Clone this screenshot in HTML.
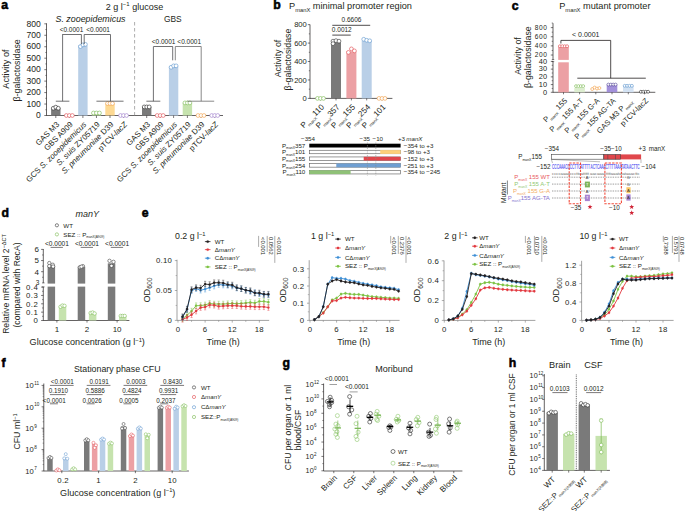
<!DOCTYPE html>
<html><head><meta charset="utf-8"><style>
html,body{margin:0;padding:0;background:#fff;overflow:hidden;}
svg{display:block;font-family:"Liberation Sans",sans-serif;}
</style></head><body>
<svg width="685" height="511" viewBox="0 0 685 511" fill="#231f20">
<text transform="translate(1.3 9.2) scale(1.02 1)" font-size="12" font-weight="bold" fill="#000" stroke="#000" stroke-width="0.55">a</text>
<text x="134.50" y="9.80" font-size="9" text-anchor="middle">2 g l<tspan dy="-3.5" font-size="6">−1</tspan><tspan dy="3.5"> glucose</tspan></text>
<text x="90.50" y="21.80" font-size="8.9" text-anchor="middle" font-style="italic">S. zooepidemicus</text>
<text x="172.80" y="21.80" font-size="8.4" text-anchor="middle">GBS</text>
<line x1="46.50" y1="23.30" x2="46.50" y2="115.80" stroke="#231f20" stroke-width="0.7"/>
<line x1="44.30" y1="115.50" x2="46.50" y2="115.50" stroke="#231f20" stroke-width="0.6"/>
<text x="40.90" y="118.20" font-size="8.6" text-anchor="end">0</text>
<line x1="44.30" y1="104.04" x2="46.50" y2="104.04" stroke="#231f20" stroke-width="0.6"/>
<text x="40.90" y="106.74" font-size="8.6" text-anchor="end">100</text>
<line x1="44.30" y1="92.58" x2="46.50" y2="92.58" stroke="#231f20" stroke-width="0.6"/>
<text x="40.90" y="95.28" font-size="8.6" text-anchor="end">200</text>
<line x1="44.30" y1="81.12" x2="46.50" y2="81.12" stroke="#231f20" stroke-width="0.6"/>
<text x="40.90" y="83.82" font-size="8.6" text-anchor="end">300</text>
<line x1="44.30" y1="69.66" x2="46.50" y2="69.66" stroke="#231f20" stroke-width="0.6"/>
<text x="40.90" y="72.36" font-size="8.6" text-anchor="end">400</text>
<line x1="44.30" y1="58.20" x2="46.50" y2="58.20" stroke="#231f20" stroke-width="0.6"/>
<text x="40.90" y="60.90" font-size="8.6" text-anchor="end">500</text>
<line x1="44.30" y1="46.74" x2="46.50" y2="46.74" stroke="#231f20" stroke-width="0.6"/>
<text x="40.90" y="49.44" font-size="8.6" text-anchor="end">600</text>
<line x1="44.30" y1="35.28" x2="46.50" y2="35.28" stroke="#231f20" stroke-width="0.6"/>
<text x="40.90" y="37.98" font-size="8.6" text-anchor="end">700</text>
<line x1="44.30" y1="23.82" x2="46.50" y2="23.82" stroke="#231f20" stroke-width="0.6"/>
<text x="40.90" y="26.52" font-size="8.6" text-anchor="end">800</text>
<line x1="45.30" y1="109.77" x2="46.50" y2="109.77" stroke="#231f20" stroke-width="0.5"/>
<line x1="45.30" y1="98.31" x2="46.50" y2="98.31" stroke="#231f20" stroke-width="0.5"/>
<line x1="45.30" y1="86.85" x2="46.50" y2="86.85" stroke="#231f20" stroke-width="0.5"/>
<line x1="45.30" y1="75.39" x2="46.50" y2="75.39" stroke="#231f20" stroke-width="0.5"/>
<line x1="45.30" y1="63.93" x2="46.50" y2="63.93" stroke="#231f20" stroke-width="0.5"/>
<line x1="45.30" y1="52.47" x2="46.50" y2="52.47" stroke="#231f20" stroke-width="0.5"/>
<line x1="45.30" y1="41.01" x2="46.50" y2="41.01" stroke="#231f20" stroke-width="0.5"/>
<line x1="45.30" y1="29.55" x2="46.50" y2="29.55" stroke="#231f20" stroke-width="0.5"/>
<text x="9.20" y="69.00" font-size="9.2" text-anchor="middle" transform="rotate(-90 9.20 69.00)">Activity of</text>
<text x="20.20" y="70.40" font-size="8.9" text-anchor="middle" transform="rotate(-90 20.20 70.40)">β-galactosidase</text>
<line x1="46.50" y1="115.50" x2="223.00" y2="115.50" stroke="#231f20" stroke-width="0.7"/>
<line x1="134.60" y1="22.00" x2="134.60" y2="116.00" stroke="#8a8a8a" stroke-width="0.7" stroke-dasharray="3.5,2.5"/>
<rect x="51.10" y="107.94" width="9.40" height="7.56" fill="#7a7a7a"/>
<line x1="55.80" y1="115.50" x2="55.80" y2="118.00" stroke="#231f20" stroke-width="0.6"/>
<circle cx="53.30" cy="108.24" r="1.9" fill="#fff" stroke="#222" stroke-width="0.6"/>
<circle cx="55.80" cy="107.14" r="1.9" fill="#fff" stroke="#222" stroke-width="0.6"/>
<circle cx="58.30" cy="108.24" r="1.9" fill="#fff" stroke="#222" stroke-width="0.6"/>
<line x1="69.35" y1="115.50" x2="69.35" y2="118.00" stroke="#231f20" stroke-width="0.6"/>
<circle cx="66.35" cy="115.50" r="1.9" fill="#fff" stroke="#e0474c" stroke-width="0.6"/>
<circle cx="69.35" cy="115.50" r="1.9" fill="#fff" stroke="#e0474c" stroke-width="0.6"/>
<circle cx="72.35" cy="115.50" r="1.9" fill="#fff" stroke="#e0474c" stroke-width="0.6"/>
<rect x="78.20" y="45.36" width="9.40" height="70.14" fill="#b9cfe7"/>
<line x1="82.90" y1="115.50" x2="82.90" y2="118.00" stroke="#231f20" stroke-width="0.6"/>
<circle cx="80.40" cy="46.56" r="1.9" fill="#fff" stroke="#5b93cc" stroke-width="0.6"/>
<circle cx="82.90" cy="44.86" r="1.9" fill="#fff" stroke="#5b93cc" stroke-width="0.6"/>
<circle cx="85.40" cy="44.36" r="1.9" fill="#fff" stroke="#5b93cc" stroke-width="0.6"/>
<rect x="91.75" y="112.98" width="9.40" height="2.52" fill="#c6e3ae"/>
<line x1="96.45" y1="115.50" x2="96.45" y2="118.00" stroke="#231f20" stroke-width="0.6"/>
<circle cx="93.45" cy="112.98" r="1.9" fill="#fff" stroke="#79b94f" stroke-width="0.6"/>
<circle cx="96.45" cy="112.98" r="1.9" fill="#fff" stroke="#79b94f" stroke-width="0.6"/>
<circle cx="99.45" cy="112.98" r="1.9" fill="#fff" stroke="#79b94f" stroke-width="0.6"/>
<rect x="105.30" y="103.47" width="9.40" height="12.03" fill="#fdd993"/>
<line x1="110.00" y1="115.50" x2="110.00" y2="118.00" stroke="#231f20" stroke-width="0.6"/>
<circle cx="107.50" cy="103.47" r="1.9" fill="#fff" stroke="#f19a3e" stroke-width="0.6"/>
<circle cx="110.00" cy="103.47" r="1.9" fill="#fff" stroke="#f19a3e" stroke-width="0.6"/>
<circle cx="112.50" cy="103.47" r="1.9" fill="#fff" stroke="#f19a3e" stroke-width="0.6"/>
<line x1="123.55" y1="115.50" x2="123.55" y2="118.00" stroke="#231f20" stroke-width="0.6"/>
<circle cx="120.55" cy="115.50" r="1.9" fill="#fff" stroke="#9b77c9" stroke-width="0.6"/>
<circle cx="123.55" cy="115.50" r="1.9" fill="#fff" stroke="#9b77c9" stroke-width="0.6"/>
<circle cx="126.55" cy="115.50" r="1.9" fill="#fff" stroke="#9b77c9" stroke-width="0.6"/>
<rect x="142.00" y="106.91" width="9.40" height="8.59" fill="#7a7a7a"/>
<line x1="146.70" y1="115.50" x2="146.70" y2="118.00" stroke="#231f20" stroke-width="0.6"/>
<circle cx="144.20" cy="106.91" r="1.9" fill="#fff" stroke="#222" stroke-width="0.6"/>
<circle cx="146.70" cy="106.91" r="1.9" fill="#fff" stroke="#222" stroke-width="0.6"/>
<circle cx="149.20" cy="106.91" r="1.9" fill="#fff" stroke="#222" stroke-width="0.6"/>
<line x1="160.20" y1="115.50" x2="160.20" y2="118.00" stroke="#231f20" stroke-width="0.6"/>
<circle cx="157.20" cy="115.50" r="1.9" fill="#fff" stroke="#e0474c" stroke-width="0.6"/>
<circle cx="160.20" cy="115.50" r="1.9" fill="#fff" stroke="#e0474c" stroke-width="0.6"/>
<circle cx="163.20" cy="115.50" r="1.9" fill="#fff" stroke="#e0474c" stroke-width="0.6"/>
<rect x="168.90" y="66.45" width="9.40" height="49.05" fill="#b9cfe7"/>
<line x1="173.60" y1="115.50" x2="173.60" y2="118.00" stroke="#231f20" stroke-width="0.6"/>
<circle cx="171.10" cy="67.25" r="1.9" fill="#fff" stroke="#5b93cc" stroke-width="0.6"/>
<circle cx="173.60" cy="65.85" r="1.9" fill="#fff" stroke="#5b93cc" stroke-width="0.6"/>
<circle cx="176.10" cy="65.85" r="1.9" fill="#fff" stroke="#5b93cc" stroke-width="0.6"/>
<rect x="182.70" y="102.89" width="9.40" height="12.61" fill="#c6e3ae"/>
<line x1="187.40" y1="115.50" x2="187.40" y2="118.00" stroke="#231f20" stroke-width="0.6"/>
<circle cx="184.90" cy="102.89" r="1.9" fill="#fff" stroke="#79b94f" stroke-width="0.6"/>
<circle cx="187.40" cy="102.89" r="1.9" fill="#fff" stroke="#79b94f" stroke-width="0.6"/>
<circle cx="189.90" cy="102.89" r="1.9" fill="#fff" stroke="#79b94f" stroke-width="0.6"/>
<line x1="201.00" y1="115.50" x2="201.00" y2="118.00" stroke="#231f20" stroke-width="0.6"/>
<circle cx="198.00" cy="115.50" r="1.9" fill="#fff" stroke="#f19a3e" stroke-width="0.6"/>
<circle cx="201.00" cy="115.50" r="1.9" fill="#fff" stroke="#f19a3e" stroke-width="0.6"/>
<circle cx="204.00" cy="115.50" r="1.9" fill="#fff" stroke="#f19a3e" stroke-width="0.6"/>
<line x1="214.70" y1="115.50" x2="214.70" y2="118.00" stroke="#231f20" stroke-width="0.6"/>
<circle cx="211.70" cy="115.50" r="1.9" fill="#fff" stroke="#9b77c9" stroke-width="0.6"/>
<circle cx="214.70" cy="115.50" r="1.9" fill="#fff" stroke="#9b77c9" stroke-width="0.6"/>
<circle cx="217.70" cy="115.50" r="1.9" fill="#fff" stroke="#9b77c9" stroke-width="0.6"/>
<text x="59.80" y="125.00" font-size="7.9" text-anchor="end" transform="rotate(-45 59.80 125.00)"><tspan>GAS M3</tspan></text>
<text x="73.35" y="125.00" font-size="7.9" text-anchor="end" transform="rotate(-45 73.35 125.00)"><tspan>GBS A909</tspan></text>
<text x="86.90" y="125.00" font-size="7.9" text-anchor="end" transform="rotate(-45 86.90 125.00)"><tspan>GCS </tspan><tspan font-style="italic">S. zooepidemicus</tspan></text>
<text x="100.45" y="125.00" font-size="7.9" text-anchor="end" transform="rotate(-45 100.45 125.00)"><tspan font-style="italic">S. suis</tspan><tspan> ZY05719</tspan></text>
<text x="114.00" y="125.00" font-size="7.9" text-anchor="end" transform="rotate(-45 114.00 125.00)"><tspan font-style="italic">S. pneumoniae</tspan><tspan> D39</tspan></text>
<text x="127.55" y="125.00" font-size="7.9" text-anchor="end" transform="rotate(-45 127.55 125.00)"><tspan>pTCV-</tspan><tspan font-style="italic">lacZ</tspan></text>
<text x="150.70" y="125.00" font-size="7.9" text-anchor="end" transform="rotate(-45 150.70 125.00)"><tspan>GAS M3</tspan></text>
<text x="164.20" y="125.00" font-size="7.9" text-anchor="end" transform="rotate(-45 164.20 125.00)"><tspan>GBS A909</tspan></text>
<text x="177.60" y="125.00" font-size="7.9" text-anchor="end" transform="rotate(-45 177.60 125.00)"><tspan>GCS </tspan><tspan font-style="italic">S. zooepidemicus</tspan></text>
<text x="191.40" y="125.00" font-size="7.9" text-anchor="end" transform="rotate(-45 191.40 125.00)"><tspan font-style="italic">S. suis</tspan><tspan> ZY05719</tspan></text>
<text x="205.00" y="125.00" font-size="7.9" text-anchor="end" transform="rotate(-45 205.00 125.00)"><tspan font-style="italic">S. pneumoniae</tspan><tspan> D39</tspan></text>
<text x="218.70" y="125.00" font-size="7.9" text-anchor="end" transform="rotate(-45 218.70 125.00)"><tspan>pTCV-</tspan><tspan font-style="italic">lacZ</tspan></text>
<polyline points="55.80,101.20 69.35,101.20" fill="none" stroke="#4d4d4f" stroke-width="0.8"/>
<line x1="62.60" y1="101.20" x2="62.60" y2="34.20" stroke="#4d4d4f" stroke-width="0.8"/>
<polyline points="62.60,34.50 81.40,34.50 81.40,44.20" fill="none" stroke="#4d4d4f" stroke-width="0.8"/>
<polyline points="84.20,44.20 84.20,34.50 110.50,34.50 110.50,101.20" fill="none" stroke="#4d4d4f" stroke-width="0.8"/>
<polyline points="96.45,101.20 123.55,101.20" fill="none" stroke="#4d4d4f" stroke-width="0.8"/>
<text x="71.50" y="31.80" font-size="6.5" text-anchor="middle">&lt;0.0001</text>
<text x="98.10" y="31.80" font-size="6.5" text-anchor="middle">&lt;0.0001</text>
<polyline points="146.40,101.20 160.30,101.20" fill="none" stroke="#4d4d4f" stroke-width="0.8"/>
<line x1="153.40" y1="101.20" x2="153.40" y2="46.70" stroke="#4d4d4f" stroke-width="0.8"/>
<polyline points="153.40,46.50 172.70,46.50 172.70,60.30" fill="none" stroke="#4d4d4f" stroke-width="0.8"/>
<polyline points="175.30,60.30 175.30,46.50 201.20,46.50 201.20,101.20" fill="none" stroke="#6a6a6a" stroke-width="0.8"/>
<polyline points="187.30,101.20 214.20,101.20" fill="none" stroke="#6a6a6a" stroke-width="0.8"/>
<text x="163.60" y="44.20" font-size="6.5" text-anchor="middle">&lt;0.0001</text>
<text x="189.20" y="44.20" font-size="6.5" text-anchor="middle">&lt;0.0001</text>
<text transform="translate(273.2 9.2) scale(1.02 1)" font-size="12" font-weight="bold" fill="#000" stroke="#000" stroke-width="0.55">b</text>
<text x="289.00" y="9.00" font-size="9.2">P<tspan dy="2.6" font-size="5.8">manX</tspan><tspan dy="-2.6"> minimal promoter region</tspan></text>
<line x1="310.00" y1="24.50" x2="310.00" y2="98.70" stroke="#231f20" stroke-width="0.7"/>
<line x1="307.80" y1="98.40" x2="310.00" y2="98.40" stroke="#231f20" stroke-width="0.6"/>
<text x="306.80" y="101.10" font-size="7.6" text-anchor="end">0</text>
<line x1="307.80" y1="79.96" x2="310.00" y2="79.96" stroke="#231f20" stroke-width="0.6"/>
<text x="306.80" y="82.66" font-size="7.6" text-anchor="end">200</text>
<line x1="307.80" y1="61.52" x2="310.00" y2="61.52" stroke="#231f20" stroke-width="0.6"/>
<text x="306.80" y="64.22" font-size="7.6" text-anchor="end">400</text>
<line x1="307.80" y1="43.08" x2="310.00" y2="43.08" stroke="#231f20" stroke-width="0.6"/>
<text x="306.80" y="45.78" font-size="7.6" text-anchor="end">600</text>
<line x1="307.80" y1="24.64" x2="310.00" y2="24.64" stroke="#231f20" stroke-width="0.6"/>
<text x="306.80" y="27.34" font-size="7.6" text-anchor="end">800</text>
<line x1="308.80" y1="89.18" x2="310.00" y2="89.18" stroke="#231f20" stroke-width="0.5"/>
<line x1="308.80" y1="70.74" x2="310.00" y2="70.74" stroke="#231f20" stroke-width="0.5"/>
<line x1="308.80" y1="52.30" x2="310.00" y2="52.30" stroke="#231f20" stroke-width="0.5"/>
<line x1="308.80" y1="33.86" x2="310.00" y2="33.86" stroke="#231f20" stroke-width="0.5"/>
<text x="280.80" y="58.50" font-size="8.8" text-anchor="middle" transform="rotate(-90 280.80 58.50)">Activity of</text>
<text x="291.20" y="59.50" font-size="8.8" text-anchor="middle" transform="rotate(-90 291.20 59.50)">β-galactosidase</text>
<line x1="310.00" y1="98.40" x2="392.40" y2="98.40" stroke="#231f20" stroke-width="0.7"/>
<line x1="320.50" y1="98.40" x2="320.50" y2="100.40" stroke="#231f20" stroke-width="0.6"/>
<circle cx="317.50" cy="98.40" r="1.9" fill="#fff" stroke="#79b94f" stroke-width="0.6"/>
<circle cx="320.50" cy="98.40" r="1.9" fill="#fff" stroke="#79b94f" stroke-width="0.6"/>
<circle cx="323.50" cy="98.40" r="1.9" fill="#fff" stroke="#79b94f" stroke-width="0.6"/>
<rect x="331.00" y="42.16" width="10.00" height="56.24" fill="#7a7a7a"/>
<line x1="336.00" y1="98.40" x2="336.00" y2="100.40" stroke="#231f20" stroke-width="0.6"/>
<circle cx="333.00" cy="41.16" r="1.9" fill="#fff" stroke="#333" stroke-width="0.6"/>
<circle cx="333.00" cy="43.66" r="1.9" fill="#fff" stroke="#333" stroke-width="0.6"/>
<circle cx="336.00" cy="40.66" r="1.9" fill="#fff" stroke="#333" stroke-width="0.6"/>
<circle cx="339.00" cy="41.16" r="1.9" fill="#fff" stroke="#333" stroke-width="0.6"/>
<rect x="346.40" y="51.38" width="10.00" height="47.02" fill="#eca0a4"/>
<line x1="351.40" y1="98.40" x2="351.40" y2="100.40" stroke="#231f20" stroke-width="0.6"/>
<circle cx="348.40" cy="52.38" r="1.9" fill="#fff" stroke="#e0474c" stroke-width="0.6"/>
<circle cx="351.40" cy="48.88" r="1.9" fill="#fff" stroke="#e0474c" stroke-width="0.6"/>
<circle cx="354.40" cy="50.88" r="1.9" fill="#fff" stroke="#e0474c" stroke-width="0.6"/>
<rect x="361.70" y="40.78" width="10.00" height="57.62" fill="#b9cfe7"/>
<line x1="366.70" y1="98.40" x2="366.70" y2="100.40" stroke="#231f20" stroke-width="0.6"/>
<circle cx="363.70" cy="39.28" r="1.9" fill="#fff" stroke="#5b93cc" stroke-width="0.6"/>
<circle cx="366.70" cy="40.28" r="1.9" fill="#fff" stroke="#5b93cc" stroke-width="0.6"/>
<circle cx="369.70" cy="40.78" r="1.9" fill="#fff" stroke="#5b93cc" stroke-width="0.6"/>
<line x1="382.00" y1="98.40" x2="382.00" y2="100.40" stroke="#231f20" stroke-width="0.6"/>
<circle cx="379.00" cy="98.40" r="1.9" fill="#fff" stroke="#f19a3e" stroke-width="0.6"/>
<circle cx="382.00" cy="98.40" r="1.9" fill="#fff" stroke="#f19a3e" stroke-width="0.6"/>
<circle cx="385.00" cy="98.40" r="1.9" fill="#fff" stroke="#f19a3e" stroke-width="0.6"/>
<text x="324.70" y="107.60" font-size="8" text-anchor="end" transform="rotate(-45 324.70 107.60)">P<tspan dy="2.8" font-size="4.3">manX</tspan><tspan dy="-2.8" font-size="8.1">110</tspan></text>
<text x="340.20" y="107.60" font-size="8" text-anchor="end" transform="rotate(-45 340.20 107.60)">P<tspan dy="2.8" font-size="4.3">manX</tspan><tspan dy="-2.8" font-size="8.1">357</tspan></text>
<text x="355.60" y="107.60" font-size="8" text-anchor="end" transform="rotate(-45 355.60 107.60)">P<tspan dy="2.8" font-size="4.3">manX</tspan><tspan dy="-2.8" font-size="8.1">155</tspan></text>
<text x="370.90" y="107.60" font-size="8" text-anchor="end" transform="rotate(-45 370.90 107.60)">P<tspan dy="2.8" font-size="4.3">manX</tspan><tspan dy="-2.8" font-size="8.1">254</tspan></text>
<text x="386.20" y="107.60" font-size="8" text-anchor="end" transform="rotate(-45 386.20 107.60)">P<tspan dy="2.8" font-size="4.3">manX</tspan><tspan dy="-2.8" font-size="8.1">101</tspan></text>
<line x1="332.30" y1="25.30" x2="370.20" y2="25.30" stroke="#231f20" stroke-width="0.8"/>
<text x="351.50" y="21.60" font-size="6.5" text-anchor="middle">0.6606</text>
<line x1="332.30" y1="35.10" x2="350.70" y2="35.10" stroke="#231f20" stroke-width="0.8"/>
<text x="341.80" y="32.40" font-size="6.5" text-anchor="middle">0.0012</text>
<text x="308.00" y="140.80" font-size="6.2" text-anchor="middle">−354</text>
<text x="364.80" y="140.80" font-size="6.2" text-anchor="middle">−35</text>
<text x="377.80" y="140.80" font-size="6.2" text-anchor="middle">−10</text>
<text x="398.00" y="140.80" font-size="6.2">+3 </text>
<text x="406.30" y="140.80" font-size="6.2" font-style="italic">manX</text>
<rect x="309.30" y="143.70" width="91.30" height="3.80" fill="#000"/>
<rect x="309.60" y="150.25" width="90.70" height="3.50" fill="#fff" stroke="#555" stroke-width="0.6"/>
<rect x="309.60" y="156.95" width="90.70" height="3.50" fill="#fff" stroke="#555" stroke-width="0.6"/>
<rect x="309.60" y="163.65" width="90.70" height="3.50" fill="#fff" stroke="#555" stroke-width="0.6"/>
<rect x="309.60" y="170.45" width="90.70" height="3.50" fill="#fff" stroke="#555" stroke-width="0.6"/>
<rect x="380.20" y="150.10" width="20.40" height="3.80" fill="#fdd07a"/>
<rect x="363.70" y="156.80" width="36.90" height="3.80" fill="#e0474c"/>
<rect x="336.30" y="163.50" width="64.30" height="3.80" fill="#6f9fd2"/>
<rect x="309.30" y="170.30" width="41.30" height="3.80" fill="#8fc177"/>
<line x1="367.40" y1="142.50" x2="367.40" y2="175.50" stroke="#8a8a8a" stroke-width="0.55" stroke-dasharray="1.5,1"/>
<line x1="375.80" y1="142.50" x2="375.80" y2="175.50" stroke="#8a8a8a" stroke-width="0.55" stroke-dasharray="1.5,1"/>
<text x="305.30" y="147.70" font-size="6.2" text-anchor="end">P<tspan dy="1.6" font-size="3.4">manX</tspan><tspan dy="-1.6">357</tspan></text>
<text x="403.80" y="147.70" font-size="6.2">−354 to +3</text>
<text x="305.30" y="154.10" font-size="6.2" text-anchor="end">P<tspan dy="1.6" font-size="3.4">manX</tspan><tspan dy="-1.6">101</tspan></text>
<text x="403.80" y="154.10" font-size="6.2">−98 to +3</text>
<text x="305.30" y="160.80" font-size="6.2" text-anchor="end">P<tspan dy="1.6" font-size="3.4">manX</tspan><tspan dy="-1.6">155</tspan></text>
<text x="403.80" y="160.80" font-size="6.2">−152 to +3</text>
<text x="305.30" y="167.50" font-size="6.2" text-anchor="end">P<tspan dy="1.6" font-size="3.4">manX</tspan><tspan dy="-1.6">254</tspan></text>
<text x="403.80" y="167.50" font-size="6.2">−251 to +3</text>
<text x="305.30" y="174.30" font-size="6.2" text-anchor="end">P<tspan dy="1.6" font-size="3.4">manX</tspan><tspan dy="-1.6">110</tspan></text>
<text x="403.80" y="174.30" font-size="6.2">−354 to −245</text>
<text transform="translate(511.8 9.5) scale(1.02 1)" font-size="12" font-weight="bold" fill="#000" stroke="#000" stroke-width="0.55">c</text>
<text x="559.20" y="9.00" font-size="9.2">P<tspan dy="2.6" font-size="5.8">manX</tspan><tspan dy="-2.6"> mutant promoter</tspan></text>
<line x1="553.00" y1="23.20" x2="553.00" y2="59.60" stroke="#231f20" stroke-width="0.7"/>
<line x1="553.00" y1="61.60" x2="553.00" y2="92.60" stroke="#231f20" stroke-width="0.7"/>
<line x1="551.80" y1="59.60" x2="554.20" y2="59.60" stroke="#231f20" stroke-width="0.6"/>
<line x1="551.80" y1="61.60" x2="554.20" y2="61.60" stroke="#231f20" stroke-width="0.6"/>
<line x1="550.80" y1="27.61" x2="553.00" y2="27.61" stroke="#231f20" stroke-width="0.6"/>
<text x="547.50" y="29.81" font-size="6.6" text-anchor="end" letter-spacing="0.55">800</text>
<line x1="550.80" y1="36.75" x2="553.00" y2="36.75" stroke="#231f20" stroke-width="0.6"/>
<text x="547.50" y="38.95" font-size="6.6" text-anchor="end" letter-spacing="0.55">600</text>
<line x1="550.80" y1="45.89" x2="553.00" y2="45.89" stroke="#231f20" stroke-width="0.6"/>
<text x="547.50" y="48.09" font-size="6.6" text-anchor="end" letter-spacing="0.55">400</text>
<line x1="550.80" y1="55.03" x2="553.00" y2="55.03" stroke="#231f20" stroke-width="0.6"/>
<text x="547.50" y="57.23" font-size="6.6" text-anchor="end" letter-spacing="0.55">200</text>
<line x1="551.70" y1="23.04" x2="553.00" y2="23.04" stroke="#231f20" stroke-width="0.5"/>
<line x1="551.70" y1="32.18" x2="553.00" y2="32.18" stroke="#231f20" stroke-width="0.5"/>
<line x1="551.70" y1="41.32" x2="553.00" y2="41.32" stroke="#231f20" stroke-width="0.5"/>
<line x1="551.70" y1="50.46" x2="553.00" y2="50.46" stroke="#231f20" stroke-width="0.5"/>
<line x1="550.80" y1="92.30" x2="553.00" y2="92.30" stroke="#231f20" stroke-width="0.6"/>
<text x="547.50" y="94.60" font-size="7.4" text-anchor="end" letter-spacing="0.3">0</text>
<line x1="550.80" y1="84.58" x2="553.00" y2="84.58" stroke="#231f20" stroke-width="0.6"/>
<text x="547.50" y="86.88" font-size="7.4" text-anchor="end" letter-spacing="0.3">10</text>
<line x1="550.80" y1="76.86" x2="553.00" y2="76.86" stroke="#231f20" stroke-width="0.6"/>
<text x="547.50" y="79.16" font-size="7.4" text-anchor="end" letter-spacing="0.3">20</text>
<line x1="550.80" y1="69.14" x2="553.00" y2="69.14" stroke="#231f20" stroke-width="0.6"/>
<text x="547.50" y="71.44" font-size="7.4" text-anchor="end" letter-spacing="0.3">30</text>
<line x1="550.80" y1="61.42" x2="553.00" y2="61.42" stroke="#231f20" stroke-width="0.6"/>
<text x="547.50" y="63.72" font-size="7.4" text-anchor="end" letter-spacing="0.3">40</text>
<line x1="551.70" y1="88.44" x2="553.00" y2="88.44" stroke="#231f20" stroke-width="0.5"/>
<line x1="551.70" y1="80.72" x2="553.00" y2="80.72" stroke="#231f20" stroke-width="0.5"/>
<line x1="551.70" y1="73.00" x2="553.00" y2="73.00" stroke="#231f20" stroke-width="0.5"/>
<line x1="551.70" y1="65.28" x2="553.00" y2="65.28" stroke="#231f20" stroke-width="0.5"/>
<text x="521.00" y="56.00" font-size="8.8" text-anchor="middle" transform="rotate(-90 521.00 56.00)">Activity of</text>
<text x="530.60" y="57.20" font-size="8.8" text-anchor="middle" transform="rotate(-90 530.60 57.20)">β-galactosidase</text>
<line x1="553.00" y1="92.30" x2="655.30" y2="92.30" stroke="#231f20" stroke-width="0.7"/>
<rect x="558.20" y="45.89" width="10.60" height="14.01" fill="#eca0a4"/>
<rect x="558.20" y="62.30" width="10.60" height="30.00" fill="#eca0a4"/>
<circle cx="559.90" cy="46.19" r="1.45" fill="#fff" stroke="#e0474c" stroke-width="0.6"/>
<circle cx="562.30" cy="46.19" r="1.45" fill="#fff" stroke="#e0474c" stroke-width="0.6"/>
<circle cx="564.70" cy="46.19" r="1.45" fill="#fff" stroke="#e0474c" stroke-width="0.6"/>
<circle cx="567.10" cy="46.19" r="1.45" fill="#fff" stroke="#e0474c" stroke-width="0.6"/>
<rect x="574.30" y="87.98" width="10.60" height="4.32" fill="#dcedcf"/>
<circle cx="576.00" cy="86.12" r="1.45" fill="#fff" stroke="#79b94f" stroke-width="0.6"/>
<circle cx="578.40" cy="86.12" r="1.45" fill="#fff" stroke="#79b94f" stroke-width="0.6"/>
<circle cx="580.80" cy="86.12" r="1.45" fill="#fff" stroke="#79b94f" stroke-width="0.6"/>
<circle cx="583.20" cy="86.12" r="1.45" fill="#fff" stroke="#79b94f" stroke-width="0.6"/>
<circle cx="592.20" cy="89.05" r="1.45" fill="#fff" stroke="#f19a3e" stroke-width="0.6"/>
<circle cx="594.60" cy="87.55" r="1.45" fill="#fff" stroke="#f19a3e" stroke-width="0.6"/>
<circle cx="597.00" cy="88.55" r="1.45" fill="#fff" stroke="#f19a3e" stroke-width="0.6"/>
<circle cx="599.40" cy="88.05" r="1.45" fill="#fff" stroke="#f19a3e" stroke-width="0.6"/>
<rect x="606.70" y="84.58" width="10.60" height="7.72" fill="#a290da"/>
<circle cx="608.40" cy="84.58" r="1.45" fill="#fff" stroke="#4e3f92" stroke-width="0.6"/>
<circle cx="610.80" cy="84.58" r="1.45" fill="#fff" stroke="#4e3f92" stroke-width="0.6"/>
<circle cx="613.20" cy="84.58" r="1.45" fill="#fff" stroke="#4e3f92" stroke-width="0.6"/>
<circle cx="615.60" cy="84.58" r="1.45" fill="#fff" stroke="#4e3f92" stroke-width="0.6"/>
<rect x="623.00" y="85.82" width="10.60" height="6.48" fill="#d3e2f3"/>
<circle cx="624.70" cy="85.82" r="1.45" fill="#fff" stroke="#5b93cc" stroke-width="0.6"/>
<circle cx="627.10" cy="85.82" r="1.45" fill="#fff" stroke="#5b93cc" stroke-width="0.6"/>
<circle cx="629.50" cy="85.82" r="1.45" fill="#fff" stroke="#5b93cc" stroke-width="0.6"/>
<circle cx="631.90" cy="85.82" r="1.45" fill="#fff" stroke="#5b93cc" stroke-width="0.6"/>
<circle cx="640.90" cy="91.76" r="1.45" fill="#fff" stroke="#222" stroke-width="0.6"/>
<circle cx="643.30" cy="91.76" r="1.45" fill="#fff" stroke="#222" stroke-width="0.6"/>
<circle cx="645.70" cy="91.76" r="1.45" fill="#fff" stroke="#222" stroke-width="0.6"/>
<circle cx="648.10" cy="91.76" r="1.45" fill="#fff" stroke="#222" stroke-width="0.6"/>
<line x1="563.50" y1="92.30" x2="563.50" y2="94.30" stroke="#231f20" stroke-width="0.6"/>
<line x1="579.60" y1="92.30" x2="579.60" y2="94.30" stroke="#231f20" stroke-width="0.6"/>
<line x1="595.80" y1="92.30" x2="595.80" y2="94.30" stroke="#231f20" stroke-width="0.6"/>
<line x1="612.00" y1="92.30" x2="612.00" y2="94.30" stroke="#231f20" stroke-width="0.6"/>
<line x1="628.30" y1="92.30" x2="628.30" y2="94.30" stroke="#231f20" stroke-width="0.6"/>
<line x1="644.50" y1="92.30" x2="644.50" y2="94.30" stroke="#231f20" stroke-width="0.6"/>
<polyline points="560.90,43.50 560.90,40.40 610.70,40.40 610.70,78.20" fill="none" stroke="#231f20" stroke-width="0.8"/>
<line x1="577.30" y1="78.20" x2="645.80" y2="78.20" stroke="#231f20" stroke-width="0.8"/>
<text x="585.80" y="37.00" font-size="7" text-anchor="middle">&lt; 0.0001</text>
<text x="567.70" y="101.20" font-size="7.6" text-anchor="end" transform="rotate(-45 567.70 101.20)">P<tspan dy="2.6" font-size="4">manX</tspan><tspan dy="-2.6"> 155</tspan></text>
<text x="583.80" y="101.20" font-size="7.6" text-anchor="end" transform="rotate(-45 583.80 101.20)">P<tspan dy="2.6" font-size="4">manX</tspan><tspan dy="-2.6"> 155 A-T</tspan></text>
<text x="600.00" y="101.20" font-size="7.6" text-anchor="end" transform="rotate(-45 600.00 101.20)">P<tspan dy="2.6" font-size="4">manX</tspan><tspan dy="-2.6"> 155 G-A</tspan></text>
<text x="616.20" y="101.20" font-size="7.6" text-anchor="end" transform="rotate(-45 616.20 101.20)">P<tspan dy="2.6" font-size="4">manX</tspan><tspan dy="-2.6"> 155 AG-TA</tspan></text>
<text x="632.50" y="101.20" font-size="7.6" text-anchor="end" transform="rotate(-45 632.50 101.20)">GAS M3 P<tspan dy="2.6" font-size="4">manX</tspan></text>
<text x="648.70" y="101.20" font-size="7.6" text-anchor="end" transform="rotate(-45 648.70 101.20)">pTCV-lacZ</text>
<text x="551.90" y="150.60" font-size="6.3" text-anchor="middle">−354</text>
<text x="611.00" y="150.60" font-size="6.3" text-anchor="middle">−35−10</text>
<text x="638.60" y="150.60" font-size="6.3">+3 </text>
<text x="648.80" y="150.60" font-size="6.3">manX</text>
<text x="541.90" y="159.40" font-size="6.3" text-anchor="end">P<tspan dy="1.6" font-size="3.4">manX</tspan><tspan dy="-1.6">155</tspan></text>
<rect x="551.40" y="154.60" width="52.40" height="4.60" fill="#fff" stroke="#444" stroke-width="0.6"/>
<rect x="603.80" y="154.40" width="37.30" height="5.00" fill="#e0474c"/>
<rect x="603.80" y="154.60" width="16.70" height="4.60" fill="none" stroke="#444" stroke-width="0.6"/>
<line x1="607.80" y1="154.40" x2="607.80" y2="159.40" stroke="#444" stroke-width="0.5"/>
<line x1="615.50" y1="154.40" x2="615.50" y2="159.40" stroke="#444" stroke-width="0.5"/>
<line x1="551.40" y1="159.40" x2="600.00" y2="161.80" stroke="#555" stroke-width="0.4"/>
<line x1="641.00" y1="159.40" x2="641.00" y2="163.00" stroke="#555" stroke-width="0.4"/>
<line x1="551.40" y1="159.40" x2="552.50" y2="163.00" stroke="#555" stroke-width="0.4"/>
<text x="550.60" y="169.00" font-size="6.3" text-anchor="end">−152</text>
<text x="641.50" y="168.60" font-size="6.3">−104</text>
<text x="552.10" y="169.10" font-size="6.6" fill="#4f4ff2" textLength="87.5" lengthAdjust="spacingAndGlyphs" stroke="#4f4ff2" stroke-width="0.15">CCCAAACCCCTTCATTTT ACTCAAACTTTTAAATATA ACTTC</text>
<text x="552.10" y="174.60" font-size="3" fill="#666" textLength="87.5" lengthAdjust="spacingAndGlyphs">ccccaaaacccttcattttt aacaaacttttaaatatataaacttc</text>
<text x="549.90" y="179.30" font-size="6" text-anchor="end" fill="#e85a5e">P<tspan dy="1.6" font-size="3.4">manX</tspan><tspan dy="-1.6"> 155 WT</tspan></text>
<line x1="552.00" y1="177.20" x2="640.00" y2="177.20" stroke="#333" stroke-width="0.6" stroke-dasharray="0.8,0.9"/>
<text x="549.90" y="186.20" font-size="6" text-anchor="end" fill="#92c873">P<tspan dy="1.6" font-size="3.4">manX</tspan><tspan dy="-1.6"> 155 A-T</tspan></text>
<line x1="552.00" y1="184.10" x2="640.00" y2="184.10" stroke="#333" stroke-width="0.6" stroke-dasharray="0.8,0.9"/>
<text x="549.90" y="193.10" font-size="6" text-anchor="end" fill="#f2ac62">P<tspan dy="1.6" font-size="3.4">manX</tspan><tspan dy="-1.6"> 155 G-A</tspan></text>
<line x1="552.00" y1="191.00" x2="640.00" y2="191.00" stroke="#333" stroke-width="0.6" stroke-dasharray="0.8,0.9"/>
<text x="549.90" y="200.10" font-size="6" text-anchor="end" fill="#8573cf">P<tspan dy="1.6" font-size="3.4">manX</tspan><tspan dy="-1.6">155 AG-TA</tspan></text>
<line x1="552.00" y1="198.00" x2="640.00" y2="198.00" stroke="#333" stroke-width="0.6" stroke-dasharray="0.8,0.9"/>
<rect x="584.90" y="181.60" width="5.00" height="5.80" fill="#7cb35a"/>
<text x="587.40" y="186.00" font-size="4.2" text-anchor="middle" fill="#fff">T</text>
<rect x="584.90" y="194.70" width="5.00" height="6.40" fill="#a983d1"/>
<text x="587.40" y="199.40" font-size="4.2" text-anchor="middle" fill="#fff">T</text>
<rect x="626.40" y="187.20" width="4.20" height="6.00" fill="#fcc966"/>
<text x="628.50" y="191.80" font-size="4.2" text-anchor="middle" fill="#333">A</text>
<rect x="626.40" y="194.40" width="4.20" height="6.20" fill="#a983d1"/>
<text x="628.50" y="199.20" font-size="4.2" text-anchor="middle" fill="#333">A</text>
<text x="587.20" y="178.80" font-size="4" text-anchor="middle" fill="#444">A</text>
<text x="587.20" y="192.60" font-size="4" text-anchor="middle" fill="#444">A</text>
<text x="628.40" y="178.80" font-size="4" text-anchor="middle" fill="#444">G</text>
<text x="628.40" y="185.70" font-size="4" text-anchor="middle" fill="#444">G</text>
<rect x="569.20" y="163.00" width="11.30" height="40.80" fill="none" stroke="#f24b3a" stroke-width="1.1" stroke-dasharray="2.4,1.2"/>
<rect x="604.90" y="163.00" width="16.50" height="40.80" fill="none" stroke="#f24b3a" stroke-width="1.1" stroke-dasharray="2.4,1.2"/>
<text x="576.00" y="210.00" font-size="6.3" text-anchor="middle">−35</text>
<text x="614.40" y="210.00" font-size="6.3" text-anchor="middle">−10</text>
<polygon points="590.00,204.40 590.64,206.12 592.47,206.20 591.04,207.34 591.53,209.10 590.00,208.09 588.47,209.10 588.96,207.34 587.53,206.20 589.36,206.12" fill="#d02436"/>
<polygon points="631.70,204.40 632.34,206.12 634.17,206.20 632.74,207.34 633.23,209.10 631.70,208.09 630.17,209.10 630.66,207.34 629.23,206.20 631.06,206.12" fill="#d02436"/>
<polygon points="631.70,210.30 632.34,212.02 634.17,212.10 632.74,213.24 633.23,215.00 631.70,213.99 630.17,215.00 630.66,213.24 629.23,212.10 631.06,212.02" fill="#d02436"/>
<text x="505.60" y="192.80" font-size="6.6" text-anchor="middle" transform="rotate(-90 505.60 192.80)">Mutant</text>
<line x1="507.40" y1="180.50" x2="507.40" y2="194.50" stroke="#333" stroke-width="0.6"/>
<text transform="translate(1.5 217.3) scale(1.02 1)" font-size="12" font-weight="bold" fill="#000" stroke="#000" stroke-width="0.55">d</text>
<text x="87.20" y="216.60" font-size="9" text-anchor="middle" font-style="italic">manY</text>
<line x1="43.30" y1="249.00" x2="43.30" y2="282.90" stroke="#231f20" stroke-width="0.7"/>
<line x1="43.30" y1="286.90" x2="43.30" y2="320.80" stroke="#231f20" stroke-width="0.7"/>
<line x1="42.10" y1="282.90" x2="44.50" y2="282.90" stroke="#231f20" stroke-width="0.6"/>
<line x1="42.10" y1="286.90" x2="44.50" y2="286.90" stroke="#231f20" stroke-width="0.6"/>
<line x1="41.10" y1="249.40" x2="43.30" y2="249.40" stroke="#231f20" stroke-width="0.6"/>
<text x="39.30" y="252.20" font-size="8" text-anchor="end" letter-spacing="0.3">6</text>
<line x1="41.10" y1="260.55" x2="43.30" y2="260.55" stroke="#231f20" stroke-width="0.6"/>
<text x="39.30" y="263.35" font-size="8" text-anchor="end" letter-spacing="0.3">5</text>
<line x1="41.10" y1="271.70" x2="43.30" y2="271.70" stroke="#231f20" stroke-width="0.6"/>
<text x="39.30" y="274.50" font-size="8" text-anchor="end" letter-spacing="0.3">4</text>
<text x="39.30" y="284.90" font-size="6.5" text-anchor="end">3</text>
<line x1="42.00" y1="254.97" x2="43.30" y2="254.97" stroke="#231f20" stroke-width="0.5"/>
<line x1="42.00" y1="266.12" x2="43.30" y2="266.12" stroke="#231f20" stroke-width="0.5"/>
<line x1="42.00" y1="277.27" x2="43.30" y2="277.27" stroke="#231f20" stroke-width="0.5"/>
<line x1="41.10" y1="287.10" x2="43.30" y2="287.10" stroke="#231f20" stroke-width="0.6"/>
<text x="38.30" y="289.90" font-size="7.8" text-anchor="end" letter-spacing="0.5">0.4</text>
<line x1="41.10" y1="295.45" x2="43.30" y2="295.45" stroke="#231f20" stroke-width="0.6"/>
<text x="38.30" y="298.25" font-size="7.8" text-anchor="end" letter-spacing="0.5">0.3</text>
<line x1="41.10" y1="303.80" x2="43.30" y2="303.80" stroke="#231f20" stroke-width="0.6"/>
<text x="38.30" y="306.60" font-size="7.8" text-anchor="end" letter-spacing="0.5">0.2</text>
<line x1="41.10" y1="312.15" x2="43.30" y2="312.15" stroke="#231f20" stroke-width="0.6"/>
<text x="38.30" y="314.95" font-size="7.8" text-anchor="end" letter-spacing="0.5">0.1</text>
<line x1="41.10" y1="320.50" x2="43.30" y2="320.50" stroke="#231f20" stroke-width="0.6"/>
<text x="38.30" y="323.30" font-size="7.8" text-anchor="end" letter-spacing="0.5">0</text>
<line x1="42.00" y1="291.27" x2="43.30" y2="291.27" stroke="#231f20" stroke-width="0.5"/>
<line x1="42.00" y1="299.62" x2="43.30" y2="299.62" stroke="#231f20" stroke-width="0.5"/>
<line x1="42.00" y1="307.98" x2="43.30" y2="307.98" stroke="#231f20" stroke-width="0.5"/>
<line x1="42.00" y1="316.32" x2="43.30" y2="316.32" stroke="#231f20" stroke-width="0.5"/>
<text x="9.20" y="284.00" font-size="8.6" text-anchor="middle" transform="rotate(-90 9.20 284.00)">Relative mRNA level 2<tspan dy="-3" font-size="5.5">−ΔCT</tspan></text>
<text x="19.60" y="285.00" font-size="8.6" text-anchor="middle" transform="rotate(-90 19.60 285.00)">(compared with RecA)</text>
<line x1="43.30" y1="320.50" x2="129.40" y2="320.50" stroke="#231f20" stroke-width="0.7"/>
<rect x="47.60" y="265.57" width="7.50" height="18.03" fill="#7a7a7a"/>
<rect x="47.60" y="286.60" width="7.50" height="33.90" fill="#7a7a7a"/>
<rect x="58.80" y="306.31" width="7.50" height="14.19" fill="#c6e3ae"/>
<line x1="56.90" y1="320.50" x2="56.90" y2="322.60" stroke="#231f20" stroke-width="0.6"/>
<text x="56.90" y="245.90" font-size="6.6" text-anchor="middle">&lt;0.0001</text>
<line x1="50.60" y1="247.40" x2="62.90" y2="247.40" stroke="#231f20" stroke-width="0.6"/>
<text x="56.90" y="331.80" font-size="8" text-anchor="middle">1</text>
<rect x="77.70" y="266.68" width="7.50" height="16.92" fill="#7a7a7a"/>
<rect x="77.70" y="286.60" width="7.50" height="33.90" fill="#7a7a7a"/>
<rect x="88.90" y="312.99" width="7.50" height="7.51" fill="#c6e3ae"/>
<line x1="87.00" y1="320.50" x2="87.00" y2="322.60" stroke="#231f20" stroke-width="0.6"/>
<text x="87.00" y="245.90" font-size="6.6" text-anchor="middle">&lt;0.0001</text>
<line x1="80.70" y1="247.40" x2="93.00" y2="247.40" stroke="#231f20" stroke-width="0.6"/>
<text x="87.00" y="331.80" font-size="8" text-anchor="middle">2</text>
<rect x="107.80" y="263.34" width="7.50" height="20.26" fill="#7a7a7a"/>
<rect x="107.80" y="286.60" width="7.50" height="33.90" fill="#7a7a7a"/>
<rect x="119.00" y="315.91" width="7.50" height="4.59" fill="#c6e3ae"/>
<line x1="117.10" y1="320.50" x2="117.10" y2="322.60" stroke="#231f20" stroke-width="0.6"/>
<text x="117.10" y="245.90" font-size="6.6" text-anchor="middle">&lt;0.0001</text>
<line x1="110.80" y1="247.40" x2="123.10" y2="247.40" stroke="#231f20" stroke-width="0.6"/>
<text x="117.10" y="331.80" font-size="8" text-anchor="middle">10</text>
<circle cx="49.30" cy="263.07" r="1.7" fill="#fff" stroke="#333" stroke-width="0.55"/>
<circle cx="49.30" cy="266.07" r="1.7" fill="#fff" stroke="#333" stroke-width="0.55"/>
<circle cx="52.80" cy="264.77" r="1.7" fill="#fff" stroke="#333" stroke-width="0.55"/>
<circle cx="53.10" cy="266.57" r="1.7" fill="#fff" stroke="#333" stroke-width="0.55"/>
<circle cx="60.50" cy="306.81" r="1.7" fill="#fff" stroke="#79b94f" stroke-width="0.55"/>
<circle cx="62.50" cy="305.50" r="1.7" fill="#fff" stroke="#79b94f" stroke-width="0.55"/>
<circle cx="64.50" cy="305.81" r="1.7" fill="#fff" stroke="#79b94f" stroke-width="0.55"/>
<circle cx="79.90" cy="267.18" r="1.7" fill="#fff" stroke="#333" stroke-width="0.55"/>
<circle cx="82.90" cy="266.18" r="1.7" fill="#fff" stroke="#333" stroke-width="0.55"/>
<circle cx="81.40" cy="266.68" r="1.7" fill="#fff" stroke="#333" stroke-width="0.55"/>
<circle cx="90.60" cy="312.99" r="1.7" fill="#fff" stroke="#79b94f" stroke-width="0.55"/>
<circle cx="92.60" cy="312.49" r="1.7" fill="#fff" stroke="#79b94f" stroke-width="0.55"/>
<circle cx="94.60" cy="313.49" r="1.7" fill="#fff" stroke="#79b94f" stroke-width="0.55"/>
<circle cx="109.50" cy="260.84" r="1.7" fill="#fff" stroke="#333" stroke-width="0.55"/>
<circle cx="111.50" cy="265.84" r="1.7" fill="#fff" stroke="#333" stroke-width="0.55"/>
<circle cx="113.50" cy="261.84" r="1.7" fill="#fff" stroke="#333" stroke-width="0.55"/>
<circle cx="120.70" cy="315.91" r="1.7" fill="#fff" stroke="#79b94f" stroke-width="0.55"/>
<circle cx="122.70" cy="315.91" r="1.7" fill="#fff" stroke="#79b94f" stroke-width="0.55"/>
<circle cx="124.70" cy="315.91" r="1.7" fill="#fff" stroke="#79b94f" stroke-width="0.55"/>
<text x="29.60" y="345.30" font-size="9.1">Glucose concentration (g l<tspan dy="-3.4" font-size="5.8">−1</tspan><tspan dy="3.4">)</tspan></text>
<circle cx="56.90" cy="225.30" r="1.6" fill="#fff" stroke="#333" stroke-width="0.6"/>
<text x="63.30" y="227.60" font-size="6.2">WT</text>
<circle cx="56.90" cy="234.40" r="1.6" fill="#fff" stroke="#79b94f" stroke-width="0.6"/>
<text x="63.30" y="236.70" font-size="6.2">SEZ :: P<tspan dy="1.6" font-size="3.2">manX(A909)</tspan></text>
<text transform="translate(141.8 217.0) scale(1.02 1)" font-size="12" font-weight="bold" fill="#000" stroke="#000" stroke-width="0.55">e</text>
<line x1="177.00" y1="259.70" x2="177.00" y2="320.40" stroke="#7a7a7a" stroke-width="0.7"/>
<line x1="174.80" y1="320.40" x2="177.00" y2="320.40" stroke="#7a7a7a" stroke-width="0.6"/>
<text x="172.10" y="323.20" font-size="7.8" text-anchor="end" letter-spacing="0.25">0</text>
<line x1="174.80" y1="290.50" x2="177.00" y2="290.50" stroke="#7a7a7a" stroke-width="0.6"/>
<text x="172.10" y="293.30" font-size="7.8" text-anchor="end" letter-spacing="0.25">0.05</text>
<line x1="174.80" y1="260.60" x2="177.00" y2="260.60" stroke="#7a7a7a" stroke-width="0.6"/>
<text x="172.10" y="263.40" font-size="7.8" text-anchor="end" letter-spacing="0.25">0.10</text>
<line x1="175.60" y1="305.45" x2="177.00" y2="305.45" stroke="#7a7a7a" stroke-width="0.5"/>
<line x1="175.60" y1="275.55" x2="177.00" y2="275.55" stroke="#7a7a7a" stroke-width="0.5"/>
<line x1="177.00" y1="320.40" x2="269.20" y2="320.40" stroke="#7a7a7a" stroke-width="0.7"/>
<line x1="178.00" y1="320.40" x2="178.00" y2="322.60" stroke="#7a7a7a" stroke-width="0.6"/>
<text x="178.00" y="332.30" font-size="7.8" text-anchor="middle" letter-spacing="0.2">0</text>
<line x1="191.56" y1="320.40" x2="191.56" y2="321.80" stroke="#7a7a7a" stroke-width="0.6"/>
<line x1="205.12" y1="320.40" x2="205.12" y2="322.60" stroke="#7a7a7a" stroke-width="0.6"/>
<text x="205.12" y="332.30" font-size="7.8" text-anchor="middle" letter-spacing="0.2">6</text>
<line x1="218.68" y1="320.40" x2="218.68" y2="321.80" stroke="#7a7a7a" stroke-width="0.6"/>
<line x1="232.24" y1="320.40" x2="232.24" y2="322.60" stroke="#7a7a7a" stroke-width="0.6"/>
<text x="232.24" y="332.30" font-size="7.8" text-anchor="middle" letter-spacing="0.2">12</text>
<line x1="245.80" y1="320.40" x2="245.80" y2="321.80" stroke="#7a7a7a" stroke-width="0.6"/>
<line x1="259.36" y1="320.40" x2="259.36" y2="322.60" stroke="#7a7a7a" stroke-width="0.6"/>
<text x="259.36" y="332.30" font-size="7.8" text-anchor="middle" letter-spacing="0.2">18</text>
<text x="223.20" y="344.60" font-size="9" text-anchor="middle">Time (h)</text>
<text x="149.70" y="290.00" font-size="9.2" text-anchor="middle" transform="rotate(-90 149.70 290.00)">OD<tspan dy="2.3" font-size="6.8">600</tspan></text>
<text x="175.00" y="239.00" font-size="8.8">0.2 g l<tspan dy="-3.4" font-size="5.8">−1</tspan></text>
<line x1="204.90" y1="241.60" x2="210.50" y2="241.60" stroke="#231f20" stroke-width="0.8"/>
<circle cx="207.70" cy="241.60" r="1.2" fill="#231f20" stroke="#231f20" stroke-width="0.2"/>
<text x="214.70" y="243.70" font-size="6.2">WT</text>
<line x1="204.90" y1="249.60" x2="210.50" y2="249.60" stroke="#e2383f" stroke-width="0.8"/>
<circle cx="207.70" cy="249.60" r="1.2" fill="#e2383f" stroke="#e2383f" stroke-width="0.2"/>
<text x="214.70" y="251.70" font-size="6.2">Δ<tspan font-style="italic">manY</tspan></text>
<line x1="204.90" y1="258.20" x2="210.50" y2="258.20" stroke="#3d8fd6" stroke-width="0.8"/>
<circle cx="207.70" cy="258.20" r="1.2" fill="#3d8fd6" stroke="#3d8fd6" stroke-width="0.2"/>
<text x="214.70" y="260.30" font-size="6.2">CΔ<tspan font-style="italic">manY</tspan></text>
<line x1="204.90" y1="266.90" x2="210.50" y2="266.90" stroke="#7cc242" stroke-width="0.8"/>
<circle cx="207.70" cy="266.90" r="1.2" fill="#7cc242" stroke="#7cc242" stroke-width="0.2"/>
<text x="214.70" y="269.00" font-size="6.2">SEZ :: P<tspan dy="1.6" font-size="3.2">manX(A909)</tspan></text>
<polyline points="182.52,318.74 187.04,315.22 191.56,311.08 196.08,305.71 200.60,305.56 205.12,304.95 209.64,303.42 214.16,304.03 218.68,304.03 223.20,304.03 227.72,303.72 232.24,303.42 236.76,303.72 241.28,303.42 245.80,302.96 250.32,302.50 254.84,302.96 259.36,301.42 263.88,301.42 268.40,302.19" fill="none" stroke="#7cc242" stroke-width="0.9"/>
<line x1="182.52" y1="315.94" x2="182.52" y2="321.54" stroke="#7cc242" stroke-width="0.45"/>
<line x1="181.42" y1="315.94" x2="183.62" y2="315.94" stroke="#7cc242" stroke-width="0.4"/>
<line x1="181.42" y1="321.54" x2="183.62" y2="321.54" stroke="#7cc242" stroke-width="0.4"/>
<circle cx="182.52" cy="318.74" r="1.15" fill="#7cc242" stroke="#7cc242" stroke-width="0.2"/>
<line x1="187.04" y1="312.42" x2="187.04" y2="318.02" stroke="#7cc242" stroke-width="0.45"/>
<line x1="185.94" y1="312.42" x2="188.14" y2="312.42" stroke="#7cc242" stroke-width="0.4"/>
<line x1="185.94" y1="318.02" x2="188.14" y2="318.02" stroke="#7cc242" stroke-width="0.4"/>
<circle cx="187.04" cy="315.22" r="1.15" fill="#7cc242" stroke="#7cc242" stroke-width="0.2"/>
<line x1="191.56" y1="308.28" x2="191.56" y2="313.88" stroke="#7cc242" stroke-width="0.45"/>
<line x1="190.46" y1="308.28" x2="192.66" y2="308.28" stroke="#7cc242" stroke-width="0.4"/>
<line x1="190.46" y1="313.88" x2="192.66" y2="313.88" stroke="#7cc242" stroke-width="0.4"/>
<circle cx="191.56" cy="311.08" r="1.15" fill="#7cc242" stroke="#7cc242" stroke-width="0.2"/>
<line x1="196.08" y1="302.91" x2="196.08" y2="308.51" stroke="#7cc242" stroke-width="0.45"/>
<line x1="194.98" y1="302.91" x2="197.18" y2="302.91" stroke="#7cc242" stroke-width="0.4"/>
<line x1="194.98" y1="308.51" x2="197.18" y2="308.51" stroke="#7cc242" stroke-width="0.4"/>
<circle cx="196.08" cy="305.71" r="1.15" fill="#7cc242" stroke="#7cc242" stroke-width="0.2"/>
<line x1="200.60" y1="302.76" x2="200.60" y2="308.36" stroke="#7cc242" stroke-width="0.45"/>
<line x1="199.50" y1="302.76" x2="201.70" y2="302.76" stroke="#7cc242" stroke-width="0.4"/>
<line x1="199.50" y1="308.36" x2="201.70" y2="308.36" stroke="#7cc242" stroke-width="0.4"/>
<circle cx="200.60" cy="305.56" r="1.15" fill="#7cc242" stroke="#7cc242" stroke-width="0.2"/>
<line x1="205.12" y1="302.15" x2="205.12" y2="307.75" stroke="#7cc242" stroke-width="0.45"/>
<line x1="204.02" y1="302.15" x2="206.22" y2="302.15" stroke="#7cc242" stroke-width="0.4"/>
<line x1="204.02" y1="307.75" x2="206.22" y2="307.75" stroke="#7cc242" stroke-width="0.4"/>
<circle cx="205.12" cy="304.95" r="1.15" fill="#7cc242" stroke="#7cc242" stroke-width="0.2"/>
<line x1="209.64" y1="300.62" x2="209.64" y2="306.22" stroke="#7cc242" stroke-width="0.45"/>
<line x1="208.54" y1="300.62" x2="210.74" y2="300.62" stroke="#7cc242" stroke-width="0.4"/>
<line x1="208.54" y1="306.22" x2="210.74" y2="306.22" stroke="#7cc242" stroke-width="0.4"/>
<circle cx="209.64" cy="303.42" r="1.15" fill="#7cc242" stroke="#7cc242" stroke-width="0.2"/>
<line x1="214.16" y1="301.23" x2="214.16" y2="306.83" stroke="#7cc242" stroke-width="0.45"/>
<line x1="213.06" y1="301.23" x2="215.26" y2="301.23" stroke="#7cc242" stroke-width="0.4"/>
<line x1="213.06" y1="306.83" x2="215.26" y2="306.83" stroke="#7cc242" stroke-width="0.4"/>
<circle cx="214.16" cy="304.03" r="1.15" fill="#7cc242" stroke="#7cc242" stroke-width="0.2"/>
<line x1="218.68" y1="301.23" x2="218.68" y2="306.83" stroke="#7cc242" stroke-width="0.45"/>
<line x1="217.58" y1="301.23" x2="219.78" y2="301.23" stroke="#7cc242" stroke-width="0.4"/>
<line x1="217.58" y1="306.83" x2="219.78" y2="306.83" stroke="#7cc242" stroke-width="0.4"/>
<circle cx="218.68" cy="304.03" r="1.15" fill="#7cc242" stroke="#7cc242" stroke-width="0.2"/>
<line x1="223.20" y1="301.23" x2="223.20" y2="306.83" stroke="#7cc242" stroke-width="0.45"/>
<line x1="222.10" y1="301.23" x2="224.30" y2="301.23" stroke="#7cc242" stroke-width="0.4"/>
<line x1="222.10" y1="306.83" x2="224.30" y2="306.83" stroke="#7cc242" stroke-width="0.4"/>
<circle cx="223.20" cy="304.03" r="1.15" fill="#7cc242" stroke="#7cc242" stroke-width="0.2"/>
<line x1="227.72" y1="300.92" x2="227.72" y2="306.52" stroke="#7cc242" stroke-width="0.45"/>
<line x1="226.62" y1="300.92" x2="228.82" y2="300.92" stroke="#7cc242" stroke-width="0.4"/>
<line x1="226.62" y1="306.52" x2="228.82" y2="306.52" stroke="#7cc242" stroke-width="0.4"/>
<circle cx="227.72" cy="303.72" r="1.15" fill="#7cc242" stroke="#7cc242" stroke-width="0.2"/>
<line x1="232.24" y1="300.62" x2="232.24" y2="306.22" stroke="#7cc242" stroke-width="0.45"/>
<line x1="231.14" y1="300.62" x2="233.34" y2="300.62" stroke="#7cc242" stroke-width="0.4"/>
<line x1="231.14" y1="306.22" x2="233.34" y2="306.22" stroke="#7cc242" stroke-width="0.4"/>
<circle cx="232.24" cy="303.42" r="1.15" fill="#7cc242" stroke="#7cc242" stroke-width="0.2"/>
<line x1="236.76" y1="300.92" x2="236.76" y2="306.52" stroke="#7cc242" stroke-width="0.45"/>
<line x1="235.66" y1="300.92" x2="237.86" y2="300.92" stroke="#7cc242" stroke-width="0.4"/>
<line x1="235.66" y1="306.52" x2="237.86" y2="306.52" stroke="#7cc242" stroke-width="0.4"/>
<circle cx="236.76" cy="303.72" r="1.15" fill="#7cc242" stroke="#7cc242" stroke-width="0.2"/>
<line x1="241.28" y1="300.62" x2="241.28" y2="306.22" stroke="#7cc242" stroke-width="0.45"/>
<line x1="240.18" y1="300.62" x2="242.38" y2="300.62" stroke="#7cc242" stroke-width="0.4"/>
<line x1="240.18" y1="306.22" x2="242.38" y2="306.22" stroke="#7cc242" stroke-width="0.4"/>
<circle cx="241.28" cy="303.42" r="1.15" fill="#7cc242" stroke="#7cc242" stroke-width="0.2"/>
<line x1="245.80" y1="300.16" x2="245.80" y2="305.76" stroke="#7cc242" stroke-width="0.45"/>
<line x1="244.70" y1="300.16" x2="246.90" y2="300.16" stroke="#7cc242" stroke-width="0.4"/>
<line x1="244.70" y1="305.76" x2="246.90" y2="305.76" stroke="#7cc242" stroke-width="0.4"/>
<circle cx="245.80" cy="302.96" r="1.15" fill="#7cc242" stroke="#7cc242" stroke-width="0.2"/>
<line x1="250.32" y1="299.70" x2="250.32" y2="305.30" stroke="#7cc242" stroke-width="0.45"/>
<line x1="249.22" y1="299.70" x2="251.42" y2="299.70" stroke="#7cc242" stroke-width="0.4"/>
<line x1="249.22" y1="305.30" x2="251.42" y2="305.30" stroke="#7cc242" stroke-width="0.4"/>
<circle cx="250.32" cy="302.50" r="1.15" fill="#7cc242" stroke="#7cc242" stroke-width="0.2"/>
<line x1="254.84" y1="300.16" x2="254.84" y2="305.76" stroke="#7cc242" stroke-width="0.45"/>
<line x1="253.74" y1="300.16" x2="255.94" y2="300.16" stroke="#7cc242" stroke-width="0.4"/>
<line x1="253.74" y1="305.76" x2="255.94" y2="305.76" stroke="#7cc242" stroke-width="0.4"/>
<circle cx="254.84" cy="302.96" r="1.15" fill="#7cc242" stroke="#7cc242" stroke-width="0.2"/>
<line x1="259.36" y1="298.62" x2="259.36" y2="304.22" stroke="#7cc242" stroke-width="0.45"/>
<line x1="258.26" y1="298.62" x2="260.46" y2="298.62" stroke="#7cc242" stroke-width="0.4"/>
<line x1="258.26" y1="304.22" x2="260.46" y2="304.22" stroke="#7cc242" stroke-width="0.4"/>
<circle cx="259.36" cy="301.42" r="1.15" fill="#7cc242" stroke="#7cc242" stroke-width="0.2"/>
<line x1="263.88" y1="298.62" x2="263.88" y2="304.22" stroke="#7cc242" stroke-width="0.45"/>
<line x1="262.78" y1="298.62" x2="264.98" y2="298.62" stroke="#7cc242" stroke-width="0.4"/>
<line x1="262.78" y1="304.22" x2="264.98" y2="304.22" stroke="#7cc242" stroke-width="0.4"/>
<circle cx="263.88" cy="301.42" r="1.15" fill="#7cc242" stroke="#7cc242" stroke-width="0.2"/>
<line x1="268.40" y1="299.39" x2="268.40" y2="304.99" stroke="#7cc242" stroke-width="0.45"/>
<line x1="267.30" y1="299.39" x2="269.50" y2="299.39" stroke="#7cc242" stroke-width="0.4"/>
<line x1="267.30" y1="304.99" x2="269.50" y2="304.99" stroke="#7cc242" stroke-width="0.4"/>
<circle cx="268.40" cy="302.19" r="1.15" fill="#7cc242" stroke="#7cc242" stroke-width="0.2"/>
<polyline points="182.52,319.36 187.04,317.52 191.56,314.76 196.08,311.08 200.60,307.55 205.12,307.09 209.64,304.95 214.16,305.25 218.68,306.33 223.20,306.02 227.72,305.71 232.24,305.71 236.76,305.71 241.28,306.33 245.80,306.48 250.32,306.48 254.84,306.79 259.36,306.79 263.88,306.79 268.40,307.55" fill="none" stroke="#e2383f" stroke-width="0.9"/>
<line x1="182.52" y1="316.56" x2="182.52" y2="322.16" stroke="#e2383f" stroke-width="0.45"/>
<line x1="181.42" y1="316.56" x2="183.62" y2="316.56" stroke="#e2383f" stroke-width="0.4"/>
<line x1="181.42" y1="322.16" x2="183.62" y2="322.16" stroke="#e2383f" stroke-width="0.4"/>
<circle cx="182.52" cy="319.36" r="1.15" fill="#e2383f" stroke="#e2383f" stroke-width="0.2"/>
<line x1="187.04" y1="314.72" x2="187.04" y2="320.32" stroke="#e2383f" stroke-width="0.45"/>
<line x1="185.94" y1="314.72" x2="188.14" y2="314.72" stroke="#e2383f" stroke-width="0.4"/>
<line x1="185.94" y1="320.32" x2="188.14" y2="320.32" stroke="#e2383f" stroke-width="0.4"/>
<circle cx="187.04" cy="317.52" r="1.15" fill="#e2383f" stroke="#e2383f" stroke-width="0.2"/>
<line x1="191.56" y1="311.96" x2="191.56" y2="317.56" stroke="#e2383f" stroke-width="0.45"/>
<line x1="190.46" y1="311.96" x2="192.66" y2="311.96" stroke="#e2383f" stroke-width="0.4"/>
<line x1="190.46" y1="317.56" x2="192.66" y2="317.56" stroke="#e2383f" stroke-width="0.4"/>
<circle cx="191.56" cy="314.76" r="1.15" fill="#e2383f" stroke="#e2383f" stroke-width="0.2"/>
<line x1="196.08" y1="308.28" x2="196.08" y2="313.88" stroke="#e2383f" stroke-width="0.45"/>
<line x1="194.98" y1="308.28" x2="197.18" y2="308.28" stroke="#e2383f" stroke-width="0.4"/>
<line x1="194.98" y1="313.88" x2="197.18" y2="313.88" stroke="#e2383f" stroke-width="0.4"/>
<circle cx="196.08" cy="311.08" r="1.15" fill="#e2383f" stroke="#e2383f" stroke-width="0.2"/>
<line x1="200.60" y1="304.75" x2="200.60" y2="310.35" stroke="#e2383f" stroke-width="0.45"/>
<line x1="199.50" y1="304.75" x2="201.70" y2="304.75" stroke="#e2383f" stroke-width="0.4"/>
<line x1="199.50" y1="310.35" x2="201.70" y2="310.35" stroke="#e2383f" stroke-width="0.4"/>
<circle cx="200.60" cy="307.55" r="1.15" fill="#e2383f" stroke="#e2383f" stroke-width="0.2"/>
<line x1="205.12" y1="304.29" x2="205.12" y2="309.89" stroke="#e2383f" stroke-width="0.45"/>
<line x1="204.02" y1="304.29" x2="206.22" y2="304.29" stroke="#e2383f" stroke-width="0.4"/>
<line x1="204.02" y1="309.89" x2="206.22" y2="309.89" stroke="#e2383f" stroke-width="0.4"/>
<circle cx="205.12" cy="307.09" r="1.15" fill="#e2383f" stroke="#e2383f" stroke-width="0.2"/>
<line x1="209.64" y1="302.15" x2="209.64" y2="307.75" stroke="#e2383f" stroke-width="0.45"/>
<line x1="208.54" y1="302.15" x2="210.74" y2="302.15" stroke="#e2383f" stroke-width="0.4"/>
<line x1="208.54" y1="307.75" x2="210.74" y2="307.75" stroke="#e2383f" stroke-width="0.4"/>
<circle cx="209.64" cy="304.95" r="1.15" fill="#e2383f" stroke="#e2383f" stroke-width="0.2"/>
<line x1="214.16" y1="302.45" x2="214.16" y2="308.05" stroke="#e2383f" stroke-width="0.45"/>
<line x1="213.06" y1="302.45" x2="215.26" y2="302.45" stroke="#e2383f" stroke-width="0.4"/>
<line x1="213.06" y1="308.05" x2="215.26" y2="308.05" stroke="#e2383f" stroke-width="0.4"/>
<circle cx="214.16" cy="305.25" r="1.15" fill="#e2383f" stroke="#e2383f" stroke-width="0.2"/>
<line x1="218.68" y1="303.53" x2="218.68" y2="309.13" stroke="#e2383f" stroke-width="0.45"/>
<line x1="217.58" y1="303.53" x2="219.78" y2="303.53" stroke="#e2383f" stroke-width="0.4"/>
<line x1="217.58" y1="309.13" x2="219.78" y2="309.13" stroke="#e2383f" stroke-width="0.4"/>
<circle cx="218.68" cy="306.33" r="1.15" fill="#e2383f" stroke="#e2383f" stroke-width="0.2"/>
<line x1="223.20" y1="303.22" x2="223.20" y2="308.82" stroke="#e2383f" stroke-width="0.45"/>
<line x1="222.10" y1="303.22" x2="224.30" y2="303.22" stroke="#e2383f" stroke-width="0.4"/>
<line x1="222.10" y1="308.82" x2="224.30" y2="308.82" stroke="#e2383f" stroke-width="0.4"/>
<circle cx="223.20" cy="306.02" r="1.15" fill="#e2383f" stroke="#e2383f" stroke-width="0.2"/>
<line x1="227.72" y1="302.91" x2="227.72" y2="308.51" stroke="#e2383f" stroke-width="0.45"/>
<line x1="226.62" y1="302.91" x2="228.82" y2="302.91" stroke="#e2383f" stroke-width="0.4"/>
<line x1="226.62" y1="308.51" x2="228.82" y2="308.51" stroke="#e2383f" stroke-width="0.4"/>
<circle cx="227.72" cy="305.71" r="1.15" fill="#e2383f" stroke="#e2383f" stroke-width="0.2"/>
<line x1="232.24" y1="302.91" x2="232.24" y2="308.51" stroke="#e2383f" stroke-width="0.45"/>
<line x1="231.14" y1="302.91" x2="233.34" y2="302.91" stroke="#e2383f" stroke-width="0.4"/>
<line x1="231.14" y1="308.51" x2="233.34" y2="308.51" stroke="#e2383f" stroke-width="0.4"/>
<circle cx="232.24" cy="305.71" r="1.15" fill="#e2383f" stroke="#e2383f" stroke-width="0.2"/>
<line x1="236.76" y1="302.91" x2="236.76" y2="308.51" stroke="#e2383f" stroke-width="0.45"/>
<line x1="235.66" y1="302.91" x2="237.86" y2="302.91" stroke="#e2383f" stroke-width="0.4"/>
<line x1="235.66" y1="308.51" x2="237.86" y2="308.51" stroke="#e2383f" stroke-width="0.4"/>
<circle cx="236.76" cy="305.71" r="1.15" fill="#e2383f" stroke="#e2383f" stroke-width="0.2"/>
<line x1="241.28" y1="303.53" x2="241.28" y2="309.13" stroke="#e2383f" stroke-width="0.45"/>
<line x1="240.18" y1="303.53" x2="242.38" y2="303.53" stroke="#e2383f" stroke-width="0.4"/>
<line x1="240.18" y1="309.13" x2="242.38" y2="309.13" stroke="#e2383f" stroke-width="0.4"/>
<circle cx="241.28" cy="306.33" r="1.15" fill="#e2383f" stroke="#e2383f" stroke-width="0.2"/>
<line x1="245.80" y1="303.68" x2="245.80" y2="309.28" stroke="#e2383f" stroke-width="0.45"/>
<line x1="244.70" y1="303.68" x2="246.90" y2="303.68" stroke="#e2383f" stroke-width="0.4"/>
<line x1="244.70" y1="309.28" x2="246.90" y2="309.28" stroke="#e2383f" stroke-width="0.4"/>
<circle cx="245.80" cy="306.48" r="1.15" fill="#e2383f" stroke="#e2383f" stroke-width="0.2"/>
<line x1="250.32" y1="303.68" x2="250.32" y2="309.28" stroke="#e2383f" stroke-width="0.45"/>
<line x1="249.22" y1="303.68" x2="251.42" y2="303.68" stroke="#e2383f" stroke-width="0.4"/>
<line x1="249.22" y1="309.28" x2="251.42" y2="309.28" stroke="#e2383f" stroke-width="0.4"/>
<circle cx="250.32" cy="306.48" r="1.15" fill="#e2383f" stroke="#e2383f" stroke-width="0.2"/>
<line x1="254.84" y1="303.99" x2="254.84" y2="309.59" stroke="#e2383f" stroke-width="0.45"/>
<line x1="253.74" y1="303.99" x2="255.94" y2="303.99" stroke="#e2383f" stroke-width="0.4"/>
<line x1="253.74" y1="309.59" x2="255.94" y2="309.59" stroke="#e2383f" stroke-width="0.4"/>
<circle cx="254.84" cy="306.79" r="1.15" fill="#e2383f" stroke="#e2383f" stroke-width="0.2"/>
<line x1="259.36" y1="303.99" x2="259.36" y2="309.59" stroke="#e2383f" stroke-width="0.45"/>
<line x1="258.26" y1="303.99" x2="260.46" y2="303.99" stroke="#e2383f" stroke-width="0.4"/>
<line x1="258.26" y1="309.59" x2="260.46" y2="309.59" stroke="#e2383f" stroke-width="0.4"/>
<circle cx="259.36" cy="306.79" r="1.15" fill="#e2383f" stroke="#e2383f" stroke-width="0.2"/>
<line x1="263.88" y1="303.99" x2="263.88" y2="309.59" stroke="#e2383f" stroke-width="0.45"/>
<line x1="262.78" y1="303.99" x2="264.98" y2="303.99" stroke="#e2383f" stroke-width="0.4"/>
<line x1="262.78" y1="309.59" x2="264.98" y2="309.59" stroke="#e2383f" stroke-width="0.4"/>
<circle cx="263.88" cy="306.79" r="1.15" fill="#e2383f" stroke="#e2383f" stroke-width="0.2"/>
<line x1="268.40" y1="304.75" x2="268.40" y2="310.35" stroke="#e2383f" stroke-width="0.45"/>
<line x1="267.30" y1="304.75" x2="269.50" y2="304.75" stroke="#e2383f" stroke-width="0.4"/>
<line x1="267.30" y1="310.35" x2="269.50" y2="310.35" stroke="#e2383f" stroke-width="0.4"/>
<circle cx="268.40" cy="307.55" r="1.15" fill="#e2383f" stroke="#e2383f" stroke-width="0.2"/>
<polyline points="182.52,317.21 187.04,309.55 191.56,290.69 196.08,288.70 200.60,290.23 205.12,289.16 209.64,287.63 214.16,286.09 218.68,284.56 223.20,285.02 227.72,285.33 232.24,286.09 236.76,288.09 241.28,288.70 245.80,290.23 250.32,291.46 254.84,292.69 259.36,293.76 263.88,294.52 268.40,294.83" fill="none" stroke="#3d8fd6" stroke-width="0.9"/>
<line x1="182.52" y1="314.41" x2="182.52" y2="320.01" stroke="#3d8fd6" stroke-width="0.45"/>
<line x1="181.42" y1="314.41" x2="183.62" y2="314.41" stroke="#3d8fd6" stroke-width="0.4"/>
<line x1="181.42" y1="320.01" x2="183.62" y2="320.01" stroke="#3d8fd6" stroke-width="0.4"/>
<circle cx="182.52" cy="317.21" r="1.15" fill="#3d8fd6" stroke="#3d8fd6" stroke-width="0.2"/>
<line x1="187.04" y1="306.75" x2="187.04" y2="312.35" stroke="#3d8fd6" stroke-width="0.45"/>
<line x1="185.94" y1="306.75" x2="188.14" y2="306.75" stroke="#3d8fd6" stroke-width="0.4"/>
<line x1="185.94" y1="312.35" x2="188.14" y2="312.35" stroke="#3d8fd6" stroke-width="0.4"/>
<circle cx="187.04" cy="309.55" r="1.15" fill="#3d8fd6" stroke="#3d8fd6" stroke-width="0.2"/>
<line x1="191.56" y1="287.89" x2="191.56" y2="293.49" stroke="#3d8fd6" stroke-width="0.45"/>
<line x1="190.46" y1="287.89" x2="192.66" y2="287.89" stroke="#3d8fd6" stroke-width="0.4"/>
<line x1="190.46" y1="293.49" x2="192.66" y2="293.49" stroke="#3d8fd6" stroke-width="0.4"/>
<circle cx="191.56" cy="290.69" r="1.15" fill="#3d8fd6" stroke="#3d8fd6" stroke-width="0.2"/>
<line x1="196.08" y1="285.90" x2="196.08" y2="291.50" stroke="#3d8fd6" stroke-width="0.45"/>
<line x1="194.98" y1="285.90" x2="197.18" y2="285.90" stroke="#3d8fd6" stroke-width="0.4"/>
<line x1="194.98" y1="291.50" x2="197.18" y2="291.50" stroke="#3d8fd6" stroke-width="0.4"/>
<circle cx="196.08" cy="288.70" r="1.15" fill="#3d8fd6" stroke="#3d8fd6" stroke-width="0.2"/>
<line x1="200.60" y1="287.43" x2="200.60" y2="293.03" stroke="#3d8fd6" stroke-width="0.45"/>
<line x1="199.50" y1="287.43" x2="201.70" y2="287.43" stroke="#3d8fd6" stroke-width="0.4"/>
<line x1="199.50" y1="293.03" x2="201.70" y2="293.03" stroke="#3d8fd6" stroke-width="0.4"/>
<circle cx="200.60" cy="290.23" r="1.15" fill="#3d8fd6" stroke="#3d8fd6" stroke-width="0.2"/>
<line x1="205.12" y1="286.36" x2="205.12" y2="291.96" stroke="#3d8fd6" stroke-width="0.45"/>
<line x1="204.02" y1="286.36" x2="206.22" y2="286.36" stroke="#3d8fd6" stroke-width="0.4"/>
<line x1="204.02" y1="291.96" x2="206.22" y2="291.96" stroke="#3d8fd6" stroke-width="0.4"/>
<circle cx="205.12" cy="289.16" r="1.15" fill="#3d8fd6" stroke="#3d8fd6" stroke-width="0.2"/>
<line x1="209.64" y1="284.83" x2="209.64" y2="290.43" stroke="#3d8fd6" stroke-width="0.45"/>
<line x1="208.54" y1="284.83" x2="210.74" y2="284.83" stroke="#3d8fd6" stroke-width="0.4"/>
<line x1="208.54" y1="290.43" x2="210.74" y2="290.43" stroke="#3d8fd6" stroke-width="0.4"/>
<circle cx="209.64" cy="287.63" r="1.15" fill="#3d8fd6" stroke="#3d8fd6" stroke-width="0.2"/>
<line x1="214.16" y1="283.29" x2="214.16" y2="288.89" stroke="#3d8fd6" stroke-width="0.45"/>
<line x1="213.06" y1="283.29" x2="215.26" y2="283.29" stroke="#3d8fd6" stroke-width="0.4"/>
<line x1="213.06" y1="288.89" x2="215.26" y2="288.89" stroke="#3d8fd6" stroke-width="0.4"/>
<circle cx="214.16" cy="286.09" r="1.15" fill="#3d8fd6" stroke="#3d8fd6" stroke-width="0.2"/>
<line x1="218.68" y1="281.76" x2="218.68" y2="287.36" stroke="#3d8fd6" stroke-width="0.45"/>
<line x1="217.58" y1="281.76" x2="219.78" y2="281.76" stroke="#3d8fd6" stroke-width="0.4"/>
<line x1="217.58" y1="287.36" x2="219.78" y2="287.36" stroke="#3d8fd6" stroke-width="0.4"/>
<circle cx="218.68" cy="284.56" r="1.15" fill="#3d8fd6" stroke="#3d8fd6" stroke-width="0.2"/>
<line x1="223.20" y1="282.22" x2="223.20" y2="287.82" stroke="#3d8fd6" stroke-width="0.45"/>
<line x1="222.10" y1="282.22" x2="224.30" y2="282.22" stroke="#3d8fd6" stroke-width="0.4"/>
<line x1="222.10" y1="287.82" x2="224.30" y2="287.82" stroke="#3d8fd6" stroke-width="0.4"/>
<circle cx="223.20" cy="285.02" r="1.15" fill="#3d8fd6" stroke="#3d8fd6" stroke-width="0.2"/>
<line x1="227.72" y1="282.53" x2="227.72" y2="288.13" stroke="#3d8fd6" stroke-width="0.45"/>
<line x1="226.62" y1="282.53" x2="228.82" y2="282.53" stroke="#3d8fd6" stroke-width="0.4"/>
<line x1="226.62" y1="288.13" x2="228.82" y2="288.13" stroke="#3d8fd6" stroke-width="0.4"/>
<circle cx="227.72" cy="285.33" r="1.15" fill="#3d8fd6" stroke="#3d8fd6" stroke-width="0.2"/>
<line x1="232.24" y1="283.29" x2="232.24" y2="288.89" stroke="#3d8fd6" stroke-width="0.45"/>
<line x1="231.14" y1="283.29" x2="233.34" y2="283.29" stroke="#3d8fd6" stroke-width="0.4"/>
<line x1="231.14" y1="288.89" x2="233.34" y2="288.89" stroke="#3d8fd6" stroke-width="0.4"/>
<circle cx="232.24" cy="286.09" r="1.15" fill="#3d8fd6" stroke="#3d8fd6" stroke-width="0.2"/>
<line x1="236.76" y1="285.29" x2="236.76" y2="290.89" stroke="#3d8fd6" stroke-width="0.45"/>
<line x1="235.66" y1="285.29" x2="237.86" y2="285.29" stroke="#3d8fd6" stroke-width="0.4"/>
<line x1="235.66" y1="290.89" x2="237.86" y2="290.89" stroke="#3d8fd6" stroke-width="0.4"/>
<circle cx="236.76" cy="288.09" r="1.15" fill="#3d8fd6" stroke="#3d8fd6" stroke-width="0.2"/>
<line x1="241.28" y1="285.90" x2="241.28" y2="291.50" stroke="#3d8fd6" stroke-width="0.45"/>
<line x1="240.18" y1="285.90" x2="242.38" y2="285.90" stroke="#3d8fd6" stroke-width="0.4"/>
<line x1="240.18" y1="291.50" x2="242.38" y2="291.50" stroke="#3d8fd6" stroke-width="0.4"/>
<circle cx="241.28" cy="288.70" r="1.15" fill="#3d8fd6" stroke="#3d8fd6" stroke-width="0.2"/>
<line x1="245.80" y1="287.43" x2="245.80" y2="293.03" stroke="#3d8fd6" stroke-width="0.45"/>
<line x1="244.70" y1="287.43" x2="246.90" y2="287.43" stroke="#3d8fd6" stroke-width="0.4"/>
<line x1="244.70" y1="293.03" x2="246.90" y2="293.03" stroke="#3d8fd6" stroke-width="0.4"/>
<circle cx="245.80" cy="290.23" r="1.15" fill="#3d8fd6" stroke="#3d8fd6" stroke-width="0.2"/>
<line x1="250.32" y1="288.66" x2="250.32" y2="294.26" stroke="#3d8fd6" stroke-width="0.45"/>
<line x1="249.22" y1="288.66" x2="251.42" y2="288.66" stroke="#3d8fd6" stroke-width="0.4"/>
<line x1="249.22" y1="294.26" x2="251.42" y2="294.26" stroke="#3d8fd6" stroke-width="0.4"/>
<circle cx="250.32" cy="291.46" r="1.15" fill="#3d8fd6" stroke="#3d8fd6" stroke-width="0.2"/>
<line x1="254.84" y1="289.89" x2="254.84" y2="295.49" stroke="#3d8fd6" stroke-width="0.45"/>
<line x1="253.74" y1="289.89" x2="255.94" y2="289.89" stroke="#3d8fd6" stroke-width="0.4"/>
<line x1="253.74" y1="295.49" x2="255.94" y2="295.49" stroke="#3d8fd6" stroke-width="0.4"/>
<circle cx="254.84" cy="292.69" r="1.15" fill="#3d8fd6" stroke="#3d8fd6" stroke-width="0.2"/>
<line x1="259.36" y1="290.96" x2="259.36" y2="296.56" stroke="#3d8fd6" stroke-width="0.45"/>
<line x1="258.26" y1="290.96" x2="260.46" y2="290.96" stroke="#3d8fd6" stroke-width="0.4"/>
<line x1="258.26" y1="296.56" x2="260.46" y2="296.56" stroke="#3d8fd6" stroke-width="0.4"/>
<circle cx="259.36" cy="293.76" r="1.15" fill="#3d8fd6" stroke="#3d8fd6" stroke-width="0.2"/>
<line x1="263.88" y1="291.72" x2="263.88" y2="297.32" stroke="#3d8fd6" stroke-width="0.45"/>
<line x1="262.78" y1="291.72" x2="264.98" y2="291.72" stroke="#3d8fd6" stroke-width="0.4"/>
<line x1="262.78" y1="297.32" x2="264.98" y2="297.32" stroke="#3d8fd6" stroke-width="0.4"/>
<circle cx="263.88" cy="294.52" r="1.15" fill="#3d8fd6" stroke="#3d8fd6" stroke-width="0.2"/>
<line x1="268.40" y1="292.03" x2="268.40" y2="297.63" stroke="#3d8fd6" stroke-width="0.45"/>
<line x1="267.30" y1="292.03" x2="269.50" y2="292.03" stroke="#3d8fd6" stroke-width="0.4"/>
<line x1="267.30" y1="297.63" x2="269.50" y2="297.63" stroke="#3d8fd6" stroke-width="0.4"/>
<circle cx="268.40" cy="294.83" r="1.15" fill="#3d8fd6" stroke="#3d8fd6" stroke-width="0.2"/>
<polyline points="182.52,316.75 187.04,309.09 191.56,289.62 196.08,287.63 200.60,288.09 205.12,284.10 209.64,284.56 214.16,282.72 218.68,282.72 223.20,283.03 227.72,284.56 232.24,285.02 236.76,287.63 241.28,288.70 245.80,290.23 250.32,290.69 254.84,292.99 259.36,292.99 263.88,294.22 268.40,294.22" fill="none" stroke="#231f20" stroke-width="0.9"/>
<line x1="182.52" y1="313.95" x2="182.52" y2="319.55" stroke="#231f20" stroke-width="0.45"/>
<line x1="181.42" y1="313.95" x2="183.62" y2="313.95" stroke="#231f20" stroke-width="0.4"/>
<line x1="181.42" y1="319.55" x2="183.62" y2="319.55" stroke="#231f20" stroke-width="0.4"/>
<circle cx="182.52" cy="316.75" r="1.15" fill="#231f20" stroke="#231f20" stroke-width="0.2"/>
<line x1="187.04" y1="306.29" x2="187.04" y2="311.89" stroke="#231f20" stroke-width="0.45"/>
<line x1="185.94" y1="306.29" x2="188.14" y2="306.29" stroke="#231f20" stroke-width="0.4"/>
<line x1="185.94" y1="311.89" x2="188.14" y2="311.89" stroke="#231f20" stroke-width="0.4"/>
<circle cx="187.04" cy="309.09" r="1.15" fill="#231f20" stroke="#231f20" stroke-width="0.2"/>
<line x1="191.56" y1="286.82" x2="191.56" y2="292.42" stroke="#231f20" stroke-width="0.45"/>
<line x1="190.46" y1="286.82" x2="192.66" y2="286.82" stroke="#231f20" stroke-width="0.4"/>
<line x1="190.46" y1="292.42" x2="192.66" y2="292.42" stroke="#231f20" stroke-width="0.4"/>
<circle cx="191.56" cy="289.62" r="1.15" fill="#231f20" stroke="#231f20" stroke-width="0.2"/>
<line x1="196.08" y1="284.83" x2="196.08" y2="290.43" stroke="#231f20" stroke-width="0.45"/>
<line x1="194.98" y1="284.83" x2="197.18" y2="284.83" stroke="#231f20" stroke-width="0.4"/>
<line x1="194.98" y1="290.43" x2="197.18" y2="290.43" stroke="#231f20" stroke-width="0.4"/>
<circle cx="196.08" cy="287.63" r="1.15" fill="#231f20" stroke="#231f20" stroke-width="0.2"/>
<line x1="200.60" y1="285.29" x2="200.60" y2="290.89" stroke="#231f20" stroke-width="0.45"/>
<line x1="199.50" y1="285.29" x2="201.70" y2="285.29" stroke="#231f20" stroke-width="0.4"/>
<line x1="199.50" y1="290.89" x2="201.70" y2="290.89" stroke="#231f20" stroke-width="0.4"/>
<circle cx="200.60" cy="288.09" r="1.15" fill="#231f20" stroke="#231f20" stroke-width="0.2"/>
<line x1="205.12" y1="281.30" x2="205.12" y2="286.90" stroke="#231f20" stroke-width="0.45"/>
<line x1="204.02" y1="281.30" x2="206.22" y2="281.30" stroke="#231f20" stroke-width="0.4"/>
<line x1="204.02" y1="286.90" x2="206.22" y2="286.90" stroke="#231f20" stroke-width="0.4"/>
<circle cx="205.12" cy="284.10" r="1.15" fill="#231f20" stroke="#231f20" stroke-width="0.2"/>
<line x1="209.64" y1="281.76" x2="209.64" y2="287.36" stroke="#231f20" stroke-width="0.45"/>
<line x1="208.54" y1="281.76" x2="210.74" y2="281.76" stroke="#231f20" stroke-width="0.4"/>
<line x1="208.54" y1="287.36" x2="210.74" y2="287.36" stroke="#231f20" stroke-width="0.4"/>
<circle cx="209.64" cy="284.56" r="1.15" fill="#231f20" stroke="#231f20" stroke-width="0.2"/>
<line x1="214.16" y1="279.92" x2="214.16" y2="285.52" stroke="#231f20" stroke-width="0.45"/>
<line x1="213.06" y1="279.92" x2="215.26" y2="279.92" stroke="#231f20" stroke-width="0.4"/>
<line x1="213.06" y1="285.52" x2="215.26" y2="285.52" stroke="#231f20" stroke-width="0.4"/>
<circle cx="214.16" cy="282.72" r="1.15" fill="#231f20" stroke="#231f20" stroke-width="0.2"/>
<line x1="218.68" y1="279.92" x2="218.68" y2="285.52" stroke="#231f20" stroke-width="0.45"/>
<line x1="217.58" y1="279.92" x2="219.78" y2="279.92" stroke="#231f20" stroke-width="0.4"/>
<line x1="217.58" y1="285.52" x2="219.78" y2="285.52" stroke="#231f20" stroke-width="0.4"/>
<circle cx="218.68" cy="282.72" r="1.15" fill="#231f20" stroke="#231f20" stroke-width="0.2"/>
<line x1="223.20" y1="280.23" x2="223.20" y2="285.83" stroke="#231f20" stroke-width="0.45"/>
<line x1="222.10" y1="280.23" x2="224.30" y2="280.23" stroke="#231f20" stroke-width="0.4"/>
<line x1="222.10" y1="285.83" x2="224.30" y2="285.83" stroke="#231f20" stroke-width="0.4"/>
<circle cx="223.20" cy="283.03" r="1.15" fill="#231f20" stroke="#231f20" stroke-width="0.2"/>
<line x1="227.72" y1="281.76" x2="227.72" y2="287.36" stroke="#231f20" stroke-width="0.45"/>
<line x1="226.62" y1="281.76" x2="228.82" y2="281.76" stroke="#231f20" stroke-width="0.4"/>
<line x1="226.62" y1="287.36" x2="228.82" y2="287.36" stroke="#231f20" stroke-width="0.4"/>
<circle cx="227.72" cy="284.56" r="1.15" fill="#231f20" stroke="#231f20" stroke-width="0.2"/>
<line x1="232.24" y1="282.22" x2="232.24" y2="287.82" stroke="#231f20" stroke-width="0.45"/>
<line x1="231.14" y1="282.22" x2="233.34" y2="282.22" stroke="#231f20" stroke-width="0.4"/>
<line x1="231.14" y1="287.82" x2="233.34" y2="287.82" stroke="#231f20" stroke-width="0.4"/>
<circle cx="232.24" cy="285.02" r="1.15" fill="#231f20" stroke="#231f20" stroke-width="0.2"/>
<line x1="236.76" y1="284.83" x2="236.76" y2="290.43" stroke="#231f20" stroke-width="0.45"/>
<line x1="235.66" y1="284.83" x2="237.86" y2="284.83" stroke="#231f20" stroke-width="0.4"/>
<line x1="235.66" y1="290.43" x2="237.86" y2="290.43" stroke="#231f20" stroke-width="0.4"/>
<circle cx="236.76" cy="287.63" r="1.15" fill="#231f20" stroke="#231f20" stroke-width="0.2"/>
<line x1="241.28" y1="285.90" x2="241.28" y2="291.50" stroke="#231f20" stroke-width="0.45"/>
<line x1="240.18" y1="285.90" x2="242.38" y2="285.90" stroke="#231f20" stroke-width="0.4"/>
<line x1="240.18" y1="291.50" x2="242.38" y2="291.50" stroke="#231f20" stroke-width="0.4"/>
<circle cx="241.28" cy="288.70" r="1.15" fill="#231f20" stroke="#231f20" stroke-width="0.2"/>
<line x1="245.80" y1="287.43" x2="245.80" y2="293.03" stroke="#231f20" stroke-width="0.45"/>
<line x1="244.70" y1="287.43" x2="246.90" y2="287.43" stroke="#231f20" stroke-width="0.4"/>
<line x1="244.70" y1="293.03" x2="246.90" y2="293.03" stroke="#231f20" stroke-width="0.4"/>
<circle cx="245.80" cy="290.23" r="1.15" fill="#231f20" stroke="#231f20" stroke-width="0.2"/>
<line x1="250.32" y1="287.89" x2="250.32" y2="293.49" stroke="#231f20" stroke-width="0.45"/>
<line x1="249.22" y1="287.89" x2="251.42" y2="287.89" stroke="#231f20" stroke-width="0.4"/>
<line x1="249.22" y1="293.49" x2="251.42" y2="293.49" stroke="#231f20" stroke-width="0.4"/>
<circle cx="250.32" cy="290.69" r="1.15" fill="#231f20" stroke="#231f20" stroke-width="0.2"/>
<line x1="254.84" y1="290.19" x2="254.84" y2="295.79" stroke="#231f20" stroke-width="0.45"/>
<line x1="253.74" y1="290.19" x2="255.94" y2="290.19" stroke="#231f20" stroke-width="0.4"/>
<line x1="253.74" y1="295.79" x2="255.94" y2="295.79" stroke="#231f20" stroke-width="0.4"/>
<circle cx="254.84" cy="292.99" r="1.15" fill="#231f20" stroke="#231f20" stroke-width="0.2"/>
<line x1="259.36" y1="290.19" x2="259.36" y2="295.79" stroke="#231f20" stroke-width="0.45"/>
<line x1="258.26" y1="290.19" x2="260.46" y2="290.19" stroke="#231f20" stroke-width="0.4"/>
<line x1="258.26" y1="295.79" x2="260.46" y2="295.79" stroke="#231f20" stroke-width="0.4"/>
<circle cx="259.36" cy="292.99" r="1.15" fill="#231f20" stroke="#231f20" stroke-width="0.2"/>
<line x1="263.88" y1="291.42" x2="263.88" y2="297.02" stroke="#231f20" stroke-width="0.45"/>
<line x1="262.78" y1="291.42" x2="264.98" y2="291.42" stroke="#231f20" stroke-width="0.4"/>
<line x1="262.78" y1="297.02" x2="264.98" y2="297.02" stroke="#231f20" stroke-width="0.4"/>
<circle cx="263.88" cy="294.22" r="1.15" fill="#231f20" stroke="#231f20" stroke-width="0.2"/>
<line x1="268.40" y1="291.42" x2="268.40" y2="297.02" stroke="#231f20" stroke-width="0.45"/>
<line x1="267.30" y1="291.42" x2="269.50" y2="291.42" stroke="#231f20" stroke-width="0.4"/>
<line x1="267.30" y1="297.02" x2="269.50" y2="297.02" stroke="#231f20" stroke-width="0.4"/>
<circle cx="268.40" cy="294.22" r="1.15" fill="#231f20" stroke="#231f20" stroke-width="0.2"/>
<text x="260.80" y="237.00" font-size="5.8" transform="rotate(90 260.80 237.00)">&lt;0.001</text>
<line x1="258.60" y1="235.90" x2="258.60" y2="246.90" stroke="#8a8a8a" stroke-width="0.7"/>
<text x="269.20" y="237.00" font-size="5.8" transform="rotate(90 269.20 237.00)">0.0562</text>
<line x1="267.20" y1="235.90" x2="267.20" y2="251.90" stroke="#8a8a8a" stroke-width="0.7"/>
<text x="276.50" y="237.00" font-size="5.8" transform="rotate(90 276.50 237.00)">&lt;0.001</text>
<line x1="274.80" y1="235.90" x2="274.80" y2="262.90" stroke="#8a8a8a" stroke-width="0.7"/>
<line x1="309.20" y1="260.20" x2="309.20" y2="320.40" stroke="#7a7a7a" stroke-width="0.7"/>
<line x1="307.00" y1="320.40" x2="309.20" y2="320.40" stroke="#7a7a7a" stroke-width="0.6"/>
<text x="304.30" y="323.20" font-size="7.8" text-anchor="end" letter-spacing="0.25">0</text>
<line x1="307.00" y1="303.20" x2="309.20" y2="303.20" stroke="#7a7a7a" stroke-width="0.6"/>
<text x="304.30" y="306.00" font-size="7.8" text-anchor="end" letter-spacing="0.25">0.1</text>
<line x1="307.00" y1="286.00" x2="309.20" y2="286.00" stroke="#7a7a7a" stroke-width="0.6"/>
<text x="304.30" y="288.80" font-size="7.8" text-anchor="end" letter-spacing="0.25">0.2</text>
<line x1="307.00" y1="268.80" x2="309.20" y2="268.80" stroke="#7a7a7a" stroke-width="0.6"/>
<text x="304.30" y="271.60" font-size="7.8" text-anchor="end" letter-spacing="0.25">0.3</text>
<line x1="307.80" y1="311.80" x2="309.20" y2="311.80" stroke="#7a7a7a" stroke-width="0.5"/>
<line x1="307.80" y1="294.60" x2="309.20" y2="294.60" stroke="#7a7a7a" stroke-width="0.5"/>
<line x1="307.80" y1="277.40" x2="309.20" y2="277.40" stroke="#7a7a7a" stroke-width="0.5"/>
<line x1="309.20" y1="320.40" x2="399.60" y2="320.40" stroke="#7a7a7a" stroke-width="0.7"/>
<line x1="310.00" y1="320.40" x2="310.00" y2="322.60" stroke="#7a7a7a" stroke-width="0.6"/>
<text x="310.00" y="332.30" font-size="7.8" text-anchor="middle" letter-spacing="0.2">0</text>
<line x1="323.29" y1="320.40" x2="323.29" y2="321.80" stroke="#7a7a7a" stroke-width="0.6"/>
<line x1="336.58" y1="320.40" x2="336.58" y2="322.60" stroke="#7a7a7a" stroke-width="0.6"/>
<text x="336.58" y="332.30" font-size="7.8" text-anchor="middle" letter-spacing="0.2">6</text>
<line x1="349.87" y1="320.40" x2="349.87" y2="321.80" stroke="#7a7a7a" stroke-width="0.6"/>
<line x1="363.16" y1="320.40" x2="363.16" y2="322.60" stroke="#7a7a7a" stroke-width="0.6"/>
<text x="363.16" y="332.30" font-size="7.8" text-anchor="middle" letter-spacing="0.2">12</text>
<line x1="376.45" y1="320.40" x2="376.45" y2="321.80" stroke="#7a7a7a" stroke-width="0.6"/>
<line x1="389.74" y1="320.40" x2="389.74" y2="322.60" stroke="#7a7a7a" stroke-width="0.6"/>
<text x="389.74" y="332.30" font-size="7.8" text-anchor="middle" letter-spacing="0.2">18</text>
<text x="353.80" y="344.60" font-size="9" text-anchor="middle">Time (h)</text>
<text x="286.00" y="290.00" font-size="9.2" text-anchor="middle" transform="rotate(-90 286.00 290.00)">OD<tspan dy="2.3" font-size="6.8">600</tspan></text>
<text x="311.00" y="239.00" font-size="8.8">1 g l<tspan dy="-3.4" font-size="5.8">−1</tspan></text>
<line x1="335.20" y1="239.10" x2="340.80" y2="239.10" stroke="#231f20" stroke-width="0.8"/>
<circle cx="338.00" cy="239.10" r="1.2" fill="#231f20" stroke="#231f20" stroke-width="0.2"/>
<text x="344.90" y="241.20" font-size="6.2">WT</text>
<line x1="335.20" y1="248.00" x2="340.80" y2="248.00" stroke="#e2383f" stroke-width="0.8"/>
<circle cx="338.00" cy="248.00" r="1.2" fill="#e2383f" stroke="#e2383f" stroke-width="0.2"/>
<text x="344.90" y="250.10" font-size="6.2">Δ<tspan font-style="italic">manY</tspan></text>
<line x1="335.20" y1="257.40" x2="340.80" y2="257.40" stroke="#3d8fd6" stroke-width="0.8"/>
<circle cx="338.00" cy="257.40" r="1.2" fill="#3d8fd6" stroke="#3d8fd6" stroke-width="0.2"/>
<text x="344.90" y="259.50" font-size="6.2">CΔ<tspan font-style="italic">manY</tspan></text>
<line x1="335.20" y1="266.30" x2="340.80" y2="266.30" stroke="#7cc242" stroke-width="0.8"/>
<circle cx="338.00" cy="266.30" r="1.2" fill="#7cc242" stroke="#7cc242" stroke-width="0.2"/>
<text x="344.90" y="268.40" font-size="6.2">SEZ :: P<tspan dy="1.6" font-size="3.2">manX(A909)</tspan></text>
<polyline points="314.43,319.67 318.86,316.61 323.29,312.66 327.72,306.82 332.15,299.96 336.58,298.07 341.01,294.12 345.44,293.39 349.87,294.12 354.30,294.42 358.73,294.42 363.16,295.15 367.59,295.88 372.02,296.61 376.45,296.90 380.88,297.34 385.31,297.63 389.74,298.07 394.17,298.07 398.60,298.36" fill="none" stroke="#7cc242" stroke-width="0.9"/>
<line x1="314.43" y1="318.07" x2="314.43" y2="321.27" stroke="#7cc242" stroke-width="0.45"/>
<circle cx="314.43" cy="319.67" r="1.15" fill="#7cc242" stroke="#7cc242" stroke-width="0.2"/>
<line x1="318.86" y1="315.01" x2="318.86" y2="318.21" stroke="#7cc242" stroke-width="0.45"/>
<circle cx="318.86" cy="316.61" r="1.15" fill="#7cc242" stroke="#7cc242" stroke-width="0.2"/>
<line x1="323.29" y1="311.06" x2="323.29" y2="314.26" stroke="#7cc242" stroke-width="0.45"/>
<circle cx="323.29" cy="312.66" r="1.15" fill="#7cc242" stroke="#7cc242" stroke-width="0.2"/>
<line x1="327.72" y1="305.22" x2="327.72" y2="308.42" stroke="#7cc242" stroke-width="0.45"/>
<circle cx="327.72" cy="306.82" r="1.15" fill="#7cc242" stroke="#7cc242" stroke-width="0.2"/>
<line x1="332.15" y1="298.36" x2="332.15" y2="301.56" stroke="#7cc242" stroke-width="0.45"/>
<circle cx="332.15" cy="299.96" r="1.15" fill="#7cc242" stroke="#7cc242" stroke-width="0.2"/>
<line x1="336.58" y1="296.47" x2="336.58" y2="299.67" stroke="#7cc242" stroke-width="0.45"/>
<circle cx="336.58" cy="298.07" r="1.15" fill="#7cc242" stroke="#7cc242" stroke-width="0.2"/>
<line x1="341.01" y1="292.52" x2="341.01" y2="295.72" stroke="#7cc242" stroke-width="0.45"/>
<circle cx="341.01" cy="294.12" r="1.15" fill="#7cc242" stroke="#7cc242" stroke-width="0.2"/>
<line x1="345.44" y1="291.79" x2="345.44" y2="294.99" stroke="#7cc242" stroke-width="0.45"/>
<circle cx="345.44" cy="293.39" r="1.15" fill="#7cc242" stroke="#7cc242" stroke-width="0.2"/>
<line x1="349.87" y1="292.52" x2="349.87" y2="295.72" stroke="#7cc242" stroke-width="0.45"/>
<circle cx="349.87" cy="294.12" r="1.15" fill="#7cc242" stroke="#7cc242" stroke-width="0.2"/>
<line x1="354.30" y1="292.82" x2="354.30" y2="296.02" stroke="#7cc242" stroke-width="0.45"/>
<circle cx="354.30" cy="294.42" r="1.15" fill="#7cc242" stroke="#7cc242" stroke-width="0.2"/>
<line x1="358.73" y1="292.82" x2="358.73" y2="296.02" stroke="#7cc242" stroke-width="0.45"/>
<circle cx="358.73" cy="294.42" r="1.15" fill="#7cc242" stroke="#7cc242" stroke-width="0.2"/>
<line x1="363.16" y1="293.55" x2="363.16" y2="296.75" stroke="#7cc242" stroke-width="0.45"/>
<circle cx="363.16" cy="295.15" r="1.15" fill="#7cc242" stroke="#7cc242" stroke-width="0.2"/>
<line x1="367.59" y1="294.28" x2="367.59" y2="297.48" stroke="#7cc242" stroke-width="0.45"/>
<circle cx="367.59" cy="295.88" r="1.15" fill="#7cc242" stroke="#7cc242" stroke-width="0.2"/>
<line x1="372.02" y1="295.01" x2="372.02" y2="298.21" stroke="#7cc242" stroke-width="0.45"/>
<circle cx="372.02" cy="296.61" r="1.15" fill="#7cc242" stroke="#7cc242" stroke-width="0.2"/>
<line x1="376.45" y1="295.30" x2="376.45" y2="298.50" stroke="#7cc242" stroke-width="0.45"/>
<circle cx="376.45" cy="296.90" r="1.15" fill="#7cc242" stroke="#7cc242" stroke-width="0.2"/>
<line x1="380.88" y1="295.74" x2="380.88" y2="298.94" stroke="#7cc242" stroke-width="0.45"/>
<circle cx="380.88" cy="297.34" r="1.15" fill="#7cc242" stroke="#7cc242" stroke-width="0.2"/>
<line x1="385.31" y1="296.03" x2="385.31" y2="299.23" stroke="#7cc242" stroke-width="0.45"/>
<circle cx="385.31" cy="297.63" r="1.15" fill="#7cc242" stroke="#7cc242" stroke-width="0.2"/>
<line x1="389.74" y1="296.47" x2="389.74" y2="299.67" stroke="#7cc242" stroke-width="0.45"/>
<circle cx="389.74" cy="298.07" r="1.15" fill="#7cc242" stroke="#7cc242" stroke-width="0.2"/>
<line x1="394.17" y1="296.47" x2="394.17" y2="299.67" stroke="#7cc242" stroke-width="0.45"/>
<circle cx="394.17" cy="298.07" r="1.15" fill="#7cc242" stroke="#7cc242" stroke-width="0.2"/>
<line x1="398.60" y1="296.76" x2="398.60" y2="299.96" stroke="#7cc242" stroke-width="0.45"/>
<circle cx="398.60" cy="298.36" r="1.15" fill="#7cc242" stroke="#7cc242" stroke-width="0.2"/>
<polyline points="314.43,319.67 318.86,316.61 323.29,313.10 327.72,306.82 332.15,300.99 336.58,300.55 341.01,298.07 345.44,297.34 349.87,297.77 354.30,298.07 358.73,298.07 363.16,298.36 367.59,298.50 372.02,298.50 376.45,298.50 380.88,298.80 385.31,299.09 389.74,299.23 394.17,299.53 398.60,299.53" fill="none" stroke="#e2383f" stroke-width="0.9"/>
<line x1="314.43" y1="318.07" x2="314.43" y2="321.27" stroke="#e2383f" stroke-width="0.45"/>
<circle cx="314.43" cy="319.67" r="1.15" fill="#e2383f" stroke="#e2383f" stroke-width="0.2"/>
<line x1="318.86" y1="315.01" x2="318.86" y2="318.21" stroke="#e2383f" stroke-width="0.45"/>
<circle cx="318.86" cy="316.61" r="1.15" fill="#e2383f" stroke="#e2383f" stroke-width="0.2"/>
<line x1="323.29" y1="311.50" x2="323.29" y2="314.70" stroke="#e2383f" stroke-width="0.45"/>
<circle cx="323.29" cy="313.10" r="1.15" fill="#e2383f" stroke="#e2383f" stroke-width="0.2"/>
<line x1="327.72" y1="305.22" x2="327.72" y2="308.42" stroke="#e2383f" stroke-width="0.45"/>
<circle cx="327.72" cy="306.82" r="1.15" fill="#e2383f" stroke="#e2383f" stroke-width="0.2"/>
<line x1="332.15" y1="299.39" x2="332.15" y2="302.59" stroke="#e2383f" stroke-width="0.45"/>
<circle cx="332.15" cy="300.99" r="1.15" fill="#e2383f" stroke="#e2383f" stroke-width="0.2"/>
<line x1="336.58" y1="298.95" x2="336.58" y2="302.15" stroke="#e2383f" stroke-width="0.45"/>
<circle cx="336.58" cy="300.55" r="1.15" fill="#e2383f" stroke="#e2383f" stroke-width="0.2"/>
<line x1="341.01" y1="296.47" x2="341.01" y2="299.67" stroke="#e2383f" stroke-width="0.45"/>
<circle cx="341.01" cy="298.07" r="1.15" fill="#e2383f" stroke="#e2383f" stroke-width="0.2"/>
<line x1="345.44" y1="295.74" x2="345.44" y2="298.94" stroke="#e2383f" stroke-width="0.45"/>
<circle cx="345.44" cy="297.34" r="1.15" fill="#e2383f" stroke="#e2383f" stroke-width="0.2"/>
<line x1="349.87" y1="296.17" x2="349.87" y2="299.37" stroke="#e2383f" stroke-width="0.45"/>
<circle cx="349.87" cy="297.77" r="1.15" fill="#e2383f" stroke="#e2383f" stroke-width="0.2"/>
<line x1="354.30" y1="296.47" x2="354.30" y2="299.67" stroke="#e2383f" stroke-width="0.45"/>
<circle cx="354.30" cy="298.07" r="1.15" fill="#e2383f" stroke="#e2383f" stroke-width="0.2"/>
<line x1="358.73" y1="296.47" x2="358.73" y2="299.67" stroke="#e2383f" stroke-width="0.45"/>
<circle cx="358.73" cy="298.07" r="1.15" fill="#e2383f" stroke="#e2383f" stroke-width="0.2"/>
<line x1="363.16" y1="296.76" x2="363.16" y2="299.96" stroke="#e2383f" stroke-width="0.45"/>
<circle cx="363.16" cy="298.36" r="1.15" fill="#e2383f" stroke="#e2383f" stroke-width="0.2"/>
<line x1="367.59" y1="296.90" x2="367.59" y2="300.10" stroke="#e2383f" stroke-width="0.45"/>
<circle cx="367.59" cy="298.50" r="1.15" fill="#e2383f" stroke="#e2383f" stroke-width="0.2"/>
<line x1="372.02" y1="296.90" x2="372.02" y2="300.10" stroke="#e2383f" stroke-width="0.45"/>
<circle cx="372.02" cy="298.50" r="1.15" fill="#e2383f" stroke="#e2383f" stroke-width="0.2"/>
<line x1="376.45" y1="296.90" x2="376.45" y2="300.10" stroke="#e2383f" stroke-width="0.45"/>
<circle cx="376.45" cy="298.50" r="1.15" fill="#e2383f" stroke="#e2383f" stroke-width="0.2"/>
<line x1="380.88" y1="297.20" x2="380.88" y2="300.40" stroke="#e2383f" stroke-width="0.45"/>
<circle cx="380.88" cy="298.80" r="1.15" fill="#e2383f" stroke="#e2383f" stroke-width="0.2"/>
<line x1="385.31" y1="297.49" x2="385.31" y2="300.69" stroke="#e2383f" stroke-width="0.45"/>
<circle cx="385.31" cy="299.09" r="1.15" fill="#e2383f" stroke="#e2383f" stroke-width="0.2"/>
<line x1="389.74" y1="297.63" x2="389.74" y2="300.83" stroke="#e2383f" stroke-width="0.45"/>
<circle cx="389.74" cy="299.23" r="1.15" fill="#e2383f" stroke="#e2383f" stroke-width="0.2"/>
<line x1="394.17" y1="297.93" x2="394.17" y2="301.13" stroke="#e2383f" stroke-width="0.45"/>
<circle cx="394.17" cy="299.53" r="1.15" fill="#e2383f" stroke="#e2383f" stroke-width="0.2"/>
<line x1="398.60" y1="297.93" x2="398.60" y2="301.13" stroke="#e2383f" stroke-width="0.45"/>
<circle cx="398.60" cy="299.53" r="1.15" fill="#e2383f" stroke="#e2383f" stroke-width="0.2"/>
<polyline points="314.43,319.67 318.86,316.61 323.29,306.39 327.72,284.20 332.15,277.63 336.58,278.36 341.01,278.36 345.44,279.09 349.87,280.55 354.30,281.28 358.73,282.45 363.16,283.47 367.59,284.20 372.02,284.93 376.45,285.66 380.88,286.82 385.31,287.41 389.74,287.85 394.17,288.28 398.60,289.74" fill="none" stroke="#3d8fd6" stroke-width="0.9"/>
<line x1="314.43" y1="318.07" x2="314.43" y2="321.27" stroke="#3d8fd6" stroke-width="0.45"/>
<circle cx="314.43" cy="319.67" r="1.15" fill="#3d8fd6" stroke="#3d8fd6" stroke-width="0.2"/>
<line x1="318.86" y1="315.01" x2="318.86" y2="318.21" stroke="#3d8fd6" stroke-width="0.45"/>
<circle cx="318.86" cy="316.61" r="1.15" fill="#3d8fd6" stroke="#3d8fd6" stroke-width="0.2"/>
<line x1="323.29" y1="304.79" x2="323.29" y2="307.99" stroke="#3d8fd6" stroke-width="0.45"/>
<circle cx="323.29" cy="306.39" r="1.15" fill="#3d8fd6" stroke="#3d8fd6" stroke-width="0.2"/>
<line x1="327.72" y1="282.60" x2="327.72" y2="285.80" stroke="#3d8fd6" stroke-width="0.45"/>
<circle cx="327.72" cy="284.20" r="1.15" fill="#3d8fd6" stroke="#3d8fd6" stroke-width="0.2"/>
<line x1="332.15" y1="276.03" x2="332.15" y2="279.23" stroke="#3d8fd6" stroke-width="0.45"/>
<circle cx="332.15" cy="277.63" r="1.15" fill="#3d8fd6" stroke="#3d8fd6" stroke-width="0.2"/>
<line x1="336.58" y1="276.76" x2="336.58" y2="279.96" stroke="#3d8fd6" stroke-width="0.45"/>
<circle cx="336.58" cy="278.36" r="1.15" fill="#3d8fd6" stroke="#3d8fd6" stroke-width="0.2"/>
<line x1="341.01" y1="276.76" x2="341.01" y2="279.96" stroke="#3d8fd6" stroke-width="0.45"/>
<circle cx="341.01" cy="278.36" r="1.15" fill="#3d8fd6" stroke="#3d8fd6" stroke-width="0.2"/>
<line x1="345.44" y1="277.49" x2="345.44" y2="280.69" stroke="#3d8fd6" stroke-width="0.45"/>
<circle cx="345.44" cy="279.09" r="1.15" fill="#3d8fd6" stroke="#3d8fd6" stroke-width="0.2"/>
<line x1="349.87" y1="278.95" x2="349.87" y2="282.15" stroke="#3d8fd6" stroke-width="0.45"/>
<circle cx="349.87" cy="280.55" r="1.15" fill="#3d8fd6" stroke="#3d8fd6" stroke-width="0.2"/>
<line x1="354.30" y1="279.68" x2="354.30" y2="282.88" stroke="#3d8fd6" stroke-width="0.45"/>
<circle cx="354.30" cy="281.28" r="1.15" fill="#3d8fd6" stroke="#3d8fd6" stroke-width="0.2"/>
<line x1="358.73" y1="280.85" x2="358.73" y2="284.05" stroke="#3d8fd6" stroke-width="0.45"/>
<circle cx="358.73" cy="282.45" r="1.15" fill="#3d8fd6" stroke="#3d8fd6" stroke-width="0.2"/>
<line x1="363.16" y1="281.87" x2="363.16" y2="285.07" stroke="#3d8fd6" stroke-width="0.45"/>
<circle cx="363.16" cy="283.47" r="1.15" fill="#3d8fd6" stroke="#3d8fd6" stroke-width="0.2"/>
<line x1="367.59" y1="282.60" x2="367.59" y2="285.80" stroke="#3d8fd6" stroke-width="0.45"/>
<circle cx="367.59" cy="284.20" r="1.15" fill="#3d8fd6" stroke="#3d8fd6" stroke-width="0.2"/>
<line x1="372.02" y1="283.33" x2="372.02" y2="286.53" stroke="#3d8fd6" stroke-width="0.45"/>
<circle cx="372.02" cy="284.93" r="1.15" fill="#3d8fd6" stroke="#3d8fd6" stroke-width="0.2"/>
<line x1="376.45" y1="284.06" x2="376.45" y2="287.26" stroke="#3d8fd6" stroke-width="0.45"/>
<circle cx="376.45" cy="285.66" r="1.15" fill="#3d8fd6" stroke="#3d8fd6" stroke-width="0.2"/>
<line x1="380.88" y1="285.22" x2="380.88" y2="288.42" stroke="#3d8fd6" stroke-width="0.45"/>
<circle cx="380.88" cy="286.82" r="1.15" fill="#3d8fd6" stroke="#3d8fd6" stroke-width="0.2"/>
<line x1="385.31" y1="285.81" x2="385.31" y2="289.01" stroke="#3d8fd6" stroke-width="0.45"/>
<circle cx="385.31" cy="287.41" r="1.15" fill="#3d8fd6" stroke="#3d8fd6" stroke-width="0.2"/>
<line x1="389.74" y1="286.25" x2="389.74" y2="289.45" stroke="#3d8fd6" stroke-width="0.45"/>
<circle cx="389.74" cy="287.85" r="1.15" fill="#3d8fd6" stroke="#3d8fd6" stroke-width="0.2"/>
<line x1="394.17" y1="286.68" x2="394.17" y2="289.88" stroke="#3d8fd6" stroke-width="0.45"/>
<circle cx="394.17" cy="288.28" r="1.15" fill="#3d8fd6" stroke="#3d8fd6" stroke-width="0.2"/>
<line x1="398.60" y1="288.14" x2="398.60" y2="291.34" stroke="#3d8fd6" stroke-width="0.45"/>
<circle cx="398.60" cy="289.74" r="1.15" fill="#3d8fd6" stroke="#3d8fd6" stroke-width="0.2"/>
<polyline points="314.43,319.67 318.86,316.61 323.29,306.82 327.72,284.20 332.15,280.99 336.58,279.53 341.01,280.99 345.44,282.01 349.87,282.45 354.30,282.74 358.73,283.91 363.16,284.93 367.59,285.36 372.02,286.39 376.45,287.12 380.88,287.85 385.31,288.28 389.74,289.01 394.17,289.31 398.60,291.20" fill="none" stroke="#231f20" stroke-width="0.9"/>
<line x1="314.43" y1="318.07" x2="314.43" y2="321.27" stroke="#231f20" stroke-width="0.45"/>
<circle cx="314.43" cy="319.67" r="1.15" fill="#231f20" stroke="#231f20" stroke-width="0.2"/>
<line x1="318.86" y1="315.01" x2="318.86" y2="318.21" stroke="#231f20" stroke-width="0.45"/>
<circle cx="318.86" cy="316.61" r="1.15" fill="#231f20" stroke="#231f20" stroke-width="0.2"/>
<line x1="323.29" y1="305.22" x2="323.29" y2="308.42" stroke="#231f20" stroke-width="0.45"/>
<circle cx="323.29" cy="306.82" r="1.15" fill="#231f20" stroke="#231f20" stroke-width="0.2"/>
<line x1="327.72" y1="282.60" x2="327.72" y2="285.80" stroke="#231f20" stroke-width="0.45"/>
<circle cx="327.72" cy="284.20" r="1.15" fill="#231f20" stroke="#231f20" stroke-width="0.2"/>
<line x1="332.15" y1="279.39" x2="332.15" y2="282.59" stroke="#231f20" stroke-width="0.45"/>
<circle cx="332.15" cy="280.99" r="1.15" fill="#231f20" stroke="#231f20" stroke-width="0.2"/>
<line x1="336.58" y1="277.93" x2="336.58" y2="281.13" stroke="#231f20" stroke-width="0.45"/>
<circle cx="336.58" cy="279.53" r="1.15" fill="#231f20" stroke="#231f20" stroke-width="0.2"/>
<line x1="341.01" y1="279.39" x2="341.01" y2="282.59" stroke="#231f20" stroke-width="0.45"/>
<circle cx="341.01" cy="280.99" r="1.15" fill="#231f20" stroke="#231f20" stroke-width="0.2"/>
<line x1="345.44" y1="280.41" x2="345.44" y2="283.61" stroke="#231f20" stroke-width="0.45"/>
<circle cx="345.44" cy="282.01" r="1.15" fill="#231f20" stroke="#231f20" stroke-width="0.2"/>
<line x1="349.87" y1="280.85" x2="349.87" y2="284.05" stroke="#231f20" stroke-width="0.45"/>
<circle cx="349.87" cy="282.45" r="1.15" fill="#231f20" stroke="#231f20" stroke-width="0.2"/>
<line x1="354.30" y1="281.14" x2="354.30" y2="284.34" stroke="#231f20" stroke-width="0.45"/>
<circle cx="354.30" cy="282.74" r="1.15" fill="#231f20" stroke="#231f20" stroke-width="0.2"/>
<line x1="358.73" y1="282.31" x2="358.73" y2="285.51" stroke="#231f20" stroke-width="0.45"/>
<circle cx="358.73" cy="283.91" r="1.15" fill="#231f20" stroke="#231f20" stroke-width="0.2"/>
<line x1="363.16" y1="283.33" x2="363.16" y2="286.53" stroke="#231f20" stroke-width="0.45"/>
<circle cx="363.16" cy="284.93" r="1.15" fill="#231f20" stroke="#231f20" stroke-width="0.2"/>
<line x1="367.59" y1="283.76" x2="367.59" y2="286.96" stroke="#231f20" stroke-width="0.45"/>
<circle cx="367.59" cy="285.36" r="1.15" fill="#231f20" stroke="#231f20" stroke-width="0.2"/>
<line x1="372.02" y1="284.79" x2="372.02" y2="287.99" stroke="#231f20" stroke-width="0.45"/>
<circle cx="372.02" cy="286.39" r="1.15" fill="#231f20" stroke="#231f20" stroke-width="0.2"/>
<line x1="376.45" y1="285.52" x2="376.45" y2="288.72" stroke="#231f20" stroke-width="0.45"/>
<circle cx="376.45" cy="287.12" r="1.15" fill="#231f20" stroke="#231f20" stroke-width="0.2"/>
<line x1="380.88" y1="286.25" x2="380.88" y2="289.45" stroke="#231f20" stroke-width="0.45"/>
<circle cx="380.88" cy="287.85" r="1.15" fill="#231f20" stroke="#231f20" stroke-width="0.2"/>
<line x1="385.31" y1="286.68" x2="385.31" y2="289.88" stroke="#231f20" stroke-width="0.45"/>
<circle cx="385.31" cy="288.28" r="1.15" fill="#231f20" stroke="#231f20" stroke-width="0.2"/>
<line x1="389.74" y1="287.41" x2="389.74" y2="290.61" stroke="#231f20" stroke-width="0.45"/>
<circle cx="389.74" cy="289.01" r="1.15" fill="#231f20" stroke="#231f20" stroke-width="0.2"/>
<line x1="394.17" y1="287.71" x2="394.17" y2="290.91" stroke="#231f20" stroke-width="0.45"/>
<circle cx="394.17" cy="289.31" r="1.15" fill="#231f20" stroke="#231f20" stroke-width="0.2"/>
<line x1="398.60" y1="289.60" x2="398.60" y2="292.80" stroke="#231f20" stroke-width="0.45"/>
<circle cx="398.60" cy="291.20" r="1.15" fill="#231f20" stroke="#231f20" stroke-width="0.2"/>
<text x="391.90" y="237.00" font-size="5.8" transform="rotate(90 391.90 237.00)">&lt;0.001</text>
<line x1="390.70" y1="235.90" x2="390.70" y2="243.40" stroke="#8a8a8a" stroke-width="0.7"/>
<text x="399.50" y="237.00" font-size="5.8" transform="rotate(90 399.50 237.00)">0.2376</text>
<line x1="398.30" y1="235.90" x2="398.30" y2="253.90" stroke="#8a8a8a" stroke-width="0.7"/>
<text x="407.40" y="237.00" font-size="5.8" transform="rotate(90 407.40 237.00)">&lt;0.001</text>
<line x1="406.00" y1="235.90" x2="406.00" y2="262.90" stroke="#8a8a8a" stroke-width="0.7"/>
<line x1="444.00" y1="260.50" x2="444.00" y2="320.40" stroke="#7a7a7a" stroke-width="0.7"/>
<line x1="441.80" y1="320.40" x2="444.00" y2="320.40" stroke="#7a7a7a" stroke-width="0.6"/>
<text x="439.10" y="323.20" font-size="7.8" text-anchor="end" letter-spacing="0.25">0</text>
<line x1="441.80" y1="300.54" x2="444.00" y2="300.54" stroke="#7a7a7a" stroke-width="0.6"/>
<text x="439.10" y="303.34" font-size="7.8" text-anchor="end" letter-spacing="0.25">0.2</text>
<line x1="441.80" y1="280.68" x2="444.00" y2="280.68" stroke="#7a7a7a" stroke-width="0.6"/>
<text x="439.10" y="283.48" font-size="7.8" text-anchor="end" letter-spacing="0.25">0.4</text>
<line x1="441.80" y1="260.82" x2="444.00" y2="260.82" stroke="#7a7a7a" stroke-width="0.6"/>
<text x="439.10" y="263.62" font-size="7.8" text-anchor="end" letter-spacing="0.25">0.6</text>
<line x1="442.60" y1="310.47" x2="444.00" y2="310.47" stroke="#7a7a7a" stroke-width="0.5"/>
<line x1="442.60" y1="290.61" x2="444.00" y2="290.61" stroke="#7a7a7a" stroke-width="0.5"/>
<line x1="442.60" y1="270.75" x2="444.00" y2="270.75" stroke="#7a7a7a" stroke-width="0.5"/>
<line x1="444.00" y1="320.40" x2="535.40" y2="320.40" stroke="#7a7a7a" stroke-width="0.7"/>
<line x1="444.30" y1="320.40" x2="444.30" y2="322.60" stroke="#7a7a7a" stroke-width="0.6"/>
<text x="444.30" y="332.30" font-size="7.8" text-anchor="middle" letter-spacing="0.2">0</text>
<line x1="457.80" y1="320.40" x2="457.80" y2="321.80" stroke="#7a7a7a" stroke-width="0.6"/>
<line x1="471.30" y1="320.40" x2="471.30" y2="322.60" stroke="#7a7a7a" stroke-width="0.6"/>
<text x="471.30" y="332.30" font-size="7.8" text-anchor="middle" letter-spacing="0.2">6</text>
<line x1="484.80" y1="320.40" x2="484.80" y2="321.80" stroke="#7a7a7a" stroke-width="0.6"/>
<line x1="498.30" y1="320.40" x2="498.30" y2="322.60" stroke="#7a7a7a" stroke-width="0.6"/>
<text x="498.30" y="332.30" font-size="7.8" text-anchor="middle" letter-spacing="0.2">12</text>
<line x1="511.80" y1="320.40" x2="511.80" y2="321.80" stroke="#7a7a7a" stroke-width="0.6"/>
<line x1="525.30" y1="320.40" x2="525.30" y2="322.60" stroke="#7a7a7a" stroke-width="0.6"/>
<text x="525.30" y="332.30" font-size="7.8" text-anchor="middle" letter-spacing="0.2">18</text>
<text x="488.80" y="344.60" font-size="9" text-anchor="middle">Time (h)</text>
<text x="420.40" y="290.00" font-size="9.2" text-anchor="middle" transform="rotate(-90 420.40 290.00)">OD<tspan dy="2.3" font-size="6.8">600</tspan></text>
<text x="444.30" y="239.00" font-size="8.8">2 g l<tspan dy="-3.4" font-size="5.8">−1</tspan></text>
<line x1="472.00" y1="237.80" x2="477.60" y2="237.80" stroke="#231f20" stroke-width="0.8"/>
<circle cx="474.80" cy="237.80" r="1.2" fill="#231f20" stroke="#231f20" stroke-width="0.2"/>
<text x="479.20" y="239.90" font-size="6.2">WT</text>
<line x1="472.00" y1="246.20" x2="477.60" y2="246.20" stroke="#e2383f" stroke-width="0.8"/>
<circle cx="474.80" cy="246.20" r="1.2" fill="#e2383f" stroke="#e2383f" stroke-width="0.2"/>
<text x="479.20" y="248.30" font-size="6.2">Δ<tspan font-style="italic">manY</tspan></text>
<line x1="472.00" y1="255.40" x2="477.60" y2="255.40" stroke="#3d8fd6" stroke-width="0.8"/>
<circle cx="474.80" cy="255.40" r="1.2" fill="#3d8fd6" stroke="#3d8fd6" stroke-width="0.2"/>
<text x="479.20" y="257.50" font-size="6.2">CΔ<tspan font-style="italic">manY</tspan></text>
<line x1="472.00" y1="264.30" x2="477.60" y2="264.30" stroke="#7cc242" stroke-width="0.8"/>
<circle cx="474.80" cy="264.30" r="1.2" fill="#7cc242" stroke="#7cc242" stroke-width="0.2"/>
<text x="479.20" y="266.40" font-size="6.2">SEZ :: P<tspan dy="1.6" font-size="3.2">manX(A909)</tspan></text>
<polyline points="448.80,319.96 453.30,319.23 457.80,317.48 462.30,314.12 466.80,309.74 471.30,302.45 475.80,294.12 480.30,284.20 484.80,282.74 489.30,282.30 493.80,283.03 498.30,284.20 502.80,284.93 507.30,285.36 511.80,285.95 516.30,286.39 520.80,286.82 525.30,287.12 529.80,287.41 534.30,287.41" fill="none" stroke="#7cc242" stroke-width="0.9"/>
<line x1="448.80" y1="318.36" x2="448.80" y2="321.56" stroke="#7cc242" stroke-width="0.45"/>
<circle cx="448.80" cy="319.96" r="1.15" fill="#7cc242" stroke="#7cc242" stroke-width="0.2"/>
<line x1="453.30" y1="317.63" x2="453.30" y2="320.83" stroke="#7cc242" stroke-width="0.45"/>
<circle cx="453.30" cy="319.23" r="1.15" fill="#7cc242" stroke="#7cc242" stroke-width="0.2"/>
<line x1="457.80" y1="315.88" x2="457.80" y2="319.08" stroke="#7cc242" stroke-width="0.45"/>
<circle cx="457.80" cy="317.48" r="1.15" fill="#7cc242" stroke="#7cc242" stroke-width="0.2"/>
<line x1="462.30" y1="312.52" x2="462.30" y2="315.72" stroke="#7cc242" stroke-width="0.45"/>
<circle cx="462.30" cy="314.12" r="1.15" fill="#7cc242" stroke="#7cc242" stroke-width="0.2"/>
<line x1="466.80" y1="308.14" x2="466.80" y2="311.34" stroke="#7cc242" stroke-width="0.45"/>
<circle cx="466.80" cy="309.74" r="1.15" fill="#7cc242" stroke="#7cc242" stroke-width="0.2"/>
<line x1="471.30" y1="300.85" x2="471.30" y2="304.05" stroke="#7cc242" stroke-width="0.45"/>
<circle cx="471.30" cy="302.45" r="1.15" fill="#7cc242" stroke="#7cc242" stroke-width="0.2"/>
<line x1="475.80" y1="292.52" x2="475.80" y2="295.72" stroke="#7cc242" stroke-width="0.45"/>
<circle cx="475.80" cy="294.12" r="1.15" fill="#7cc242" stroke="#7cc242" stroke-width="0.2"/>
<line x1="480.30" y1="282.60" x2="480.30" y2="285.80" stroke="#7cc242" stroke-width="0.45"/>
<circle cx="480.30" cy="284.20" r="1.15" fill="#7cc242" stroke="#7cc242" stroke-width="0.2"/>
<line x1="484.80" y1="281.14" x2="484.80" y2="284.34" stroke="#7cc242" stroke-width="0.45"/>
<circle cx="484.80" cy="282.74" r="1.15" fill="#7cc242" stroke="#7cc242" stroke-width="0.2"/>
<line x1="489.30" y1="280.70" x2="489.30" y2="283.90" stroke="#7cc242" stroke-width="0.45"/>
<circle cx="489.30" cy="282.30" r="1.15" fill="#7cc242" stroke="#7cc242" stroke-width="0.2"/>
<line x1="493.80" y1="281.43" x2="493.80" y2="284.63" stroke="#7cc242" stroke-width="0.45"/>
<circle cx="493.80" cy="283.03" r="1.15" fill="#7cc242" stroke="#7cc242" stroke-width="0.2"/>
<line x1="498.30" y1="282.60" x2="498.30" y2="285.80" stroke="#7cc242" stroke-width="0.45"/>
<circle cx="498.30" cy="284.20" r="1.15" fill="#7cc242" stroke="#7cc242" stroke-width="0.2"/>
<line x1="502.80" y1="283.33" x2="502.80" y2="286.53" stroke="#7cc242" stroke-width="0.45"/>
<circle cx="502.80" cy="284.93" r="1.15" fill="#7cc242" stroke="#7cc242" stroke-width="0.2"/>
<line x1="507.30" y1="283.76" x2="507.30" y2="286.96" stroke="#7cc242" stroke-width="0.45"/>
<circle cx="507.30" cy="285.36" r="1.15" fill="#7cc242" stroke="#7cc242" stroke-width="0.2"/>
<line x1="511.80" y1="284.35" x2="511.80" y2="287.55" stroke="#7cc242" stroke-width="0.45"/>
<circle cx="511.80" cy="285.95" r="1.15" fill="#7cc242" stroke="#7cc242" stroke-width="0.2"/>
<line x1="516.30" y1="284.79" x2="516.30" y2="287.99" stroke="#7cc242" stroke-width="0.45"/>
<circle cx="516.30" cy="286.39" r="1.15" fill="#7cc242" stroke="#7cc242" stroke-width="0.2"/>
<line x1="520.80" y1="285.22" x2="520.80" y2="288.42" stroke="#7cc242" stroke-width="0.45"/>
<circle cx="520.80" cy="286.82" r="1.15" fill="#7cc242" stroke="#7cc242" stroke-width="0.2"/>
<line x1="525.30" y1="285.52" x2="525.30" y2="288.72" stroke="#7cc242" stroke-width="0.45"/>
<circle cx="525.30" cy="287.12" r="1.15" fill="#7cc242" stroke="#7cc242" stroke-width="0.2"/>
<line x1="529.80" y1="285.81" x2="529.80" y2="289.01" stroke="#7cc242" stroke-width="0.45"/>
<circle cx="529.80" cy="287.41" r="1.15" fill="#7cc242" stroke="#7cc242" stroke-width="0.2"/>
<line x1="534.30" y1="285.81" x2="534.30" y2="289.01" stroke="#7cc242" stroke-width="0.45"/>
<circle cx="534.30" cy="287.41" r="1.15" fill="#7cc242" stroke="#7cc242" stroke-width="0.2"/>
<polyline points="448.80,319.96 453.30,319.23 457.80,317.77 462.30,314.85 466.80,311.20 471.30,305.36 475.80,298.80 480.30,290.04 484.80,287.85 489.30,287.41 493.80,288.28 498.30,288.87 502.80,289.31 507.30,289.74 511.80,290.04 516.30,290.33 520.80,290.47 525.30,290.77 529.80,291.06 534.30,291.20" fill="none" stroke="#e2383f" stroke-width="0.9"/>
<line x1="448.80" y1="318.36" x2="448.80" y2="321.56" stroke="#e2383f" stroke-width="0.45"/>
<circle cx="448.80" cy="319.96" r="1.15" fill="#e2383f" stroke="#e2383f" stroke-width="0.2"/>
<line x1="453.30" y1="317.63" x2="453.30" y2="320.83" stroke="#e2383f" stroke-width="0.45"/>
<circle cx="453.30" cy="319.23" r="1.15" fill="#e2383f" stroke="#e2383f" stroke-width="0.2"/>
<line x1="457.80" y1="316.17" x2="457.80" y2="319.37" stroke="#e2383f" stroke-width="0.45"/>
<circle cx="457.80" cy="317.77" r="1.15" fill="#e2383f" stroke="#e2383f" stroke-width="0.2"/>
<line x1="462.30" y1="313.25" x2="462.30" y2="316.45" stroke="#e2383f" stroke-width="0.45"/>
<circle cx="462.30" cy="314.85" r="1.15" fill="#e2383f" stroke="#e2383f" stroke-width="0.2"/>
<line x1="466.80" y1="309.60" x2="466.80" y2="312.80" stroke="#e2383f" stroke-width="0.45"/>
<circle cx="466.80" cy="311.20" r="1.15" fill="#e2383f" stroke="#e2383f" stroke-width="0.2"/>
<line x1="471.30" y1="303.76" x2="471.30" y2="306.96" stroke="#e2383f" stroke-width="0.45"/>
<circle cx="471.30" cy="305.36" r="1.15" fill="#e2383f" stroke="#e2383f" stroke-width="0.2"/>
<line x1="475.80" y1="297.20" x2="475.80" y2="300.40" stroke="#e2383f" stroke-width="0.45"/>
<circle cx="475.80" cy="298.80" r="1.15" fill="#e2383f" stroke="#e2383f" stroke-width="0.2"/>
<line x1="480.30" y1="288.44" x2="480.30" y2="291.64" stroke="#e2383f" stroke-width="0.45"/>
<circle cx="480.30" cy="290.04" r="1.15" fill="#e2383f" stroke="#e2383f" stroke-width="0.2"/>
<line x1="484.80" y1="286.25" x2="484.80" y2="289.45" stroke="#e2383f" stroke-width="0.45"/>
<circle cx="484.80" cy="287.85" r="1.15" fill="#e2383f" stroke="#e2383f" stroke-width="0.2"/>
<line x1="489.30" y1="285.81" x2="489.30" y2="289.01" stroke="#e2383f" stroke-width="0.45"/>
<circle cx="489.30" cy="287.41" r="1.15" fill="#e2383f" stroke="#e2383f" stroke-width="0.2"/>
<line x1="493.80" y1="286.68" x2="493.80" y2="289.88" stroke="#e2383f" stroke-width="0.45"/>
<circle cx="493.80" cy="288.28" r="1.15" fill="#e2383f" stroke="#e2383f" stroke-width="0.2"/>
<line x1="498.30" y1="287.27" x2="498.30" y2="290.47" stroke="#e2383f" stroke-width="0.45"/>
<circle cx="498.30" cy="288.87" r="1.15" fill="#e2383f" stroke="#e2383f" stroke-width="0.2"/>
<line x1="502.80" y1="287.71" x2="502.80" y2="290.91" stroke="#e2383f" stroke-width="0.45"/>
<circle cx="502.80" cy="289.31" r="1.15" fill="#e2383f" stroke="#e2383f" stroke-width="0.2"/>
<line x1="507.30" y1="288.14" x2="507.30" y2="291.34" stroke="#e2383f" stroke-width="0.45"/>
<circle cx="507.30" cy="289.74" r="1.15" fill="#e2383f" stroke="#e2383f" stroke-width="0.2"/>
<line x1="511.80" y1="288.44" x2="511.80" y2="291.64" stroke="#e2383f" stroke-width="0.45"/>
<circle cx="511.80" cy="290.04" r="1.15" fill="#e2383f" stroke="#e2383f" stroke-width="0.2"/>
<line x1="516.30" y1="288.73" x2="516.30" y2="291.93" stroke="#e2383f" stroke-width="0.45"/>
<circle cx="516.30" cy="290.33" r="1.15" fill="#e2383f" stroke="#e2383f" stroke-width="0.2"/>
<line x1="520.80" y1="288.87" x2="520.80" y2="292.07" stroke="#e2383f" stroke-width="0.45"/>
<circle cx="520.80" cy="290.47" r="1.15" fill="#e2383f" stroke="#e2383f" stroke-width="0.2"/>
<line x1="525.30" y1="289.17" x2="525.30" y2="292.37" stroke="#e2383f" stroke-width="0.45"/>
<circle cx="525.30" cy="290.77" r="1.15" fill="#e2383f" stroke="#e2383f" stroke-width="0.2"/>
<line x1="529.80" y1="289.46" x2="529.80" y2="292.66" stroke="#e2383f" stroke-width="0.45"/>
<circle cx="529.80" cy="291.06" r="1.15" fill="#e2383f" stroke="#e2383f" stroke-width="0.2"/>
<line x1="534.30" y1="289.60" x2="534.30" y2="292.80" stroke="#e2383f" stroke-width="0.45"/>
<circle cx="534.30" cy="291.20" r="1.15" fill="#e2383f" stroke="#e2383f" stroke-width="0.2"/>
<polyline points="448.80,319.96 453.30,318.80 457.80,316.02 462.30,308.28 466.80,291.50 471.30,273.25 475.80,274.71 480.30,275.44 484.80,276.17 489.30,276.90 493.80,277.92 498.30,279.09 502.80,279.82 507.30,280.55 511.80,281.57 516.30,282.30 520.80,283.03 525.30,283.76 529.80,284.20 534.30,285.36" fill="none" stroke="#3d8fd6" stroke-width="0.9"/>
<line x1="448.80" y1="318.36" x2="448.80" y2="321.56" stroke="#3d8fd6" stroke-width="0.45"/>
<circle cx="448.80" cy="319.96" r="1.15" fill="#3d8fd6" stroke="#3d8fd6" stroke-width="0.2"/>
<line x1="453.30" y1="317.20" x2="453.30" y2="320.40" stroke="#3d8fd6" stroke-width="0.45"/>
<circle cx="453.30" cy="318.80" r="1.15" fill="#3d8fd6" stroke="#3d8fd6" stroke-width="0.2"/>
<line x1="457.80" y1="314.42" x2="457.80" y2="317.62" stroke="#3d8fd6" stroke-width="0.45"/>
<circle cx="457.80" cy="316.02" r="1.15" fill="#3d8fd6" stroke="#3d8fd6" stroke-width="0.2"/>
<line x1="462.30" y1="306.68" x2="462.30" y2="309.88" stroke="#3d8fd6" stroke-width="0.45"/>
<circle cx="462.30" cy="308.28" r="1.15" fill="#3d8fd6" stroke="#3d8fd6" stroke-width="0.2"/>
<line x1="466.80" y1="289.90" x2="466.80" y2="293.10" stroke="#3d8fd6" stroke-width="0.45"/>
<circle cx="466.80" cy="291.50" r="1.15" fill="#3d8fd6" stroke="#3d8fd6" stroke-width="0.2"/>
<line x1="471.30" y1="271.65" x2="471.30" y2="274.85" stroke="#3d8fd6" stroke-width="0.45"/>
<circle cx="471.30" cy="273.25" r="1.15" fill="#3d8fd6" stroke="#3d8fd6" stroke-width="0.2"/>
<line x1="475.80" y1="273.11" x2="475.80" y2="276.31" stroke="#3d8fd6" stroke-width="0.45"/>
<circle cx="475.80" cy="274.71" r="1.15" fill="#3d8fd6" stroke="#3d8fd6" stroke-width="0.2"/>
<line x1="480.30" y1="273.84" x2="480.30" y2="277.04" stroke="#3d8fd6" stroke-width="0.45"/>
<circle cx="480.30" cy="275.44" r="1.15" fill="#3d8fd6" stroke="#3d8fd6" stroke-width="0.2"/>
<line x1="484.80" y1="274.57" x2="484.80" y2="277.77" stroke="#3d8fd6" stroke-width="0.45"/>
<circle cx="484.80" cy="276.17" r="1.15" fill="#3d8fd6" stroke="#3d8fd6" stroke-width="0.2"/>
<line x1="489.30" y1="275.30" x2="489.30" y2="278.50" stroke="#3d8fd6" stroke-width="0.45"/>
<circle cx="489.30" cy="276.90" r="1.15" fill="#3d8fd6" stroke="#3d8fd6" stroke-width="0.2"/>
<line x1="493.80" y1="276.32" x2="493.80" y2="279.52" stroke="#3d8fd6" stroke-width="0.45"/>
<circle cx="493.80" cy="277.92" r="1.15" fill="#3d8fd6" stroke="#3d8fd6" stroke-width="0.2"/>
<line x1="498.30" y1="277.49" x2="498.30" y2="280.69" stroke="#3d8fd6" stroke-width="0.45"/>
<circle cx="498.30" cy="279.09" r="1.15" fill="#3d8fd6" stroke="#3d8fd6" stroke-width="0.2"/>
<line x1="502.80" y1="278.22" x2="502.80" y2="281.42" stroke="#3d8fd6" stroke-width="0.45"/>
<circle cx="502.80" cy="279.82" r="1.15" fill="#3d8fd6" stroke="#3d8fd6" stroke-width="0.2"/>
<line x1="507.30" y1="278.95" x2="507.30" y2="282.15" stroke="#3d8fd6" stroke-width="0.45"/>
<circle cx="507.30" cy="280.55" r="1.15" fill="#3d8fd6" stroke="#3d8fd6" stroke-width="0.2"/>
<line x1="511.80" y1="279.97" x2="511.80" y2="283.17" stroke="#3d8fd6" stroke-width="0.45"/>
<circle cx="511.80" cy="281.57" r="1.15" fill="#3d8fd6" stroke="#3d8fd6" stroke-width="0.2"/>
<line x1="516.30" y1="280.70" x2="516.30" y2="283.90" stroke="#3d8fd6" stroke-width="0.45"/>
<circle cx="516.30" cy="282.30" r="1.15" fill="#3d8fd6" stroke="#3d8fd6" stroke-width="0.2"/>
<line x1="520.80" y1="281.43" x2="520.80" y2="284.63" stroke="#3d8fd6" stroke-width="0.45"/>
<circle cx="520.80" cy="283.03" r="1.15" fill="#3d8fd6" stroke="#3d8fd6" stroke-width="0.2"/>
<line x1="525.30" y1="282.16" x2="525.30" y2="285.36" stroke="#3d8fd6" stroke-width="0.45"/>
<circle cx="525.30" cy="283.76" r="1.15" fill="#3d8fd6" stroke="#3d8fd6" stroke-width="0.2"/>
<line x1="529.80" y1="282.60" x2="529.80" y2="285.80" stroke="#3d8fd6" stroke-width="0.45"/>
<circle cx="529.80" cy="284.20" r="1.15" fill="#3d8fd6" stroke="#3d8fd6" stroke-width="0.2"/>
<line x1="534.30" y1="283.76" x2="534.30" y2="286.96" stroke="#3d8fd6" stroke-width="0.45"/>
<circle cx="534.30" cy="285.36" r="1.15" fill="#3d8fd6" stroke="#3d8fd6" stroke-width="0.2"/>
<polyline points="448.80,319.96 453.30,318.80 457.80,316.02 462.30,309.31 466.80,296.61 471.30,273.69 475.80,274.27 480.30,275.00 484.80,275.73 489.30,276.61 493.80,277.63 498.30,278.36 502.80,279.09 507.30,279.82 511.80,280.84 516.30,281.57 520.80,282.01 525.30,282.74 529.80,283.47 534.30,284.20" fill="none" stroke="#231f20" stroke-width="0.9"/>
<line x1="448.80" y1="318.36" x2="448.80" y2="321.56" stroke="#231f20" stroke-width="0.45"/>
<circle cx="448.80" cy="319.96" r="1.15" fill="#231f20" stroke="#231f20" stroke-width="0.2"/>
<line x1="453.30" y1="317.20" x2="453.30" y2="320.40" stroke="#231f20" stroke-width="0.45"/>
<circle cx="453.30" cy="318.80" r="1.15" fill="#231f20" stroke="#231f20" stroke-width="0.2"/>
<line x1="457.80" y1="314.42" x2="457.80" y2="317.62" stroke="#231f20" stroke-width="0.45"/>
<circle cx="457.80" cy="316.02" r="1.15" fill="#231f20" stroke="#231f20" stroke-width="0.2"/>
<line x1="462.30" y1="307.71" x2="462.30" y2="310.91" stroke="#231f20" stroke-width="0.45"/>
<circle cx="462.30" cy="309.31" r="1.15" fill="#231f20" stroke="#231f20" stroke-width="0.2"/>
<line x1="466.80" y1="295.01" x2="466.80" y2="298.21" stroke="#231f20" stroke-width="0.45"/>
<circle cx="466.80" cy="296.61" r="1.15" fill="#231f20" stroke="#231f20" stroke-width="0.2"/>
<line x1="471.30" y1="272.09" x2="471.30" y2="275.29" stroke="#231f20" stroke-width="0.45"/>
<circle cx="471.30" cy="273.69" r="1.15" fill="#231f20" stroke="#231f20" stroke-width="0.2"/>
<line x1="475.80" y1="272.67" x2="475.80" y2="275.87" stroke="#231f20" stroke-width="0.45"/>
<circle cx="475.80" cy="274.27" r="1.15" fill="#231f20" stroke="#231f20" stroke-width="0.2"/>
<line x1="480.30" y1="273.40" x2="480.30" y2="276.60" stroke="#231f20" stroke-width="0.45"/>
<circle cx="480.30" cy="275.00" r="1.15" fill="#231f20" stroke="#231f20" stroke-width="0.2"/>
<line x1="484.80" y1="274.13" x2="484.80" y2="277.33" stroke="#231f20" stroke-width="0.45"/>
<circle cx="484.80" cy="275.73" r="1.15" fill="#231f20" stroke="#231f20" stroke-width="0.2"/>
<line x1="489.30" y1="275.01" x2="489.30" y2="278.21" stroke="#231f20" stroke-width="0.45"/>
<circle cx="489.30" cy="276.61" r="1.15" fill="#231f20" stroke="#231f20" stroke-width="0.2"/>
<line x1="493.80" y1="276.03" x2="493.80" y2="279.23" stroke="#231f20" stroke-width="0.45"/>
<circle cx="493.80" cy="277.63" r="1.15" fill="#231f20" stroke="#231f20" stroke-width="0.2"/>
<line x1="498.30" y1="276.76" x2="498.30" y2="279.96" stroke="#231f20" stroke-width="0.45"/>
<circle cx="498.30" cy="278.36" r="1.15" fill="#231f20" stroke="#231f20" stroke-width="0.2"/>
<line x1="502.80" y1="277.49" x2="502.80" y2="280.69" stroke="#231f20" stroke-width="0.45"/>
<circle cx="502.80" cy="279.09" r="1.15" fill="#231f20" stroke="#231f20" stroke-width="0.2"/>
<line x1="507.30" y1="278.22" x2="507.30" y2="281.42" stroke="#231f20" stroke-width="0.45"/>
<circle cx="507.30" cy="279.82" r="1.15" fill="#231f20" stroke="#231f20" stroke-width="0.2"/>
<line x1="511.80" y1="279.24" x2="511.80" y2="282.44" stroke="#231f20" stroke-width="0.45"/>
<circle cx="511.80" cy="280.84" r="1.15" fill="#231f20" stroke="#231f20" stroke-width="0.2"/>
<line x1="516.30" y1="279.97" x2="516.30" y2="283.17" stroke="#231f20" stroke-width="0.45"/>
<circle cx="516.30" cy="281.57" r="1.15" fill="#231f20" stroke="#231f20" stroke-width="0.2"/>
<line x1="520.80" y1="280.41" x2="520.80" y2="283.61" stroke="#231f20" stroke-width="0.45"/>
<circle cx="520.80" cy="282.01" r="1.15" fill="#231f20" stroke="#231f20" stroke-width="0.2"/>
<line x1="525.30" y1="281.14" x2="525.30" y2="284.34" stroke="#231f20" stroke-width="0.45"/>
<circle cx="525.30" cy="282.74" r="1.15" fill="#231f20" stroke="#231f20" stroke-width="0.2"/>
<line x1="529.80" y1="281.87" x2="529.80" y2="285.07" stroke="#231f20" stroke-width="0.45"/>
<circle cx="529.80" cy="283.47" r="1.15" fill="#231f20" stroke="#231f20" stroke-width="0.2"/>
<line x1="534.30" y1="282.60" x2="534.30" y2="285.80" stroke="#231f20" stroke-width="0.45"/>
<circle cx="534.30" cy="284.20" r="1.15" fill="#231f20" stroke="#231f20" stroke-width="0.2"/>
<text x="526.50" y="237.00" font-size="5.8" transform="rotate(90 526.50 237.00)">&lt;0.001</text>
<line x1="525.40" y1="235.90" x2="525.40" y2="242.90" stroke="#8a8a8a" stroke-width="0.7"/>
<text x="535.20" y="237.00" font-size="5.8" transform="rotate(90 535.20 237.00)">0.0710</text>
<line x1="534.40" y1="235.90" x2="534.40" y2="252.90" stroke="#8a8a8a" stroke-width="0.7"/>
<text x="543.20" y="237.00" font-size="5.8" transform="rotate(90 543.20 237.00)">&lt;0.001</text>
<line x1="541.80" y1="235.90" x2="541.80" y2="261.90" stroke="#8a8a8a" stroke-width="0.7"/>
<line x1="581.60" y1="260.80" x2="581.60" y2="320.40" stroke="#7a7a7a" stroke-width="0.7"/>
<line x1="579.40" y1="320.40" x2="581.60" y2="320.40" stroke="#7a7a7a" stroke-width="0.6"/>
<text x="576.70" y="323.20" font-size="7.8" text-anchor="end" letter-spacing="0.25">0</text>
<line x1="579.40" y1="302.00" x2="581.60" y2="302.00" stroke="#7a7a7a" stroke-width="0.6"/>
<text x="576.70" y="304.80" font-size="7.8" text-anchor="end" letter-spacing="0.25">0.4</text>
<line x1="579.40" y1="283.60" x2="581.60" y2="283.60" stroke="#7a7a7a" stroke-width="0.6"/>
<text x="576.70" y="286.40" font-size="7.8" text-anchor="end" letter-spacing="0.25">0.8</text>
<line x1="579.40" y1="265.20" x2="581.60" y2="265.20" stroke="#7a7a7a" stroke-width="0.6"/>
<text x="576.70" y="268.00" font-size="7.8" text-anchor="end" letter-spacing="0.25">1.2</text>
<line x1="580.20" y1="311.20" x2="581.60" y2="311.20" stroke="#7a7a7a" stroke-width="0.5"/>
<line x1="580.20" y1="292.80" x2="581.60" y2="292.80" stroke="#7a7a7a" stroke-width="0.5"/>
<line x1="580.20" y1="274.40" x2="581.60" y2="274.40" stroke="#7a7a7a" stroke-width="0.5"/>
<line x1="581.60" y1="320.40" x2="673.60" y2="320.40" stroke="#7a7a7a" stroke-width="0.7"/>
<line x1="582.00" y1="320.40" x2="582.00" y2="322.60" stroke="#7a7a7a" stroke-width="0.6"/>
<text x="582.00" y="332.30" font-size="7.8" text-anchor="middle" letter-spacing="0.2">0</text>
<line x1="595.50" y1="320.40" x2="595.50" y2="321.80" stroke="#7a7a7a" stroke-width="0.6"/>
<line x1="609.00" y1="320.40" x2="609.00" y2="322.60" stroke="#7a7a7a" stroke-width="0.6"/>
<text x="609.00" y="332.30" font-size="7.8" text-anchor="middle" letter-spacing="0.2">6</text>
<line x1="622.50" y1="320.40" x2="622.50" y2="321.80" stroke="#7a7a7a" stroke-width="0.6"/>
<line x1="636.00" y1="320.40" x2="636.00" y2="322.60" stroke="#7a7a7a" stroke-width="0.6"/>
<text x="636.00" y="332.30" font-size="7.8" text-anchor="middle" letter-spacing="0.2">12</text>
<line x1="649.50" y1="320.40" x2="649.50" y2="321.80" stroke="#7a7a7a" stroke-width="0.6"/>
<line x1="663.00" y1="320.40" x2="663.00" y2="322.60" stroke="#7a7a7a" stroke-width="0.6"/>
<text x="663.00" y="332.30" font-size="7.8" text-anchor="middle" letter-spacing="0.2">18</text>
<text x="626.50" y="344.60" font-size="9" text-anchor="middle">Time (h)</text>
<text x="559.40" y="290.00" font-size="9.2" text-anchor="middle" transform="rotate(-90 559.40 290.00)">OD<tspan dy="2.3" font-size="6.8">600</tspan></text>
<text x="579.40" y="239.00" font-size="8.8">10 g l<tspan dy="-3.4" font-size="5.8">−1</tspan></text>
<line x1="609.70" y1="239.10" x2="615.30" y2="239.10" stroke="#231f20" stroke-width="0.8"/>
<circle cx="612.50" cy="239.10" r="1.2" fill="#231f20" stroke="#231f20" stroke-width="0.2"/>
<text x="618.90" y="241.20" font-size="6.2">WT</text>
<line x1="609.70" y1="248.00" x2="615.30" y2="248.00" stroke="#e2383f" stroke-width="0.8"/>
<circle cx="612.50" cy="248.00" r="1.2" fill="#e2383f" stroke="#e2383f" stroke-width="0.2"/>
<text x="618.90" y="250.10" font-size="6.2">Δ<tspan font-style="italic">manY</tspan></text>
<line x1="609.70" y1="257.40" x2="615.30" y2="257.40" stroke="#3d8fd6" stroke-width="0.8"/>
<circle cx="612.50" cy="257.40" r="1.2" fill="#3d8fd6" stroke="#3d8fd6" stroke-width="0.2"/>
<text x="618.90" y="259.50" font-size="6.2">CΔ<tspan font-style="italic">manY</tspan></text>
<line x1="609.70" y1="266.30" x2="615.30" y2="266.30" stroke="#7cc242" stroke-width="0.8"/>
<circle cx="612.50" cy="266.30" r="1.2" fill="#7cc242" stroke="#7cc242" stroke-width="0.2"/>
<text x="618.90" y="268.40" font-size="6.2">SEZ :: P<tspan dy="1.6" font-size="3.2">manX(A909)</tspan></text>
<polyline points="586.50,320.26 591.00,319.96 595.50,319.23 600.00,317.77 604.50,314.85 609.00,309.31 613.50,300.99 618.00,289.31 622.50,281.28 627.00,276.17 631.50,276.17 636.00,276.61 640.50,276.61 645.00,276.17 649.50,275.73 654.00,275.44 658.50,274.71 663.00,273.98 667.50,273.69 672.00,272.81" fill="none" stroke="#7cc242" stroke-width="0.9"/>
<line x1="586.50" y1="318.66" x2="586.50" y2="321.86" stroke="#7cc242" stroke-width="0.45"/>
<circle cx="586.50" cy="320.26" r="1.15" fill="#7cc242" stroke="#7cc242" stroke-width="0.2"/>
<line x1="591.00" y1="318.36" x2="591.00" y2="321.56" stroke="#7cc242" stroke-width="0.45"/>
<circle cx="591.00" cy="319.96" r="1.15" fill="#7cc242" stroke="#7cc242" stroke-width="0.2"/>
<line x1="595.50" y1="317.63" x2="595.50" y2="320.83" stroke="#7cc242" stroke-width="0.45"/>
<circle cx="595.50" cy="319.23" r="1.15" fill="#7cc242" stroke="#7cc242" stroke-width="0.2"/>
<line x1="600.00" y1="316.17" x2="600.00" y2="319.37" stroke="#7cc242" stroke-width="0.45"/>
<circle cx="600.00" cy="317.77" r="1.15" fill="#7cc242" stroke="#7cc242" stroke-width="0.2"/>
<line x1="604.50" y1="313.25" x2="604.50" y2="316.45" stroke="#7cc242" stroke-width="0.45"/>
<circle cx="604.50" cy="314.85" r="1.15" fill="#7cc242" stroke="#7cc242" stroke-width="0.2"/>
<line x1="609.00" y1="307.71" x2="609.00" y2="310.91" stroke="#7cc242" stroke-width="0.45"/>
<circle cx="609.00" cy="309.31" r="1.15" fill="#7cc242" stroke="#7cc242" stroke-width="0.2"/>
<line x1="613.50" y1="299.39" x2="613.50" y2="302.59" stroke="#7cc242" stroke-width="0.45"/>
<circle cx="613.50" cy="300.99" r="1.15" fill="#7cc242" stroke="#7cc242" stroke-width="0.2"/>
<line x1="618.00" y1="287.71" x2="618.00" y2="290.91" stroke="#7cc242" stroke-width="0.45"/>
<circle cx="618.00" cy="289.31" r="1.15" fill="#7cc242" stroke="#7cc242" stroke-width="0.2"/>
<line x1="622.50" y1="279.68" x2="622.50" y2="282.88" stroke="#7cc242" stroke-width="0.45"/>
<circle cx="622.50" cy="281.28" r="1.15" fill="#7cc242" stroke="#7cc242" stroke-width="0.2"/>
<line x1="627.00" y1="274.57" x2="627.00" y2="277.77" stroke="#7cc242" stroke-width="0.45"/>
<circle cx="627.00" cy="276.17" r="1.15" fill="#7cc242" stroke="#7cc242" stroke-width="0.2"/>
<line x1="631.50" y1="274.57" x2="631.50" y2="277.77" stroke="#7cc242" stroke-width="0.45"/>
<circle cx="631.50" cy="276.17" r="1.15" fill="#7cc242" stroke="#7cc242" stroke-width="0.2"/>
<line x1="636.00" y1="275.01" x2="636.00" y2="278.21" stroke="#7cc242" stroke-width="0.45"/>
<circle cx="636.00" cy="276.61" r="1.15" fill="#7cc242" stroke="#7cc242" stroke-width="0.2"/>
<line x1="640.50" y1="275.01" x2="640.50" y2="278.21" stroke="#7cc242" stroke-width="0.45"/>
<circle cx="640.50" cy="276.61" r="1.15" fill="#7cc242" stroke="#7cc242" stroke-width="0.2"/>
<line x1="645.00" y1="274.57" x2="645.00" y2="277.77" stroke="#7cc242" stroke-width="0.45"/>
<circle cx="645.00" cy="276.17" r="1.15" fill="#7cc242" stroke="#7cc242" stroke-width="0.2"/>
<line x1="649.50" y1="274.13" x2="649.50" y2="277.33" stroke="#7cc242" stroke-width="0.45"/>
<circle cx="649.50" cy="275.73" r="1.15" fill="#7cc242" stroke="#7cc242" stroke-width="0.2"/>
<line x1="654.00" y1="273.84" x2="654.00" y2="277.04" stroke="#7cc242" stroke-width="0.45"/>
<circle cx="654.00" cy="275.44" r="1.15" fill="#7cc242" stroke="#7cc242" stroke-width="0.2"/>
<line x1="658.50" y1="273.11" x2="658.50" y2="276.31" stroke="#7cc242" stroke-width="0.45"/>
<circle cx="658.50" cy="274.71" r="1.15" fill="#7cc242" stroke="#7cc242" stroke-width="0.2"/>
<line x1="663.00" y1="272.38" x2="663.00" y2="275.58" stroke="#7cc242" stroke-width="0.45"/>
<circle cx="663.00" cy="273.98" r="1.15" fill="#7cc242" stroke="#7cc242" stroke-width="0.2"/>
<line x1="667.50" y1="272.09" x2="667.50" y2="275.29" stroke="#7cc242" stroke-width="0.45"/>
<circle cx="667.50" cy="273.69" r="1.15" fill="#7cc242" stroke="#7cc242" stroke-width="0.2"/>
<line x1="672.00" y1="271.21" x2="672.00" y2="274.41" stroke="#7cc242" stroke-width="0.45"/>
<circle cx="672.00" cy="272.81" r="1.15" fill="#7cc242" stroke="#7cc242" stroke-width="0.2"/>
<polyline points="586.50,320.26 591.00,319.96 595.50,319.53 600.00,318.50 604.50,316.02 609.00,312.66 613.50,306.09 618.00,298.07 622.50,288.28 627.00,280.55 631.50,278.36 636.00,277.63 640.50,277.19 645.00,276.90 649.50,276.61 654.00,276.61 658.50,276.17 663.00,275.73 667.50,275.44 672.00,274.71" fill="none" stroke="#e2383f" stroke-width="0.9"/>
<line x1="586.50" y1="318.66" x2="586.50" y2="321.86" stroke="#e2383f" stroke-width="0.45"/>
<circle cx="586.50" cy="320.26" r="1.15" fill="#e2383f" stroke="#e2383f" stroke-width="0.2"/>
<line x1="591.00" y1="318.36" x2="591.00" y2="321.56" stroke="#e2383f" stroke-width="0.45"/>
<circle cx="591.00" cy="319.96" r="1.15" fill="#e2383f" stroke="#e2383f" stroke-width="0.2"/>
<line x1="595.50" y1="317.93" x2="595.50" y2="321.13" stroke="#e2383f" stroke-width="0.45"/>
<circle cx="595.50" cy="319.53" r="1.15" fill="#e2383f" stroke="#e2383f" stroke-width="0.2"/>
<line x1="600.00" y1="316.90" x2="600.00" y2="320.10" stroke="#e2383f" stroke-width="0.45"/>
<circle cx="600.00" cy="318.50" r="1.15" fill="#e2383f" stroke="#e2383f" stroke-width="0.2"/>
<line x1="604.50" y1="314.42" x2="604.50" y2="317.62" stroke="#e2383f" stroke-width="0.45"/>
<circle cx="604.50" cy="316.02" r="1.15" fill="#e2383f" stroke="#e2383f" stroke-width="0.2"/>
<line x1="609.00" y1="311.06" x2="609.00" y2="314.26" stroke="#e2383f" stroke-width="0.45"/>
<circle cx="609.00" cy="312.66" r="1.15" fill="#e2383f" stroke="#e2383f" stroke-width="0.2"/>
<line x1="613.50" y1="304.49" x2="613.50" y2="307.69" stroke="#e2383f" stroke-width="0.45"/>
<circle cx="613.50" cy="306.09" r="1.15" fill="#e2383f" stroke="#e2383f" stroke-width="0.2"/>
<line x1="618.00" y1="296.47" x2="618.00" y2="299.67" stroke="#e2383f" stroke-width="0.45"/>
<circle cx="618.00" cy="298.07" r="1.15" fill="#e2383f" stroke="#e2383f" stroke-width="0.2"/>
<line x1="622.50" y1="286.68" x2="622.50" y2="289.88" stroke="#e2383f" stroke-width="0.45"/>
<circle cx="622.50" cy="288.28" r="1.15" fill="#e2383f" stroke="#e2383f" stroke-width="0.2"/>
<line x1="627.00" y1="278.95" x2="627.00" y2="282.15" stroke="#e2383f" stroke-width="0.45"/>
<circle cx="627.00" cy="280.55" r="1.15" fill="#e2383f" stroke="#e2383f" stroke-width="0.2"/>
<line x1="631.50" y1="276.76" x2="631.50" y2="279.96" stroke="#e2383f" stroke-width="0.45"/>
<circle cx="631.50" cy="278.36" r="1.15" fill="#e2383f" stroke="#e2383f" stroke-width="0.2"/>
<line x1="636.00" y1="276.03" x2="636.00" y2="279.23" stroke="#e2383f" stroke-width="0.45"/>
<circle cx="636.00" cy="277.63" r="1.15" fill="#e2383f" stroke="#e2383f" stroke-width="0.2"/>
<line x1="640.50" y1="275.59" x2="640.50" y2="278.79" stroke="#e2383f" stroke-width="0.45"/>
<circle cx="640.50" cy="277.19" r="1.15" fill="#e2383f" stroke="#e2383f" stroke-width="0.2"/>
<line x1="645.00" y1="275.30" x2="645.00" y2="278.50" stroke="#e2383f" stroke-width="0.45"/>
<circle cx="645.00" cy="276.90" r="1.15" fill="#e2383f" stroke="#e2383f" stroke-width="0.2"/>
<line x1="649.50" y1="275.01" x2="649.50" y2="278.21" stroke="#e2383f" stroke-width="0.45"/>
<circle cx="649.50" cy="276.61" r="1.15" fill="#e2383f" stroke="#e2383f" stroke-width="0.2"/>
<line x1="654.00" y1="275.01" x2="654.00" y2="278.21" stroke="#e2383f" stroke-width="0.45"/>
<circle cx="654.00" cy="276.61" r="1.15" fill="#e2383f" stroke="#e2383f" stroke-width="0.2"/>
<line x1="658.50" y1="274.57" x2="658.50" y2="277.77" stroke="#e2383f" stroke-width="0.45"/>
<circle cx="658.50" cy="276.17" r="1.15" fill="#e2383f" stroke="#e2383f" stroke-width="0.2"/>
<line x1="663.00" y1="274.13" x2="663.00" y2="277.33" stroke="#e2383f" stroke-width="0.45"/>
<circle cx="663.00" cy="275.73" r="1.15" fill="#e2383f" stroke="#e2383f" stroke-width="0.2"/>
<line x1="667.50" y1="273.84" x2="667.50" y2="277.04" stroke="#e2383f" stroke-width="0.45"/>
<circle cx="667.50" cy="275.44" r="1.15" fill="#e2383f" stroke="#e2383f" stroke-width="0.2"/>
<line x1="672.00" y1="273.11" x2="672.00" y2="276.31" stroke="#e2383f" stroke-width="0.45"/>
<circle cx="672.00" cy="274.71" r="1.15" fill="#e2383f" stroke="#e2383f" stroke-width="0.2"/>
<polyline points="586.50,320.26 591.00,319.96 595.50,319.23 600.00,317.19 604.50,312.23 609.00,303.91 613.50,290.77 618.00,282.45 622.50,279.09 627.00,279.09 631.50,279.53 636.00,279.53 640.50,279.09 645.00,278.80 649.50,278.36 654.00,278.36 658.50,278.07 663.00,278.07 667.50,277.92 672.00,277.92" fill="none" stroke="#3d8fd6" stroke-width="0.9"/>
<line x1="586.50" y1="318.66" x2="586.50" y2="321.86" stroke="#3d8fd6" stroke-width="0.45"/>
<circle cx="586.50" cy="320.26" r="1.15" fill="#3d8fd6" stroke="#3d8fd6" stroke-width="0.2"/>
<line x1="591.00" y1="318.36" x2="591.00" y2="321.56" stroke="#3d8fd6" stroke-width="0.45"/>
<circle cx="591.00" cy="319.96" r="1.15" fill="#3d8fd6" stroke="#3d8fd6" stroke-width="0.2"/>
<line x1="595.50" y1="317.63" x2="595.50" y2="320.83" stroke="#3d8fd6" stroke-width="0.45"/>
<circle cx="595.50" cy="319.23" r="1.15" fill="#3d8fd6" stroke="#3d8fd6" stroke-width="0.2"/>
<line x1="600.00" y1="315.59" x2="600.00" y2="318.79" stroke="#3d8fd6" stroke-width="0.45"/>
<circle cx="600.00" cy="317.19" r="1.15" fill="#3d8fd6" stroke="#3d8fd6" stroke-width="0.2"/>
<line x1="604.50" y1="310.63" x2="604.50" y2="313.83" stroke="#3d8fd6" stroke-width="0.45"/>
<circle cx="604.50" cy="312.23" r="1.15" fill="#3d8fd6" stroke="#3d8fd6" stroke-width="0.2"/>
<line x1="609.00" y1="302.31" x2="609.00" y2="305.51" stroke="#3d8fd6" stroke-width="0.45"/>
<circle cx="609.00" cy="303.91" r="1.15" fill="#3d8fd6" stroke="#3d8fd6" stroke-width="0.2"/>
<line x1="613.50" y1="289.17" x2="613.50" y2="292.37" stroke="#3d8fd6" stroke-width="0.45"/>
<circle cx="613.50" cy="290.77" r="1.15" fill="#3d8fd6" stroke="#3d8fd6" stroke-width="0.2"/>
<line x1="618.00" y1="280.85" x2="618.00" y2="284.05" stroke="#3d8fd6" stroke-width="0.45"/>
<circle cx="618.00" cy="282.45" r="1.15" fill="#3d8fd6" stroke="#3d8fd6" stroke-width="0.2"/>
<line x1="622.50" y1="277.49" x2="622.50" y2="280.69" stroke="#3d8fd6" stroke-width="0.45"/>
<circle cx="622.50" cy="279.09" r="1.15" fill="#3d8fd6" stroke="#3d8fd6" stroke-width="0.2"/>
<line x1="627.00" y1="277.49" x2="627.00" y2="280.69" stroke="#3d8fd6" stroke-width="0.45"/>
<circle cx="627.00" cy="279.09" r="1.15" fill="#3d8fd6" stroke="#3d8fd6" stroke-width="0.2"/>
<line x1="631.50" y1="277.93" x2="631.50" y2="281.13" stroke="#3d8fd6" stroke-width="0.45"/>
<circle cx="631.50" cy="279.53" r="1.15" fill="#3d8fd6" stroke="#3d8fd6" stroke-width="0.2"/>
<line x1="636.00" y1="277.93" x2="636.00" y2="281.13" stroke="#3d8fd6" stroke-width="0.45"/>
<circle cx="636.00" cy="279.53" r="1.15" fill="#3d8fd6" stroke="#3d8fd6" stroke-width="0.2"/>
<line x1="640.50" y1="277.49" x2="640.50" y2="280.69" stroke="#3d8fd6" stroke-width="0.45"/>
<circle cx="640.50" cy="279.09" r="1.15" fill="#3d8fd6" stroke="#3d8fd6" stroke-width="0.2"/>
<line x1="645.00" y1="277.20" x2="645.00" y2="280.40" stroke="#3d8fd6" stroke-width="0.45"/>
<circle cx="645.00" cy="278.80" r="1.15" fill="#3d8fd6" stroke="#3d8fd6" stroke-width="0.2"/>
<line x1="649.50" y1="276.76" x2="649.50" y2="279.96" stroke="#3d8fd6" stroke-width="0.45"/>
<circle cx="649.50" cy="278.36" r="1.15" fill="#3d8fd6" stroke="#3d8fd6" stroke-width="0.2"/>
<line x1="654.00" y1="276.76" x2="654.00" y2="279.96" stroke="#3d8fd6" stroke-width="0.45"/>
<circle cx="654.00" cy="278.36" r="1.15" fill="#3d8fd6" stroke="#3d8fd6" stroke-width="0.2"/>
<line x1="658.50" y1="276.47" x2="658.50" y2="279.67" stroke="#3d8fd6" stroke-width="0.45"/>
<circle cx="658.50" cy="278.07" r="1.15" fill="#3d8fd6" stroke="#3d8fd6" stroke-width="0.2"/>
<line x1="663.00" y1="276.47" x2="663.00" y2="279.67" stroke="#3d8fd6" stroke-width="0.45"/>
<circle cx="663.00" cy="278.07" r="1.15" fill="#3d8fd6" stroke="#3d8fd6" stroke-width="0.2"/>
<line x1="667.50" y1="276.32" x2="667.50" y2="279.52" stroke="#3d8fd6" stroke-width="0.45"/>
<circle cx="667.50" cy="277.92" r="1.15" fill="#3d8fd6" stroke="#3d8fd6" stroke-width="0.2"/>
<line x1="672.00" y1="276.32" x2="672.00" y2="279.52" stroke="#3d8fd6" stroke-width="0.45"/>
<circle cx="672.00" cy="277.92" r="1.15" fill="#3d8fd6" stroke="#3d8fd6" stroke-width="0.2"/>
<polyline points="586.50,320.26 591.00,319.96 595.50,319.23 600.00,317.48 604.50,313.10 609.00,306.09 613.50,293.69 618.00,283.91 622.50,279.09 627.00,280.11 631.50,280.11 636.00,280.11 640.50,279.53 645.00,279.09 649.50,278.65 654.00,278.65 658.50,278.36 663.00,278.36 667.50,278.07 672.00,278.07" fill="none" stroke="#231f20" stroke-width="0.9"/>
<line x1="586.50" y1="318.66" x2="586.50" y2="321.86" stroke="#231f20" stroke-width="0.45"/>
<circle cx="586.50" cy="320.26" r="1.15" fill="#231f20" stroke="#231f20" stroke-width="0.2"/>
<line x1="591.00" y1="318.36" x2="591.00" y2="321.56" stroke="#231f20" stroke-width="0.45"/>
<circle cx="591.00" cy="319.96" r="1.15" fill="#231f20" stroke="#231f20" stroke-width="0.2"/>
<line x1="595.50" y1="317.63" x2="595.50" y2="320.83" stroke="#231f20" stroke-width="0.45"/>
<circle cx="595.50" cy="319.23" r="1.15" fill="#231f20" stroke="#231f20" stroke-width="0.2"/>
<line x1="600.00" y1="315.88" x2="600.00" y2="319.08" stroke="#231f20" stroke-width="0.45"/>
<circle cx="600.00" cy="317.48" r="1.15" fill="#231f20" stroke="#231f20" stroke-width="0.2"/>
<line x1="604.50" y1="311.50" x2="604.50" y2="314.70" stroke="#231f20" stroke-width="0.45"/>
<circle cx="604.50" cy="313.10" r="1.15" fill="#231f20" stroke="#231f20" stroke-width="0.2"/>
<line x1="609.00" y1="304.49" x2="609.00" y2="307.69" stroke="#231f20" stroke-width="0.45"/>
<circle cx="609.00" cy="306.09" r="1.15" fill="#231f20" stroke="#231f20" stroke-width="0.2"/>
<line x1="613.50" y1="292.09" x2="613.50" y2="295.29" stroke="#231f20" stroke-width="0.45"/>
<circle cx="613.50" cy="293.69" r="1.15" fill="#231f20" stroke="#231f20" stroke-width="0.2"/>
<line x1="618.00" y1="282.31" x2="618.00" y2="285.51" stroke="#231f20" stroke-width="0.45"/>
<circle cx="618.00" cy="283.91" r="1.15" fill="#231f20" stroke="#231f20" stroke-width="0.2"/>
<line x1="622.50" y1="277.49" x2="622.50" y2="280.69" stroke="#231f20" stroke-width="0.45"/>
<circle cx="622.50" cy="279.09" r="1.15" fill="#231f20" stroke="#231f20" stroke-width="0.2"/>
<line x1="627.00" y1="278.51" x2="627.00" y2="281.71" stroke="#231f20" stroke-width="0.45"/>
<circle cx="627.00" cy="280.11" r="1.15" fill="#231f20" stroke="#231f20" stroke-width="0.2"/>
<line x1="631.50" y1="278.51" x2="631.50" y2="281.71" stroke="#231f20" stroke-width="0.45"/>
<circle cx="631.50" cy="280.11" r="1.15" fill="#231f20" stroke="#231f20" stroke-width="0.2"/>
<line x1="636.00" y1="278.51" x2="636.00" y2="281.71" stroke="#231f20" stroke-width="0.45"/>
<circle cx="636.00" cy="280.11" r="1.15" fill="#231f20" stroke="#231f20" stroke-width="0.2"/>
<line x1="640.50" y1="277.93" x2="640.50" y2="281.13" stroke="#231f20" stroke-width="0.45"/>
<circle cx="640.50" cy="279.53" r="1.15" fill="#231f20" stroke="#231f20" stroke-width="0.2"/>
<line x1="645.00" y1="277.49" x2="645.00" y2="280.69" stroke="#231f20" stroke-width="0.45"/>
<circle cx="645.00" cy="279.09" r="1.15" fill="#231f20" stroke="#231f20" stroke-width="0.2"/>
<line x1="649.50" y1="277.05" x2="649.50" y2="280.25" stroke="#231f20" stroke-width="0.45"/>
<circle cx="649.50" cy="278.65" r="1.15" fill="#231f20" stroke="#231f20" stroke-width="0.2"/>
<line x1="654.00" y1="277.05" x2="654.00" y2="280.25" stroke="#231f20" stroke-width="0.45"/>
<circle cx="654.00" cy="278.65" r="1.15" fill="#231f20" stroke="#231f20" stroke-width="0.2"/>
<line x1="658.50" y1="276.76" x2="658.50" y2="279.96" stroke="#231f20" stroke-width="0.45"/>
<circle cx="658.50" cy="278.36" r="1.15" fill="#231f20" stroke="#231f20" stroke-width="0.2"/>
<line x1="663.00" y1="276.76" x2="663.00" y2="279.96" stroke="#231f20" stroke-width="0.45"/>
<circle cx="663.00" cy="278.36" r="1.15" fill="#231f20" stroke="#231f20" stroke-width="0.2"/>
<line x1="667.50" y1="276.47" x2="667.50" y2="279.67" stroke="#231f20" stroke-width="0.45"/>
<circle cx="667.50" cy="278.07" r="1.15" fill="#231f20" stroke="#231f20" stroke-width="0.2"/>
<line x1="672.00" y1="276.47" x2="672.00" y2="279.67" stroke="#231f20" stroke-width="0.45"/>
<circle cx="672.00" cy="278.07" r="1.15" fill="#231f20" stroke="#231f20" stroke-width="0.2"/>
<text x="664.30" y="237.00" font-size="5.8" transform="rotate(90 664.30 237.00)">0.7388</text>
<line x1="663.30" y1="235.90" x2="663.30" y2="241.90" stroke="#8a8a8a" stroke-width="0.7"/>
<text x="673.70" y="237.00" font-size="5.8" transform="rotate(90 673.70 237.00)">0.5791</text>
<line x1="672.40" y1="235.90" x2="672.40" y2="252.90" stroke="#8a8a8a" stroke-width="0.7"/>
<text x="680.40" y="237.00" font-size="5.8" transform="rotate(90 680.40 237.00)">0.0748</text>
<line x1="679.00" y1="235.90" x2="679.00" y2="261.90" stroke="#8a8a8a" stroke-width="0.7"/>
<text transform="translate(1.6 367.3) scale(1.02 1)" font-size="12" font-weight="bold" fill="#000" stroke="#000" stroke-width="0.55">f</text>
<text x="74.00" y="371.60" font-size="8.8">Stationary phase CFU</text>
<line x1="43.80" y1="383.50" x2="43.80" y2="471.20" stroke="#231f20" stroke-width="0.7"/>
<line x1="41.60" y1="471.00" x2="43.80" y2="471.00" stroke="#231f20" stroke-width="0.6"/>
<text x="34.00" y="473.70" font-size="7.6" text-anchor="end" letter-spacing="0.2">10</text>
<text x="34.20" y="470.40" font-size="4.6">7</text>
<line x1="41.60" y1="449.60" x2="43.80" y2="449.60" stroke="#231f20" stroke-width="0.6"/>
<text x="34.00" y="452.30" font-size="7.6" text-anchor="end" letter-spacing="0.2">10</text>
<text x="34.20" y="449.00" font-size="4.6">8</text>
<line x1="41.60" y1="428.20" x2="43.80" y2="428.20" stroke="#231f20" stroke-width="0.6"/>
<text x="34.00" y="430.90" font-size="7.6" text-anchor="end" letter-spacing="0.2">10</text>
<text x="34.20" y="427.60" font-size="4.6">9</text>
<line x1="41.60" y1="406.80" x2="43.80" y2="406.80" stroke="#231f20" stroke-width="0.6"/>
<text x="34.00" y="409.50" font-size="7.6" text-anchor="end" letter-spacing="0.2">10</text>
<text x="34.20" y="406.20" font-size="4.6">10</text>
<line x1="41.60" y1="385.40" x2="43.80" y2="385.40" stroke="#231f20" stroke-width="0.6"/>
<text x="34.00" y="388.10" font-size="7.6" text-anchor="end" letter-spacing="0.2">10</text>
<text x="34.20" y="384.80" font-size="4.6">11</text>
<line x1="42.60" y1="464.56" x2="43.80" y2="464.56" stroke="#231f20" stroke-width="0.4"/>
<line x1="42.60" y1="460.79" x2="43.80" y2="460.79" stroke="#231f20" stroke-width="0.4"/>
<line x1="42.60" y1="458.12" x2="43.80" y2="458.12" stroke="#231f20" stroke-width="0.4"/>
<line x1="42.60" y1="456.04" x2="43.80" y2="456.04" stroke="#231f20" stroke-width="0.4"/>
<line x1="42.60" y1="454.35" x2="43.80" y2="454.35" stroke="#231f20" stroke-width="0.4"/>
<line x1="42.60" y1="452.91" x2="43.80" y2="452.91" stroke="#231f20" stroke-width="0.4"/>
<line x1="42.60" y1="451.67" x2="43.80" y2="451.67" stroke="#231f20" stroke-width="0.4"/>
<line x1="42.60" y1="450.58" x2="43.80" y2="450.58" stroke="#231f20" stroke-width="0.4"/>
<line x1="42.60" y1="443.16" x2="43.80" y2="443.16" stroke="#231f20" stroke-width="0.4"/>
<line x1="42.60" y1="439.39" x2="43.80" y2="439.39" stroke="#231f20" stroke-width="0.4"/>
<line x1="42.60" y1="436.72" x2="43.80" y2="436.72" stroke="#231f20" stroke-width="0.4"/>
<line x1="42.60" y1="434.64" x2="43.80" y2="434.64" stroke="#231f20" stroke-width="0.4"/>
<line x1="42.60" y1="432.95" x2="43.80" y2="432.95" stroke="#231f20" stroke-width="0.4"/>
<line x1="42.60" y1="431.51" x2="43.80" y2="431.51" stroke="#231f20" stroke-width="0.4"/>
<line x1="42.60" y1="430.27" x2="43.80" y2="430.27" stroke="#231f20" stroke-width="0.4"/>
<line x1="42.60" y1="429.18" x2="43.80" y2="429.18" stroke="#231f20" stroke-width="0.4"/>
<line x1="42.60" y1="421.76" x2="43.80" y2="421.76" stroke="#231f20" stroke-width="0.4"/>
<line x1="42.60" y1="417.99" x2="43.80" y2="417.99" stroke="#231f20" stroke-width="0.4"/>
<line x1="42.60" y1="415.32" x2="43.80" y2="415.32" stroke="#231f20" stroke-width="0.4"/>
<line x1="42.60" y1="413.24" x2="43.80" y2="413.24" stroke="#231f20" stroke-width="0.4"/>
<line x1="42.60" y1="411.55" x2="43.80" y2="411.55" stroke="#231f20" stroke-width="0.4"/>
<line x1="42.60" y1="410.11" x2="43.80" y2="410.11" stroke="#231f20" stroke-width="0.4"/>
<line x1="42.60" y1="408.87" x2="43.80" y2="408.87" stroke="#231f20" stroke-width="0.4"/>
<line x1="42.60" y1="407.78" x2="43.80" y2="407.78" stroke="#231f20" stroke-width="0.4"/>
<line x1="42.60" y1="400.36" x2="43.80" y2="400.36" stroke="#231f20" stroke-width="0.4"/>
<line x1="42.60" y1="396.59" x2="43.80" y2="396.59" stroke="#231f20" stroke-width="0.4"/>
<line x1="42.60" y1="393.92" x2="43.80" y2="393.92" stroke="#231f20" stroke-width="0.4"/>
<line x1="42.60" y1="391.84" x2="43.80" y2="391.84" stroke="#231f20" stroke-width="0.4"/>
<line x1="42.60" y1="390.15" x2="43.80" y2="390.15" stroke="#231f20" stroke-width="0.4"/>
<line x1="42.60" y1="388.71" x2="43.80" y2="388.71" stroke="#231f20" stroke-width="0.4"/>
<line x1="42.60" y1="387.47" x2="43.80" y2="387.47" stroke="#231f20" stroke-width="0.4"/>
<line x1="42.60" y1="386.38" x2="43.80" y2="386.38" stroke="#231f20" stroke-width="0.4"/>
<text x="19.80" y="431.50" font-size="8.8" text-anchor="middle" transform="rotate(-90 19.80 431.50)">CFU ml<tspan dy="-3.2" font-size="5.6">−1</tspan></text>
<line x1="43.80" y1="471.00" x2="188.90" y2="471.00" stroke="#231f20" stroke-width="0.7"/>
<rect x="47.20" y="457.73" width="5.50" height="13.27" fill="#7a7a7a"/>
<rect x="55.10" y="469.93" width="5.50" height="1.07" fill="#eca0a4"/>
<rect x="63.00" y="458.16" width="5.50" height="12.84" fill="#b9cfe7"/>
<rect x="70.90" y="468.86" width="5.50" height="2.14" fill="#c6e3ae"/>
<line x1="61.80" y1="471.00" x2="61.80" y2="473.20" stroke="#231f20" stroke-width="0.6"/>
<rect x="84.00" y="439.97" width="5.50" height="31.03" fill="#7a7a7a"/>
<rect x="91.90" y="443.82" width="5.50" height="27.18" fill="#eca0a4"/>
<rect x="99.80" y="439.33" width="5.50" height="31.67" fill="#b9cfe7"/>
<rect x="107.70" y="443.18" width="5.50" height="27.82" fill="#c6e3ae"/>
<line x1="98.60" y1="471.00" x2="98.60" y2="473.20" stroke="#231f20" stroke-width="0.6"/>
<rect x="120.80" y="426.49" width="5.50" height="44.51" fill="#7a7a7a"/>
<rect x="128.70" y="435.26" width="5.50" height="35.74" fill="#eca0a4"/>
<rect x="136.60" y="428.20" width="5.50" height="42.80" fill="#b9cfe7"/>
<rect x="144.50" y="435.26" width="5.50" height="35.74" fill="#c6e3ae"/>
<line x1="135.40" y1="471.00" x2="135.40" y2="473.20" stroke="#231f20" stroke-width="0.6"/>
<rect x="157.60" y="407.23" width="5.50" height="63.77" fill="#7a7a7a"/>
<rect x="165.50" y="407.23" width="5.50" height="63.77" fill="#eca0a4"/>
<rect x="173.40" y="407.23" width="5.50" height="63.77" fill="#b9cfe7"/>
<rect x="181.30" y="405.73" width="5.50" height="65.27" fill="#c6e3ae"/>
<line x1="172.20" y1="471.00" x2="172.20" y2="473.20" stroke="#231f20" stroke-width="0.6"/>
<circle cx="48.45" cy="458.03" r="1.5" fill="#fff" stroke="#333" stroke-width="0.5"/>
<circle cx="49.95" cy="456.93" r="1.5" fill="#fff" stroke="#333" stroke-width="0.5"/>
<circle cx="51.45" cy="457.93" r="1.5" fill="#fff" stroke="#333" stroke-width="0.5"/>
<circle cx="56.35" cy="470.53" r="1.5" fill="#fff" stroke="#e0474c" stroke-width="0.5"/>
<circle cx="57.85" cy="469.33" r="1.5" fill="#fff" stroke="#e0474c" stroke-width="0.5"/>
<circle cx="59.35" cy="470.23" r="1.5" fill="#fff" stroke="#e0474c" stroke-width="0.5"/>
<circle cx="65.75" cy="454.16" r="1.5" fill="#fff" stroke="#5b93cc" stroke-width="0.5"/>
<circle cx="64.25" cy="458.36" r="1.5" fill="#fff" stroke="#5b93cc" stroke-width="0.5"/>
<circle cx="67.25" cy="458.66" r="1.5" fill="#fff" stroke="#5b93cc" stroke-width="0.5"/>
<circle cx="72.15" cy="469.36" r="1.5" fill="#fff" stroke="#79b94f" stroke-width="0.5"/>
<circle cx="73.65" cy="468.16" r="1.5" fill="#fff" stroke="#79b94f" stroke-width="0.5"/>
<circle cx="75.15" cy="469.36" r="1.5" fill="#fff" stroke="#79b94f" stroke-width="0.5"/>
<circle cx="85.25" cy="440.47" r="1.5" fill="#fff" stroke="#333" stroke-width="0.5"/>
<circle cx="86.75" cy="439.17" r="1.5" fill="#fff" stroke="#333" stroke-width="0.5"/>
<circle cx="88.25" cy="440.27" r="1.5" fill="#fff" stroke="#333" stroke-width="0.5"/>
<circle cx="93.45" cy="442.82" r="1.5" fill="#fff" stroke="#e0474c" stroke-width="0.5"/>
<circle cx="95.85" cy="445.32" r="1.5" fill="#fff" stroke="#e0474c" stroke-width="0.5"/>
<circle cx="94.65" cy="447.82" r="1.5" fill="#fff" stroke="#e0474c" stroke-width="0.5"/>
<circle cx="101.05" cy="439.63" r="1.5" fill="#fff" stroke="#5b93cc" stroke-width="0.5"/>
<circle cx="102.55" cy="438.53" r="1.5" fill="#fff" stroke="#5b93cc" stroke-width="0.5"/>
<circle cx="104.05" cy="439.53" r="1.5" fill="#fff" stroke="#5b93cc" stroke-width="0.5"/>
<circle cx="108.95" cy="443.68" r="1.5" fill="#fff" stroke="#79b94f" stroke-width="0.5"/>
<circle cx="110.45" cy="442.58" r="1.5" fill="#fff" stroke="#79b94f" stroke-width="0.5"/>
<circle cx="111.95" cy="443.38" r="1.5" fill="#fff" stroke="#79b94f" stroke-width="0.5"/>
<circle cx="122.05" cy="428.49" r="1.5" fill="#fff" stroke="#333" stroke-width="0.5"/>
<circle cx="123.55" cy="423.99" r="1.5" fill="#fff" stroke="#333" stroke-width="0.5"/>
<circle cx="125.05" cy="427.99" r="1.5" fill="#fff" stroke="#333" stroke-width="0.5"/>
<circle cx="129.95" cy="436.06" r="1.5" fill="#fff" stroke="#e0474c" stroke-width="0.5"/>
<circle cx="131.45" cy="434.46" r="1.5" fill="#fff" stroke="#e0474c" stroke-width="0.5"/>
<circle cx="132.95" cy="435.56" r="1.5" fill="#fff" stroke="#e0474c" stroke-width="0.5"/>
<circle cx="137.85" cy="428.70" r="1.5" fill="#fff" stroke="#5b93cc" stroke-width="0.5"/>
<circle cx="139.35" cy="427.40" r="1.5" fill="#fff" stroke="#5b93cc" stroke-width="0.5"/>
<circle cx="140.85" cy="428.50" r="1.5" fill="#fff" stroke="#5b93cc" stroke-width="0.5"/>
<circle cx="145.75" cy="434.26" r="1.5" fill="#fff" stroke="#79b94f" stroke-width="0.5"/>
<circle cx="147.25" cy="438.26" r="1.5" fill="#fff" stroke="#79b94f" stroke-width="0.5"/>
<circle cx="148.75" cy="434.76" r="1.5" fill="#fff" stroke="#79b94f" stroke-width="0.5"/>
<circle cx="158.85" cy="407.73" r="1.5" fill="#fff" stroke="#333" stroke-width="0.5"/>
<circle cx="160.35" cy="406.63" r="1.5" fill="#fff" stroke="#333" stroke-width="0.5"/>
<circle cx="161.85" cy="407.53" r="1.5" fill="#fff" stroke="#333" stroke-width="0.5"/>
<circle cx="166.75" cy="407.73" r="1.5" fill="#fff" stroke="#e0474c" stroke-width="0.5"/>
<circle cx="168.25" cy="406.73" r="1.5" fill="#fff" stroke="#e0474c" stroke-width="0.5"/>
<circle cx="169.75" cy="407.53" r="1.5" fill="#fff" stroke="#e0474c" stroke-width="0.5"/>
<circle cx="174.65" cy="408.73" r="1.5" fill="#fff" stroke="#5b93cc" stroke-width="0.5"/>
<circle cx="176.15" cy="406.63" r="1.5" fill="#fff" stroke="#5b93cc" stroke-width="0.5"/>
<circle cx="177.65" cy="407.53" r="1.5" fill="#fff" stroke="#5b93cc" stroke-width="0.5"/>
<circle cx="182.55" cy="406.23" r="1.5" fill="#fff" stroke="#79b94f" stroke-width="0.5"/>
<circle cx="184.05" cy="405.13" r="1.5" fill="#fff" stroke="#79b94f" stroke-width="0.5"/>
<circle cx="185.55" cy="406.03" r="1.5" fill="#fff" stroke="#79b94f" stroke-width="0.5"/>
<text x="63.10" y="482.90" font-size="7.8" text-anchor="middle" letter-spacing="0.2">0.2</text>
<text x="98.60" y="482.90" font-size="7.8" text-anchor="middle" letter-spacing="0.2">1</text>
<text x="135.40" y="482.90" font-size="7.8" text-anchor="middle" letter-spacing="0.2">2</text>
<text x="172.20" y="482.90" font-size="7.8" text-anchor="middle" letter-spacing="0.2">10</text>
<text x="60.10" y="495.60" font-size="9.1">Glucose concentration (g l<tspan dy="-3.4" font-size="5.8">−1</tspan><tspan dy="3.4">)</tspan></text>
<text x="62.30" y="384.10" font-size="6.3" text-anchor="middle">&lt;0.0001</text>
<line x1="49.95" y1="385.40" x2="73.65" y2="385.40" stroke="#231f20" stroke-width="0.6"/>
<text x="58.35" y="392.90" font-size="6.3" text-anchor="middle">0.1910</text>
<line x1="49.95" y1="394.60" x2="65.75" y2="394.60" stroke="#231f20" stroke-width="0.6"/>
<text x="54.20" y="402.70" font-size="6.3" text-anchor="middle">&lt;0.0001</text>
<line x1="49.95" y1="403.80" x2="57.85" y2="403.80" stroke="#231f20" stroke-width="0.6"/>
<text x="99.10" y="384.10" font-size="6.3" text-anchor="middle">0.0191</text>
<line x1="86.75" y1="385.40" x2="110.45" y2="385.40" stroke="#231f20" stroke-width="0.6"/>
<text x="95.15" y="392.90" font-size="6.3" text-anchor="middle">0.5886</text>
<line x1="86.75" y1="394.60" x2="102.55" y2="394.60" stroke="#231f20" stroke-width="0.6"/>
<text x="92.20" y="402.70" font-size="6.3" text-anchor="middle">0.0026</text>
<line x1="86.75" y1="403.80" x2="94.65" y2="403.80" stroke="#231f20" stroke-width="0.6"/>
<text x="135.90" y="384.10" font-size="6.3" text-anchor="middle">0.0003</text>
<line x1="123.55" y1="385.40" x2="147.25" y2="385.40" stroke="#231f20" stroke-width="0.6"/>
<text x="131.95" y="392.90" font-size="6.3" text-anchor="middle">0.4824</text>
<line x1="123.55" y1="394.60" x2="139.35" y2="394.60" stroke="#231f20" stroke-width="0.6"/>
<text x="129.00" y="402.70" font-size="6.3" text-anchor="middle">0.0005</text>
<line x1="123.55" y1="403.80" x2="131.45" y2="403.80" stroke="#231f20" stroke-width="0.6"/>
<text x="172.70" y="384.10" font-size="6.3" text-anchor="middle">0.8430</text>
<line x1="160.35" y1="385.40" x2="184.05" y2="385.40" stroke="#231f20" stroke-width="0.6"/>
<text x="168.75" y="392.90" font-size="6.3" text-anchor="middle">0.9931</text>
<line x1="160.35" y1="394.60" x2="176.15" y2="394.60" stroke="#231f20" stroke-width="0.6"/>
<text x="165.80" y="402.70" font-size="6.3" text-anchor="middle">0.2037</text>
<line x1="160.35" y1="403.80" x2="168.25" y2="403.80" stroke="#231f20" stroke-width="0.6"/>
<circle cx="194.00" cy="387.40" r="1.6" fill="#fff" stroke="#333" stroke-width="0.6"/>
<text x="200.90" y="389.60" font-size="6.2">WT</text>
<circle cx="194.00" cy="397.00" r="1.6" fill="#fff" stroke="#e0474c" stroke-width="0.6"/>
<text x="200.90" y="399.20" font-size="6.2">Δ<tspan font-style="italic">manY</tspan></text>
<circle cx="194.00" cy="407.20" r="1.6" fill="#fff" stroke="#5b93cc" stroke-width="0.6"/>
<text x="200.90" y="409.40" font-size="6.2">CΔ<tspan font-style="italic">manY</tspan></text>
<circle cx="194.00" cy="417.00" r="1.6" fill="#fff" stroke="#79b94f" stroke-width="0.6"/>
<text x="200.90" y="419.20" font-size="6.2">SEZ::P<tspan dy="1.6" font-size="3.2">manX(A909)</tspan></text>
<text transform="translate(282.6 366.8) scale(1.02 1)" font-size="12" font-weight="bold" fill="#000" stroke="#000" stroke-width="0.55">g</text>
<text x="394.10" y="372.00" font-size="9" text-anchor="middle">Moribund</text>
<line x1="323.60" y1="383.50" x2="323.60" y2="471.00" stroke="#231f20" stroke-width="0.7"/>
<line x1="321.40" y1="470.80" x2="323.60" y2="470.80" stroke="#231f20" stroke-width="0.6"/>
<line x1="322.30" y1="463.61" x2="323.60" y2="463.61" stroke="#231f20" stroke-width="0.5"/>
<line x1="321.40" y1="456.42" x2="323.60" y2="456.42" stroke="#231f20" stroke-width="0.6"/>
<line x1="322.30" y1="449.23" x2="323.60" y2="449.23" stroke="#231f20" stroke-width="0.5"/>
<line x1="321.40" y1="442.04" x2="323.60" y2="442.04" stroke="#231f20" stroke-width="0.6"/>
<line x1="322.30" y1="434.85" x2="323.60" y2="434.85" stroke="#231f20" stroke-width="0.5"/>
<line x1="321.40" y1="427.66" x2="323.60" y2="427.66" stroke="#231f20" stroke-width="0.6"/>
<line x1="322.30" y1="420.47" x2="323.60" y2="420.47" stroke="#231f20" stroke-width="0.5"/>
<line x1="321.40" y1="413.28" x2="323.60" y2="413.28" stroke="#231f20" stroke-width="0.6"/>
<line x1="322.30" y1="406.09" x2="323.60" y2="406.09" stroke="#231f20" stroke-width="0.5"/>
<line x1="321.40" y1="398.90" x2="323.60" y2="398.90" stroke="#231f20" stroke-width="0.6"/>
<line x1="322.30" y1="391.71" x2="323.60" y2="391.71" stroke="#231f20" stroke-width="0.5"/>
<line x1="321.40" y1="384.52" x2="323.60" y2="384.52" stroke="#231f20" stroke-width="0.6"/>
<text x="314.00" y="473.40" font-size="7.2" text-anchor="end" letter-spacing="0.2">10</text>
<text x="314.10" y="470.20" font-size="4.5">0</text>
<text x="314.00" y="459.02" font-size="7.2" text-anchor="end" letter-spacing="0.2">10</text>
<text x="314.10" y="455.82" font-size="4.5">2</text>
<text x="314.00" y="444.64" font-size="7.2" text-anchor="end" letter-spacing="0.2">10</text>
<text x="314.10" y="441.44" font-size="4.5">4</text>
<text x="314.00" y="430.26" font-size="7.2" text-anchor="end" letter-spacing="0.2">10</text>
<text x="314.10" y="427.06" font-size="4.5">6</text>
<text x="314.00" y="415.88" font-size="7.2" text-anchor="end" letter-spacing="0.2">10</text>
<text x="314.10" y="412.68" font-size="4.5">8</text>
<text x="314.00" y="401.50" font-size="7.2" text-anchor="end" letter-spacing="0.2">10</text>
<text x="314.10" y="398.30" font-size="4.5">10</text>
<text x="314.00" y="387.12" font-size="7.2" text-anchor="end" letter-spacing="0.2">10</text>
<text x="314.10" y="383.92" font-size="4.5">12</text>
<text x="290.80" y="427.50" font-size="8.6" text-anchor="middle" transform="rotate(-90 290.80 427.50)">CFU per organ or 1 ml</text>
<text x="301.00" y="430.00" font-size="8.6" text-anchor="middle" transform="rotate(-90 301.00 430.00)">blood/CSF</text>
<line x1="323.60" y1="471.00" x2="462.40" y2="471.00" stroke="#231f20" stroke-width="0.7"/>
<line x1="333.80" y1="471.00" x2="333.80" y2="473.20" stroke="#231f20" stroke-width="0.6"/>
<text x="337.60" y="478.40" font-size="8" text-anchor="end" transform="rotate(-45 337.60 478.40)">Brain</text>
<line x1="353.80" y1="471.00" x2="353.80" y2="473.20" stroke="#231f20" stroke-width="0.6"/>
<text x="357.60" y="478.40" font-size="8" text-anchor="end" transform="rotate(-45 357.60 478.40)">CSF</text>
<line x1="373.80" y1="471.00" x2="373.80" y2="473.20" stroke="#231f20" stroke-width="0.6"/>
<text x="377.60" y="478.40" font-size="8" text-anchor="end" transform="rotate(-45 377.60 478.40)">Liver</text>
<line x1="393.80" y1="471.00" x2="393.80" y2="473.20" stroke="#231f20" stroke-width="0.6"/>
<text x="397.60" y="478.40" font-size="8" text-anchor="end" transform="rotate(-45 397.60 478.40)">Spleen</text>
<line x1="413.80" y1="471.00" x2="413.80" y2="473.20" stroke="#231f20" stroke-width="0.6"/>
<text x="417.60" y="478.40" font-size="8" text-anchor="end" transform="rotate(-45 417.60 478.40)">Lung</text>
<line x1="433.80" y1="471.00" x2="433.80" y2="473.20" stroke="#231f20" stroke-width="0.6"/>
<text x="437.60" y="478.40" font-size="8" text-anchor="end" transform="rotate(-45 437.60 478.40)">Kidney</text>
<line x1="453.80" y1="471.00" x2="453.80" y2="473.20" stroke="#231f20" stroke-width="0.6"/>
<text x="457.60" y="478.40" font-size="8" text-anchor="end" transform="rotate(-45 457.60 478.40)">Blood</text>
<circle cx="330.16" cy="397.23" r="2.0" fill="none" stroke="#333" stroke-width="0.65"/>
<circle cx="327.41" cy="401.46" r="2.0" fill="none" stroke="#333" stroke-width="0.65"/>
<circle cx="331.64" cy="400.40" r="2.0" fill="none" stroke="#333" stroke-width="0.65"/>
<circle cx="329.53" cy="404.64" r="2.0" fill="none" stroke="#333" stroke-width="0.65"/>
<circle cx="329.53" cy="406.75" r="2.0" fill="none" stroke="#333" stroke-width="0.65"/>
<circle cx="331.64" cy="402.52" r="2.0" fill="none" stroke="#333" stroke-width="0.65"/>
<line x1="330.00" y1="397.23" x2="330.00" y2="406.75" stroke="#000" stroke-width="0.7"/>
<line x1="326.80" y1="401.88" x2="333.20" y2="401.88" stroke="#000" stroke-width="1.3"/>
<circle cx="337.36" cy="415.64" r="2.0" fill="none" stroke="#98cc78" stroke-width="0.65"/>
<circle cx="335.88" cy="424.11" r="2.0" fill="none" stroke="#98cc78" stroke-width="0.65"/>
<circle cx="337.99" cy="425.80" r="2.0" fill="none" stroke="#98cc78" stroke-width="0.65"/>
<circle cx="334.82" cy="428.98" r="2.0" fill="none" stroke="#98cc78" stroke-width="0.65"/>
<circle cx="336.93" cy="431.73" r="2.0" fill="none" stroke="#98cc78" stroke-width="0.65"/>
<circle cx="335.88" cy="434.27" r="2.0" fill="none" stroke="#98cc78" stroke-width="0.65"/>
<circle cx="337.36" cy="437.45" r="2.0" fill="none" stroke="#98cc78" stroke-width="0.65"/>
<line x1="337.80" y1="420.51" x2="337.80" y2="435.33" stroke="#7cb85a" stroke-width="0.7"/>
<line x1="334.60" y1="427.92" x2="341.00" y2="427.92" stroke="#7cb85a" stroke-width="1.3"/>
<circle cx="349.64" cy="396.59" r="2.0" fill="none" stroke="#333" stroke-width="0.65"/>
<circle cx="348.58" cy="406.75" r="2.0" fill="none" stroke="#333" stroke-width="0.65"/>
<circle cx="349.64" cy="414.16" r="2.0" fill="none" stroke="#333" stroke-width="0.65"/>
<circle cx="351.75" cy="409.93" r="2.0" fill="none" stroke="#333" stroke-width="0.65"/>
<line x1="350.00" y1="399.34" x2="350.00" y2="413.10" stroke="#000" stroke-width="0.7"/>
<line x1="346.80" y1="406.33" x2="353.20" y2="406.33" stroke="#000" stroke-width="1.3"/>
<circle cx="357.04" cy="416.28" r="2.0" fill="none" stroke="#98cc78" stroke-width="0.65"/>
<circle cx="355.99" cy="423.69" r="2.0" fill="none" stroke="#98cc78" stroke-width="0.65"/>
<circle cx="358.10" cy="432.15" r="2.0" fill="none" stroke="#98cc78" stroke-width="0.65"/>
<circle cx="355.99" cy="436.39" r="2.0" fill="none" stroke="#98cc78" stroke-width="0.65"/>
<circle cx="357.04" cy="439.56" r="2.0" fill="none" stroke="#98cc78" stroke-width="0.65"/>
<line x1="357.80" y1="420.51" x2="357.80" y2="436.39" stroke="#7cb85a" stroke-width="0.7"/>
<line x1="354.60" y1="428.34" x2="361.00" y2="428.34" stroke="#7cb85a" stroke-width="1.3"/>
<circle cx="370.38" cy="413.53" r="2.0" fill="none" stroke="#333" stroke-width="0.65"/>
<circle cx="368.69" cy="416.28" r="2.0" fill="none" stroke="#333" stroke-width="0.65"/>
<circle cx="370.80" cy="418.40" r="2.0" fill="none" stroke="#333" stroke-width="0.65"/>
<circle cx="369.75" cy="421.99" r="2.0" fill="none" stroke="#333" stroke-width="0.65"/>
<line x1="370.00" y1="414.80" x2="370.00" y2="420.51" stroke="#000" stroke-width="0.7"/>
<line x1="366.80" y1="417.34" x2="373.20" y2="417.34" stroke="#000" stroke-width="1.3"/>
<circle cx="377.15" cy="411.41" r="2.0" fill="none" stroke="#98cc78" stroke-width="0.65"/>
<circle cx="376.10" cy="414.16" r="2.0" fill="none" stroke="#98cc78" stroke-width="0.65"/>
<circle cx="378.85" cy="416.28" r="2.0" fill="none" stroke="#98cc78" stroke-width="0.65"/>
<circle cx="376.73" cy="419.45" r="2.0" fill="none" stroke="#98cc78" stroke-width="0.65"/>
<circle cx="377.58" cy="420.51" r="2.0" fill="none" stroke="#98cc78" stroke-width="0.65"/>
<line x1="377.80" y1="412.68" x2="377.80" y2="418.40" stroke="#7cb85a" stroke-width="0.7"/>
<line x1="374.60" y1="415.22" x2="381.00" y2="415.22" stroke="#7cb85a" stroke-width="1.3"/>
<circle cx="389.86" cy="425.80" r="2.0" fill="none" stroke="#333" stroke-width="0.65"/>
<circle cx="388.80" cy="427.50" r="2.0" fill="none" stroke="#333" stroke-width="0.65"/>
<circle cx="390.91" cy="426.86" r="2.0" fill="none" stroke="#333" stroke-width="0.65"/>
<circle cx="389.86" cy="430.46" r="2.0" fill="none" stroke="#333" stroke-width="0.65"/>
<line x1="390.00" y1="424.96" x2="390.00" y2="428.34" stroke="#000" stroke-width="0.7"/>
<line x1="386.80" y1="426.44" x2="393.20" y2="426.44" stroke="#000" stroke-width="1.3"/>
<circle cx="397.90" cy="416.28" r="2.0" fill="none" stroke="#98cc78" stroke-width="0.65"/>
<circle cx="396.21" cy="419.45" r="2.0" fill="none" stroke="#98cc78" stroke-width="0.65"/>
<circle cx="398.75" cy="420.51" r="2.0" fill="none" stroke="#98cc78" stroke-width="0.65"/>
<circle cx="397.27" cy="421.99" r="2.0" fill="none" stroke="#98cc78" stroke-width="0.65"/>
<line x1="397.80" y1="417.34" x2="397.80" y2="421.99" stroke="#7cb85a" stroke-width="0.7"/>
<line x1="394.60" y1="419.88" x2="401.00" y2="419.88" stroke="#7cb85a" stroke-width="1.3"/>
<circle cx="409.97" cy="423.26" r="2.0" fill="none" stroke="#333" stroke-width="0.65"/>
<circle cx="408.48" cy="427.92" r="2.0" fill="none" stroke="#333" stroke-width="0.65"/>
<circle cx="410.60" cy="430.46" r="2.0" fill="none" stroke="#333" stroke-width="0.65"/>
<circle cx="409.97" cy="433.85" r="2.0" fill="none" stroke="#333" stroke-width="0.65"/>
<line x1="410.00" y1="424.11" x2="410.00" y2="431.10" stroke="#000" stroke-width="0.7"/>
<line x1="406.80" y1="427.29" x2="413.20" y2="427.29" stroke="#000" stroke-width="1.3"/>
<circle cx="417.80" cy="417.34" r="2.0" fill="none" stroke="#98cc78" stroke-width="0.65"/>
<circle cx="416.32" cy="419.45" r="2.0" fill="none" stroke="#98cc78" stroke-width="0.65"/>
<circle cx="419.07" cy="422.63" r="2.0" fill="none" stroke="#98cc78" stroke-width="0.65"/>
<circle cx="417.38" cy="425.80" r="2.0" fill="none" stroke="#98cc78" stroke-width="0.65"/>
<line x1="417.80" y1="418.40" x2="417.80" y2="424.11" stroke="#7cb85a" stroke-width="0.7"/>
<line x1="414.60" y1="421.15" x2="421.00" y2="421.15" stroke="#7cb85a" stroke-width="1.3"/>
<circle cx="429.65" cy="424.11" r="2.0" fill="none" stroke="#333" stroke-width="0.65"/>
<circle cx="428.38" cy="432.15" r="2.0" fill="none" stroke="#333" stroke-width="0.65"/>
<circle cx="430.50" cy="435.33" r="2.0" fill="none" stroke="#333" stroke-width="0.65"/>
<circle cx="429.02" cy="436.39" r="2.0" fill="none" stroke="#333" stroke-width="0.65"/>
<line x1="430.00" y1="427.92" x2="430.00" y2="435.97" stroke="#000" stroke-width="0.7"/>
<line x1="426.80" y1="432.15" x2="433.20" y2="432.15" stroke="#000" stroke-width="1.3"/>
<circle cx="436.43" cy="417.34" r="2.0" fill="none" stroke="#98cc78" stroke-width="0.65"/>
<circle cx="436.00" cy="419.45" r="2.0" fill="none" stroke="#98cc78" stroke-width="0.65"/>
<circle cx="437.49" cy="425.80" r="2.0" fill="none" stroke="#98cc78" stroke-width="0.65"/>
<circle cx="435.37" cy="428.98" r="2.0" fill="none" stroke="#98cc78" stroke-width="0.65"/>
<circle cx="436.43" cy="433.21" r="2.0" fill="none" stroke="#98cc78" stroke-width="0.65"/>
<line x1="437.80" y1="419.45" x2="437.80" y2="430.46" stroke="#7cb85a" stroke-width="0.7"/>
<line x1="434.60" y1="425.17" x2="441.00" y2="425.17" stroke="#7cb85a" stroke-width="1.3"/>
<circle cx="449.55" cy="419.03" r="2.0" fill="none" stroke="#333" stroke-width="0.65"/>
<circle cx="448.70" cy="423.69" r="2.0" fill="none" stroke="#333" stroke-width="0.65"/>
<circle cx="450.19" cy="427.92" r="2.0" fill="none" stroke="#333" stroke-width="0.65"/>
<circle cx="449.13" cy="432.15" r="2.0" fill="none" stroke="#333" stroke-width="0.65"/>
<line x1="450.00" y1="421.99" x2="450.00" y2="430.04" stroke="#000" stroke-width="0.7"/>
<line x1="446.80" y1="425.80" x2="453.20" y2="425.80" stroke="#000" stroke-width="1.3"/>
<circle cx="457.17" cy="421.15" r="2.0" fill="none" stroke="#98cc78" stroke-width="0.65"/>
<circle cx="456.54" cy="422.63" r="2.0" fill="none" stroke="#98cc78" stroke-width="0.65"/>
<circle cx="457.60" cy="424.75" r="2.0" fill="none" stroke="#98cc78" stroke-width="0.65"/>
<circle cx="457.17" cy="428.34" r="2.0" fill="none" stroke="#98cc78" stroke-width="0.65"/>
<line x1="457.80" y1="421.15" x2="457.80" y2="425.80" stroke="#7cb85a" stroke-width="0.7"/>
<line x1="454.60" y1="423.26" x2="461.00" y2="423.26" stroke="#7cb85a" stroke-width="1.3"/>
<text x="336.80" y="381.10" font-size="6.6" text-anchor="middle">&lt;0.0001</text>
<line x1="329.50" y1="384.50" x2="337.00" y2="384.50" stroke="#888" stroke-width="0.8"/>
<text x="356.90" y="388.90" font-size="6.6" text-anchor="middle">&lt;0.0001</text>
<line x1="349.60" y1="391.90" x2="357.70" y2="391.90" stroke="#888" stroke-width="0.8"/>
<circle cx="393.00" cy="451.50" r="2.0" fill="#fff" stroke="#333" stroke-width="0.65"/>
<text x="397.90" y="453.80" font-size="6.2">WT</text>
<circle cx="393.00" cy="463.20" r="2.0" fill="#fff" stroke="#98cc78" stroke-width="0.65"/>
<text x="397.90" y="465.50" font-size="6.2">SEZ :: P<tspan dy="1.6" font-size="3.2">manX(A909)</tspan></text>
<text transform="translate(508.8 367.3) scale(1.02 1)" font-size="12" font-weight="bold" fill="#000" stroke="#000" stroke-width="0.55">h</text>
<text x="559.80" y="367.60" font-size="9.2" text-anchor="middle">Brain</text>
<text x="593.40" y="367.60" font-size="9.2" text-anchor="middle">CSF</text>
<line x1="544.30" y1="374.00" x2="544.30" y2="470.60" stroke="#231f20" stroke-width="0.7"/>
<line x1="542.10" y1="470.40" x2="544.30" y2="470.40" stroke="#231f20" stroke-width="0.6"/>
<text x="538.00" y="473.00" font-size="7.2" text-anchor="end" letter-spacing="0.2">10</text>
<text x="538.20" y="469.80" font-size="4.5">4</text>
<line x1="542.10" y1="458.57" x2="544.30" y2="458.57" stroke="#231f20" stroke-width="0.6"/>
<text x="538.00" y="461.17" font-size="7.2" text-anchor="end" letter-spacing="0.2">10</text>
<text x="538.20" y="457.97" font-size="4.5">5</text>
<line x1="542.10" y1="446.74" x2="544.30" y2="446.74" stroke="#231f20" stroke-width="0.6"/>
<text x="538.00" y="449.34" font-size="7.2" text-anchor="end" letter-spacing="0.2">10</text>
<text x="538.20" y="446.14" font-size="4.5">6</text>
<line x1="542.10" y1="434.91" x2="544.30" y2="434.91" stroke="#231f20" stroke-width="0.6"/>
<text x="538.00" y="437.51" font-size="7.2" text-anchor="end" letter-spacing="0.2">10</text>
<text x="538.20" y="434.31" font-size="4.5">7</text>
<line x1="542.10" y1="423.08" x2="544.30" y2="423.08" stroke="#231f20" stroke-width="0.6"/>
<text x="538.00" y="425.68" font-size="7.2" text-anchor="end" letter-spacing="0.2">10</text>
<text x="538.20" y="422.48" font-size="4.5">8</text>
<line x1="542.10" y1="411.25" x2="544.30" y2="411.25" stroke="#231f20" stroke-width="0.6"/>
<text x="538.00" y="413.85" font-size="7.2" text-anchor="end" letter-spacing="0.2">10</text>
<text x="538.20" y="410.65" font-size="4.5">9</text>
<line x1="542.10" y1="399.42" x2="544.30" y2="399.42" stroke="#231f20" stroke-width="0.6"/>
<text x="538.00" y="402.02" font-size="7.2" text-anchor="end" letter-spacing="0.2">10</text>
<text x="538.20" y="398.82" font-size="4.5">10</text>
<line x1="542.10" y1="387.59" x2="544.30" y2="387.59" stroke="#231f20" stroke-width="0.6"/>
<text x="538.00" y="390.19" font-size="7.2" text-anchor="end" letter-spacing="0.2">10</text>
<text x="538.20" y="386.99" font-size="4.5">11</text>
<line x1="542.10" y1="375.76" x2="544.30" y2="375.76" stroke="#231f20" stroke-width="0.6"/>
<text x="538.00" y="378.36" font-size="7.2" text-anchor="end" letter-spacing="0.2">10</text>
<text x="538.20" y="375.16" font-size="4.5">12</text>
<text x="515.20" y="424.50" font-size="8.4" text-anchor="middle" transform="rotate(-90 515.20 424.50)">CFU per organ or 1 ml CSF</text>
<line x1="544.30" y1="470.40" x2="609.90" y2="470.40" stroke="#231f20" stroke-width="0.7"/>
<line x1="576.30" y1="374.50" x2="576.30" y2="470.40" stroke="#333" stroke-width="0.8" stroke-dasharray="0.9,0.9"/>
<rect x="546.50" y="412.40" width="11.40" height="58.00" fill="#7a7a7a"/>
<line x1="552.20" y1="470.40" x2="552.20" y2="472.60" stroke="#231f20" stroke-width="0.6"/>
<rect x="563.00" y="433.80" width="11.40" height="36.60" fill="#c6e3ae"/>
<line x1="568.70" y1="470.40" x2="568.70" y2="472.60" stroke="#231f20" stroke-width="0.6"/>
<rect x="578.60" y="404.50" width="11.40" height="65.90" fill="#7a7a7a"/>
<line x1="584.30" y1="470.40" x2="584.30" y2="472.60" stroke="#231f20" stroke-width="0.6"/>
<rect x="595.50" y="435.90" width="11.40" height="34.50" fill="#c6e3ae"/>
<line x1="601.20" y1="470.40" x2="601.20" y2="472.60" stroke="#231f20" stroke-width="0.6"/>
<line x1="601.20" y1="419.10" x2="601.20" y2="454.20" stroke="#79b94f" stroke-width="0.7"/>
<line x1="599.60" y1="419.10" x2="602.80" y2="419.10" stroke="#79b94f" stroke-width="0.7"/>
<circle cx="549.00" cy="413.20" r="1.8" fill="#fff" stroke="#333" stroke-width="0.6"/>
<circle cx="551.20" cy="411.80" r="1.8" fill="#fff" stroke="#333" stroke-width="0.6"/>
<circle cx="553.40" cy="412.60" r="1.8" fill="#fff" stroke="#333" stroke-width="0.6"/>
<circle cx="555.60" cy="412.20" r="1.8" fill="#fff" stroke="#333" stroke-width="0.6"/>
<circle cx="566.20" cy="434.60" r="1.8" fill="#fff" stroke="#79b94f" stroke-width="0.6"/>
<circle cx="568.70" cy="433.20" r="1.8" fill="#fff" stroke="#79b94f" stroke-width="0.6"/>
<circle cx="571.20" cy="433.60" r="1.8" fill="#fff" stroke="#79b94f" stroke-width="0.6"/>
<circle cx="581.10" cy="403.30" r="1.8" fill="#fff" stroke="#333" stroke-width="0.6"/>
<circle cx="583.30" cy="405.00" r="1.8" fill="#fff" stroke="#333" stroke-width="0.6"/>
<circle cx="585.50" cy="404.20" r="1.8" fill="#fff" stroke="#333" stroke-width="0.6"/>
<circle cx="587.70" cy="405.30" r="1.8" fill="#fff" stroke="#333" stroke-width="0.6"/>
<circle cx="601.20" cy="420.60" r="1.8" fill="#fff" stroke="#79b94f" stroke-width="0.6"/>
<circle cx="601.20" cy="445.00" r="1.8" fill="#fff" stroke="#79b94f" stroke-width="0.6"/>
<circle cx="601.20" cy="452.10" r="1.8" fill="#fff" stroke="#79b94f" stroke-width="0.6"/>
<text x="559.80" y="391.00" font-size="6.5" text-anchor="middle">0.0103</text>
<line x1="552.40" y1="392.60" x2="567.50" y2="392.60" stroke="#231f20" stroke-width="0.6"/>
<text x="593.60" y="391.00" font-size="6.5" text-anchor="middle">0.0012</text>
<line x1="586.20" y1="392.60" x2="601.20" y2="392.60" stroke="#231f20" stroke-width="0.6"/>
<text x="555.80" y="480.00" font-size="8" text-anchor="end" transform="rotate(-45 555.80 480.00)">WT</text>
<text x="587.90" y="480.00" font-size="8" text-anchor="end" transform="rotate(-45 587.90 480.00)">WT</text>
<text x="573.90" y="480.20" font-size="7.6" text-anchor="end" transform="rotate(-45 573.90 480.20)">SEZ::P<tspan dy="2.2" font-size="3.9">manX(A909)</tspan></text>
<text x="606.40" y="480.20" font-size="7.6" text-anchor="end" transform="rotate(-45 606.40 480.20)">SEZ::P<tspan dy="2.2" font-size="3.9">manX(A909)</tspan></text>
</svg></body></html>
